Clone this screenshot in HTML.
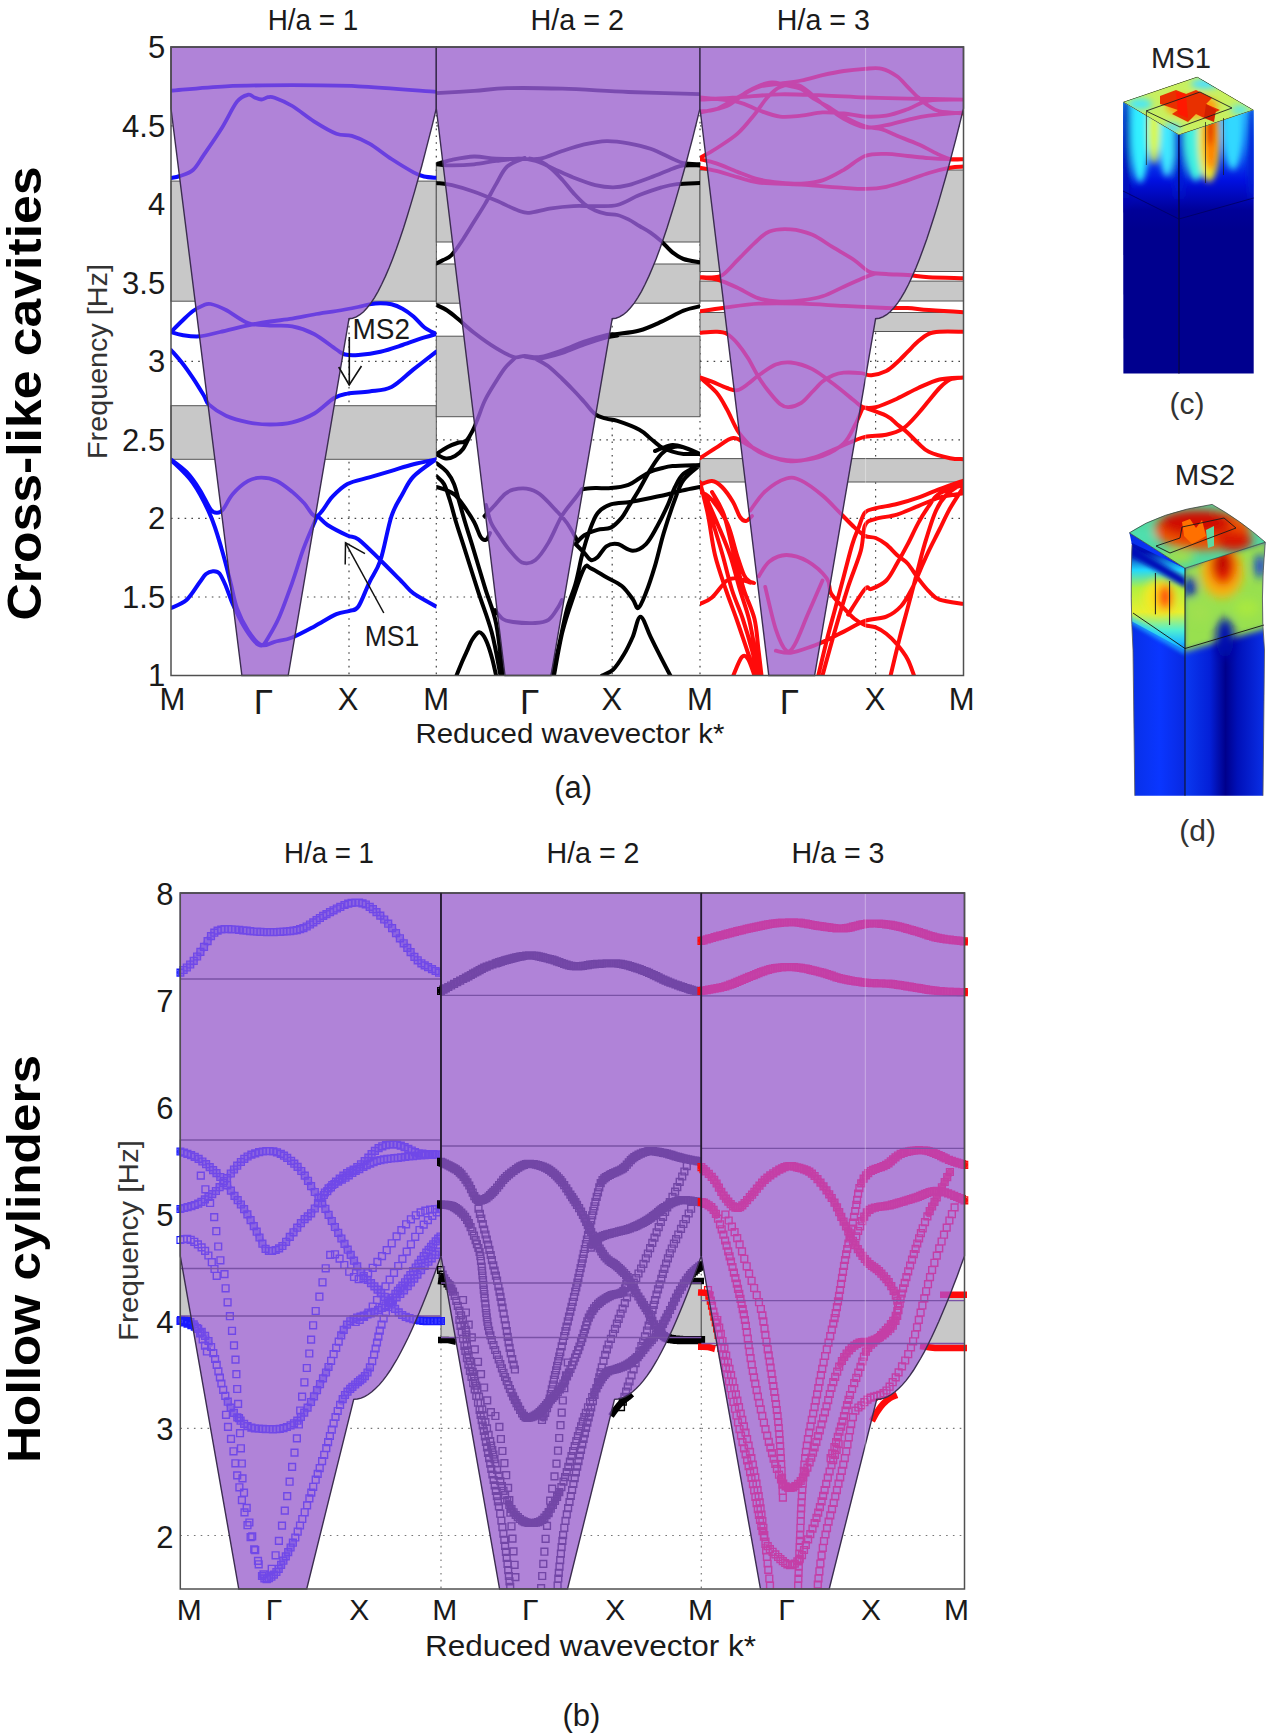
<!DOCTYPE html>
<html><head><meta charset='utf-8'><title>Band structures</title>
<style>html,body{margin:0;padding:0;background:#fff;}svg{display:block;}</style>
</head><body>
<svg width='1270' height='1735' viewBox='0 0 1270 1735' font-family='Liberation Sans, sans-serif'>
<rect x='0' y='0' width='1270' height='1735' fill='#ffffff'/>
<defs><clipPath id='ra0'><rect x='171' y='47' width='265.3' height='628.5'/></clipPath><clipPath id='ra1'><rect x='436.3' y='47' width='263.7' height='628.5'/></clipPath><clipPath id='ra2'><rect x='700' y='47' width='263.5' height='628.5'/></clipPath><clipPath id='rb0'><rect x='176.3' y='890' width='268.7' height='699'/></clipPath><clipPath id='rb1'><rect x='437' y='890' width='268.3' height='699'/></clipPath><clipPath id='rb2'><rect x='697.3' y='890' width='271.2' height='699'/></clipPath>
<clipPath id='ca0'><path d='M171,47 L436.3,47 L436.3,108.5 L436.3,108.5 L432.7,123.3 L429,137.8 L425.4,151.9 L421.8,165.7 L418.1,179 L414.5,191.9 L410.8,204.4 L407.2,216.3 L403.6,227.8 L399.9,238.7 L396.3,249.1 L392.6,258.9 L389,268 L385.4,276.4 L381.7,284.2 L378.1,291.3 L374.5,297.6 L370.8,303.1 L367.2,307.8 L363.6,311.7 L359.9,314.7 L356.3,316.9 L352.6,318.2 L349,318.7 L288.2,675.5 L241.9,675.5 L171,108.5 Z'/></clipPath>
<clipPath id='ca1'><path d='M436.3,47 L700,47 L700,108.5 L700,108.5 L696.3,123.3 L692.7,137.8 L689,151.9 L685.4,165.7 L681.7,179 L678,191.9 L674.4,204.4 L670.7,216.3 L667.1,227.8 L663.4,238.7 L659.8,249.1 L656.1,258.9 L652.4,268 L648.8,276.4 L645.1,284.2 L641.5,291.3 L637.8,297.6 L634.2,303.1 L630.5,307.8 L626.8,311.7 L623.2,314.7 L619.5,316.9 L615.9,318.2 L612.2,318.7 L551,675.5 L505,675.5 L436.3,108.5 Z'/></clipPath>
<clipPath id='ca2'><path d='M700,47 L963.5,47 L963.5,108.5 L963.5,108.5 L959.8,123.3 L956.2,137.8 L952.5,151.9 L948.9,165.7 L945.2,179 L941.5,191.9 L937.9,204.4 L934.2,216.3 L930.5,227.8 L926.9,238.7 L923.2,249.1 L919.5,258.9 L915.9,268 L912.2,276.4 L908.6,284.2 L904.9,291.3 L901.2,297.6 L897.6,303.1 L893.9,307.8 L890.2,311.7 L886.6,314.7 L882.9,316.9 L879.3,318.2 L875.6,318.7 L814.6,675.5 L768.8,675.5 L700,108.5 Z'/></clipPath>
<clipPath id='cb0'><path d='M180.3,893 L441,893 L441,1256 L441,1256 L437.4,1266.1 L433.7,1275.9 L430.1,1285.6 L426.4,1294.9 L422.8,1304 L419.2,1312.8 L415.5,1321.3 L411.9,1329.5 L408.3,1337.3 L404.6,1344.8 L401,1351.8 L397.4,1358.5 L393.7,1364.7 L390.1,1370.5 L386.4,1375.8 L382.8,1380.6 L379.2,1384.9 L375.5,1388.6 L371.9,1391.8 L368.2,1394.5 L364.6,1396.6 L361,1398.1 L357.3,1399 L353.7,1399.3 L306.7,1589 L238.8,1589 L180.3,1256 Z'/></clipPath>
<clipPath id='cb1'><path d='M441,893 L701.3,893 L701.3,1256 L701.3,1256 L697.7,1266.1 L694.1,1275.9 L690.4,1285.6 L686.8,1294.9 L683.2,1304 L679.6,1312.8 L676,1321.3 L672.4,1329.5 L668.8,1337.3 L665.1,1344.8 L661.5,1351.8 L657.9,1358.5 L654.3,1364.7 L650.7,1370.5 L647,1375.8 L643.4,1380.6 L639.8,1384.9 L636.2,1388.6 L632.6,1391.8 L629,1394.5 L625.4,1396.6 L621.7,1398.1 L618.1,1399 L614.5,1399.3 L567.5,1589 L499.6,1589 L441,1256 Z'/></clipPath>
<clipPath id='cb2'><path d='M701.3,893 L964.5,893 L964.5,1256 L964.5,1256 L960.8,1266.1 L957.2,1275.9 L953.5,1285.6 L949.9,1294.9 L946.2,1304 L942.5,1312.8 L938.9,1321.3 L935.2,1329.5 L931.6,1337.3 L927.9,1344.8 L924.3,1351.8 L920.6,1358.5 L916.9,1364.7 L913.3,1370.5 L909.6,1375.8 L906,1380.6 L902.3,1384.9 L898.7,1388.6 L895,1391.8 L891.3,1394.5 L887.7,1396.6 L884,1398.1 L880.4,1399 L876.7,1399.3 L829.2,1589 L760.5,1589 L701.3,1256 Z'/></clipPath>
</defs>
<line x1='171' y1='597' x2='436.3' y2='597' stroke='#444' stroke-width='1.2' stroke-dasharray='1.6 5.2'/>
<line x1='171' y1='518.4' x2='436.3' y2='518.4' stroke='#444' stroke-width='1.2' stroke-dasharray='1.6 5.2'/>
<line x1='171' y1='439.9' x2='436.3' y2='439.9' stroke='#444' stroke-width='1.2' stroke-dasharray='1.6 5.2'/>
<line x1='171' y1='361.4' x2='436.3' y2='361.4' stroke='#444' stroke-width='1.2' stroke-dasharray='1.6 5.2'/>
<line x1='171' y1='282.9' x2='436.3' y2='282.9' stroke='#444' stroke-width='1.2' stroke-dasharray='1.6 5.2'/>
<line x1='171' y1='204.3' x2='436.3' y2='204.3' stroke='#444' stroke-width='1.2' stroke-dasharray='1.6 5.2'/>
<line x1='171' y1='125.8' x2='436.3' y2='125.8' stroke='#444' stroke-width='1.2' stroke-dasharray='1.6 5.2'/>
<line x1='349' y1='47' x2='349' y2='675.5' stroke='#444' stroke-width='1.2' stroke-dasharray='1.6 5.2'/>
<line x1='436.3' y1='47' x2='436.3' y2='675.5' stroke='#444' stroke-width='1.2' stroke-dasharray='1.6 5.2'/>
<rect x='171' y='181.1' width='265.3' height='120.1' fill='#C8C8C8' stroke='#555' stroke-width='1'/>
<rect x='171' y='405.7' width='265.3' height='53.6' fill='#C8C8C8' stroke='#555' stroke-width='1'/>
<line x1='436.3' y1='597' x2='700' y2='597' stroke='#444' stroke-width='1.2' stroke-dasharray='1.6 5.2'/>
<line x1='436.3' y1='518.4' x2='700' y2='518.4' stroke='#444' stroke-width='1.2' stroke-dasharray='1.6 5.2'/>
<line x1='436.3' y1='439.9' x2='700' y2='439.9' stroke='#444' stroke-width='1.2' stroke-dasharray='1.6 5.2'/>
<line x1='436.3' y1='361.4' x2='700' y2='361.4' stroke='#444' stroke-width='1.2' stroke-dasharray='1.6 5.2'/>
<line x1='436.3' y1='282.9' x2='700' y2='282.9' stroke='#444' stroke-width='1.2' stroke-dasharray='1.6 5.2'/>
<line x1='436.3' y1='204.3' x2='700' y2='204.3' stroke='#444' stroke-width='1.2' stroke-dasharray='1.6 5.2'/>
<line x1='436.3' y1='125.8' x2='700' y2='125.8' stroke='#444' stroke-width='1.2' stroke-dasharray='1.6 5.2'/>
<line x1='612.2' y1='47' x2='612.2' y2='675.5' stroke='#444' stroke-width='1.2' stroke-dasharray='1.6 5.2'/>
<line x1='700' y1='47' x2='700' y2='675.5' stroke='#444' stroke-width='1.2' stroke-dasharray='1.6 5.2'/>
<rect x='436.3' y='164.5' width='263.7' height='77.5' fill='#C8C8C8' stroke='#555' stroke-width='1'/>
<rect x='436.3' y='264' width='263.7' height='39.2' fill='#C8C8C8' stroke='#555' stroke-width='1'/>
<rect x='436.3' y='336.2' width='263.7' height='80.5' fill='#C8C8C8' stroke='#555' stroke-width='1'/>
<line x1='700' y1='597' x2='963.5' y2='597' stroke='#444' stroke-width='1.2' stroke-dasharray='1.6 5.2'/>
<line x1='700' y1='518.4' x2='963.5' y2='518.4' stroke='#444' stroke-width='1.2' stroke-dasharray='1.6 5.2'/>
<line x1='700' y1='439.9' x2='963.5' y2='439.9' stroke='#444' stroke-width='1.2' stroke-dasharray='1.6 5.2'/>
<line x1='700' y1='361.4' x2='963.5' y2='361.4' stroke='#444' stroke-width='1.2' stroke-dasharray='1.6 5.2'/>
<line x1='700' y1='282.9' x2='963.5' y2='282.9' stroke='#444' stroke-width='1.2' stroke-dasharray='1.6 5.2'/>
<line x1='700' y1='204.3' x2='963.5' y2='204.3' stroke='#444' stroke-width='1.2' stroke-dasharray='1.6 5.2'/>
<line x1='700' y1='125.8' x2='963.5' y2='125.8' stroke='#444' stroke-width='1.2' stroke-dasharray='1.6 5.2'/>
<line x1='875.6' y1='47' x2='875.6' y2='675.5' stroke='#444' stroke-width='1.2' stroke-dasharray='1.6 5.2'/>
<rect x='700' y='170' width='263.5' height='101.5' fill='#C8C8C8' stroke='#555' stroke-width='1'/>
<rect x='700' y='281.1' width='263.5' height='19.9' fill='#C8C8C8' stroke='#555' stroke-width='1'/>
<rect x='700' y='312.5' width='263.5' height='19' fill='#C8C8C8' stroke='#555' stroke-width='1'/>
<rect x='700' y='458.6' width='263.5' height='23.4' fill='#C8C8C8' stroke='#555' stroke-width='1'/>
<g clip-path='url(#ra0)'>
<defs><path id='cv1' d='M171,90.7 C180.2,90 205.8,87.2 226,86.3 C246.2,85.4 270,85.2 292,85.2 C314,85.2 333.9,85.2 358,86.3 C382.1,87.4 423.2,90.9 436.3,91.8 M171,178 C172.5,177.7 176.3,177.3 180,176 C183.7,174.7 189,173.6 193,170 C197,166.4 199.2,161.6 204,154.6 C208.8,147.6 216.2,137 221.7,128.2 C227.2,119.4 232.6,107.3 237,101.7 C241.4,96.1 245.3,95.4 248.2,94.7 C251.1,94 252.3,96.7 254.5,97.5 C256.7,98.3 259.1,99.5 261.4,99.5 C263.6,99.5 265.8,97.5 268,97.2 C270.2,96.9 270.6,96.3 274.6,97.8 C278.7,99.3 285.7,102 292.3,106 C298.9,110 307,117 314.3,121.6 C321.6,126.2 330.1,131.3 336.4,133.7 C342.6,136.1 346.3,134.2 351.8,135.9 C357.3,137.6 362.8,139.8 369.4,143.6 C376,147.4 384.1,154.2 391.5,159 C398.9,163.8 408.1,169.4 413.5,172.3 C418.9,175.2 420.2,175.6 424,176.5 C427.8,177.4 434.2,177.6 436.3,177.8 M171,332 C172.8,330.2 178.3,324.5 182,321 C185.7,317.5 189.5,313.6 193,311 C196.5,308.4 200.1,306.7 203,305.5 C205.9,304.3 206.9,303.2 210.7,304 C214.5,304.8 219.8,306.8 226,310 C232.2,313.2 240.7,320.4 248,323 C255.3,325.6 262.6,324.9 270,325.5 C277.4,326.1 285,325 292.3,326.4 C299.6,327.8 306.6,330.1 314,334 C321.4,337.9 331.2,346.1 336.4,349.5 C341.6,352.9 341.3,353.6 345,354.5 C348.7,355.4 352.5,355.5 358.4,355 C364.3,354.5 373.1,353.4 380.5,351.7 C387.9,350 395.2,347.4 402.5,345 C409.8,342.6 418.9,339.2 424.5,337.4 C430.1,335.6 434.3,334.6 436.3,334 M171,332 C172.8,332.5 177.2,334.3 182,335 C186.8,335.7 193.4,336.8 199.7,336.3 C206,335.8 211.9,333.8 220,332 C228.1,330.2 239.9,327.1 248.2,325.3 C256.5,323.6 262.6,322.6 270,321.5 C277.4,320.4 285,319.9 292.3,318.7 C299.6,317.5 306.6,315.8 314,314.5 C321.4,313.2 329.1,312.2 336.4,311 C343.7,309.8 352.5,308.1 358,307 C363.5,305.9 365.6,304.9 369.4,304.3 C373.1,303.7 376.8,303.2 380.5,303.2 C384.2,303.2 387.8,303.4 391.5,304.3 C395.2,305.2 398.8,306.7 402.5,308.7 C406.2,310.7 409.8,313.4 413.5,316.5 C417.2,319.6 420.7,324.6 424.5,327.5 C428.3,330.4 434.3,332.9 436.3,334 M171,350 C172.8,352.1 178.3,358.1 182,362.8 C185.7,367.5 189.3,372.7 193,378.2 C196.7,383.7 201.3,391.4 204,395.8 C206.7,400.2 205.3,401.3 209,404.6 C212.7,407.9 219.5,412.8 226,415.7 C232.5,418.6 240.8,420.8 248.2,422.3 C255.6,423.8 262.8,424.5 270.2,424.5 C277.6,424.5 284.9,424.1 292.3,422.3 C299.7,420.5 307.3,417.6 314.3,413.5 C321.3,409.4 328.7,401.3 334.2,398 C339.7,394.7 341.5,394.7 347.4,393.6 C353.3,392.5 362,392.5 369.4,391.4 C376.8,390.3 384.1,390.7 391.5,387 C398.9,383.3 406,375.3 413.5,369.4 C421,363.5 432.5,354.6 436.3,351.7 M171,459.5 C173.6,461.6 181.7,467 186.5,472 C191.3,477 195.7,483.4 199.7,489.7 C203.7,495.9 207.8,505.6 210.7,509.5 C213.6,513.4 215.2,512.8 217.3,512.8 C219.4,512.8 220.4,512.6 223,509.5 C225.6,506.4 228.6,498.8 232.8,494 C237,489.2 243.4,483.6 248.2,480.9 C253,478.2 256.6,477.6 261.4,477.6 C266.2,477.6 271.6,478.5 276.8,480.9 C282,483.3 287.8,488.2 292.3,491.9 C296.8,495.6 300,499 304,503 C308,507 311.8,517.1 316.5,516.1 C321.2,515.1 326.9,502.6 332,497.2 C337.1,491.8 341.2,487.3 347.4,484 C353.6,480.7 362,479.6 369.4,477.4 C376.8,475.2 384.1,473 391.5,470.8 C398.9,468.6 406,466.1 413.5,464.2 C421,462.3 432.5,460.3 436.3,459.5 M171,460 C174.7,463.8 186.4,473.6 193,483 C199.6,492.4 205.9,505.1 210.7,516.1 C215.5,527.1 218.4,538.2 221.7,549.2 C225,560.2 227.9,572.4 230.5,582.3 C233.1,592.2 234.2,600.6 237.2,608.7 C240.1,616.8 244.2,624.7 248.2,630.8 C252.2,636.9 257,643.3 261.4,645.1 C265.8,646.9 269.5,643.1 274.6,641.8 C279.8,640.5 285.7,640 292.3,637.4 C298.9,634.8 307,630.3 314.3,626.4 C321.6,622.5 330.5,616.8 336.4,614.2 C342.3,611.6 345.9,612.2 349.6,610.9 C353.3,609.6 355.1,611.3 358.4,606.5 C361.7,601.7 365.7,590 369.4,582.3 C373.1,574.6 376.8,571.2 380.5,560.2 C384.2,549.2 387.8,527.1 391.5,516.1 C395.2,505.1 398.8,500.7 402.5,494.1 C406.2,487.5 407.9,482.4 413.5,476.5 C419.1,470.6 432.5,461.9 436.3,459 M171,608 C173.6,606.7 181.7,604.3 186.5,600 C191.3,595.7 196.4,586.6 199.7,582.3 C202.9,578 203.8,575.8 206,574 C208.2,572.2 210.7,571.4 212.9,571.3 C215.2,571.2 217.3,570.9 219.5,573.5 C221.7,576.1 223.9,581.6 226.1,586.7 C228.3,591.8 229.9,597.7 232.8,604.3 C235.8,610.9 240.1,620.1 243.8,626.4 C247.5,632.6 251.8,638.6 254.8,641.8 C257.8,645 259.8,646.1 262,645.5 C264.2,644.9 265.2,642.7 268,638 C270.8,633.3 274.9,626.8 279,617.5 C283.1,608.2 288.2,593.7 292.3,582.3 C296.4,570.9 299.6,559.1 303.3,549.2 C307,539.3 311.9,528.2 314.3,522.8 C316.8,517.4 315.8,516.6 318,517 C320.2,517.4 322.6,521.9 327.5,525 C332.4,528.1 342.2,533.1 347.4,535.5 C352.5,537.9 352.9,535.2 358.4,539.3 C363.9,543.4 373.1,553 380.5,560.2 C387.9,567.4 397,576.8 402.5,582.3 C408,587.8 407.9,589.3 413.5,593.3 C419.1,597.3 432.5,604.3 436.3,606.5'/></defs>
<use href='#cv1' fill='none' stroke-linecap='round' stroke-linejoin='round' stroke='#0a0aff' stroke-width='4.0'/>
<g clip-path='url(#ca0)'>
<rect x='0' y='0' width='1270' height='1735' fill='#B083D8'/>
<use href='#cv1' fill='none' stroke-linecap='round' stroke-linejoin='round' stroke='#6a3fe0' stroke-width='3.8'/>
</g>
</g>
<path d='M171,47 L436.3,47 L436.3,108.5 L436.3,108.5 L432.7,123.3 L429,137.8 L425.4,151.9 L421.8,165.7 L418.1,179 L414.5,191.9 L410.8,204.4 L407.2,216.3 L403.6,227.8 L399.9,238.7 L396.3,249.1 L392.6,258.9 L389,268 L385.4,276.4 L381.7,284.2 L378.1,291.3 L374.5,297.6 L370.8,303.1 L367.2,307.8 L363.6,311.7 L359.9,314.7 L356.3,316.9 L352.6,318.2 L349,318.7 L288.2,675.5 L241.9,675.5 L171,108.5 Z' fill='none' stroke='#3b2d4f' stroke-width='1.4'/>
<g clip-path='url(#ra1)'>
<defs><path id='cv2' d='M436.3,93.1 C442.6,92.7 462.3,91.7 474.1,90.9 C485.9,90.1 492.5,88.6 507.2,88.2 C521.9,87.8 542.1,88.1 562.3,88.7 C582.5,89.3 605.4,91.1 628.4,92 C651.4,92.9 688.1,93.8 700,94.2 M436.3,164.3 C438.9,163.6 445.7,161.1 452,159.8 C458.3,158.5 466.8,156.7 474.1,156.5 C481.5,156.3 488,158.3 496.1,158.7 C504.2,159.1 515.2,158.7 522.6,158.7 C530,158.7 533.6,160 540.2,158.7 C546.8,157.4 554.9,153.4 562.3,151 C569.6,148.6 576.9,146.1 584.3,144.4 C591.6,142.8 599,141.3 606.4,141.1 C613.8,140.9 621,142 628.4,143.3 C635.8,144.6 643.1,146.2 650.5,148.8 C657.9,151.4 667,156.3 672.5,158.7 C678,161.1 678.9,162.2 683.5,163.1 C688.1,164 697.2,164.1 700,164.3 M436.3,164.3 C438.9,164.5 445.7,165.4 452,165.4 C458.3,165.4 466.8,165.1 474.1,164.3 C481.5,163.6 488.8,161.8 496.1,160.9 C503.5,160 511.6,158.7 518.2,158.7 C524.8,158.7 529.9,159.2 535.8,160.9 C541.7,162.6 547.2,165.9 553.5,168.7 C559.8,171.5 566.3,174.8 573.3,177.5 C580.3,180.2 588.7,183.5 595.3,185.2 C601.9,186.8 607.5,187.4 613,187.4 C618.5,187.4 622.1,186.8 628.4,185.2 C634.6,183.5 643.1,180.2 650.5,177.5 C657.9,174.8 667,170.7 672.5,168.7 C678,166.7 678.9,165.9 683.5,165.4 C688.1,164.9 697.2,165.4 700,165.4 M524.8,158 C521.9,159.4 512,162.2 507.2,166.5 C502.4,170.8 499.8,177.9 496.1,184.1 C492.4,190.3 488.8,197.7 485.1,203.9 C481.4,210.2 477.8,215.7 474.1,221.6 C470.4,227.5 466.8,233.7 463.1,239.2 C459.4,244.7 455.3,251.1 452,254.6 C448.7,258.1 445.8,258.6 443.2,260.1 C440.6,261.6 437.4,262.9 436.3,263.5 M530,158.5 C531.7,158.9 536.5,159.3 540,161 C543.5,162.7 547.6,165.6 551.3,168.7 C555,171.8 558.6,175.7 562.3,179.7 C566,183.7 569.6,188.9 573.3,192.9 C577,196.9 580.6,201 584.3,203.9 C588,206.8 591.6,208.8 595.3,210.5 C599,212.2 602.7,213.2 606.4,213.9 C610.1,214.7 613.7,214.1 617.4,215 C621.1,215.9 624.7,217.6 628.4,219.4 C632.1,221.2 635.7,223.8 639.4,226 C643.1,228.2 646.8,230 650.5,232.6 C654.2,235.2 657.8,238.1 661.5,241.4 C665.2,244.7 668.8,249.5 672.5,252.4 C676.2,255.3 678.9,257.3 683.5,259 C688.1,260.7 697.2,261.8 700,262.4 M436.3,183 C438.9,183.4 445.7,183.7 452,185.2 C458.3,186.7 466.8,189.2 474.1,191.8 C481.5,194.4 488.8,197.5 496.1,200.6 C503.5,203.7 512.7,208.5 518.2,210.5 C523.7,212.5 523.7,213.2 529.2,212.8 C534.7,212.4 543.9,209.4 551.3,208.3 C558.6,207.2 566,206.5 573.3,206.1 C580.6,205.7 587.9,206.3 595.3,206.1 C602.6,205.9 610,206.8 617.4,205 C624.8,203.2 632,198 639.4,195.1 C646.8,192.2 655.2,189.2 661.5,187.4 C667.8,185.6 670.5,184.8 676.9,184.1 C683.3,183.4 696.1,183.2 700,183 M436.3,305 C438.2,305.9 443.9,308.3 447.6,310.7 C451.3,313.1 454.3,315.8 458.7,319.5 C463.1,323.2 467.9,328 474.1,332.8 C480.3,337.6 489.5,344.2 496.1,348.2 C502.7,352.2 509,355.7 513.8,357 C518.6,358.3 520.4,355.9 524.8,355.9 C529.2,355.9 534,357.9 540.2,357 C546.5,356.1 554.9,353 562.3,350.4 C569.6,347.8 576.9,344.2 584.3,341.6 C591.6,339 600.9,336.3 606.4,335 C611.9,333.7 611.9,334.6 617.4,333.9 C622.9,333.1 632,332.5 639.4,330.5 C646.8,328.5 654.1,325 661.5,321.7 C668.9,318.4 677.1,313.3 683.5,310.7 C689.9,308.1 697.2,307 700,306.3 M524.8,356.5 C527.4,356.8 534,359.1 540.2,358.5 C546.5,357.9 554.9,355.3 562.3,353 C569.6,350.7 576.9,347.1 584.3,344.5 C591.6,341.9 600.9,339 606.4,337.5 C611.9,336 615.6,335.8 617.4,335.5 M515,358 C513.3,359.7 508.1,364.1 505,368 C501.9,371.9 499.4,376 496.1,381.3 C492.8,386.6 488.1,393.9 485.1,400 C482.1,406.1 480,413 478,418 C476,423 475,426.2 473,430 C471,433.8 468.4,438.9 466,441 C463.6,443.1 461.8,441.5 458.7,442.5 C455.6,443.5 451.3,445.1 447.6,447 C443.9,448.9 438.2,452.8 436.3,454 M436.3,454 C437.9,454.8 442.9,458.2 446,458.5 C449.1,458.8 452.2,457.6 455,456 C457.8,454.4 460.6,452.3 463,449 C465.4,445.7 468.6,438.2 469.7,436 M535,358.5 C537.2,359.8 543.5,362.6 548,366 C552.5,369.4 558.1,375 562.3,379 C566.5,383 569.6,386.2 573.3,390 C577,393.8 580.6,397.9 584.3,402 C588,406.1 591.6,411.5 595.3,414.3 C599,417.1 602.7,417.6 606.4,418.7 C610.1,419.8 611.9,419.1 617.4,420.9 C622.9,422.7 633.9,426.8 639.4,429.7 C644.9,432.6 646.8,435.6 650.5,438.5 C654.2,441.4 657.8,445.1 661.5,447.3 C665.2,449.5 668.8,450.6 672.5,451.7 C676.2,452.8 678.9,453.5 683.5,453.9 C688.1,454.3 697.2,453.9 700,453.9 M655,451 C656.1,450.6 658.6,449.4 661.5,448.4 C664.4,447.4 668.8,445.3 672.5,445.1 C676.2,444.9 678.9,445.8 683.5,447.3 C688.1,448.8 697.2,452.8 700,453.9 M436.3,476 C437.6,477.3 441.8,480 444,484 C446.2,488 447.8,493.7 449.8,500 C451.8,506.3 453.8,514.6 456,522 C458.2,529.4 459.4,532.3 463.1,544.1 C466.9,555.9 473.7,577.9 478.5,592.6 C483.3,607.3 488,618.5 491.7,632.3 C495.4,646.1 499,668.3 500.5,675.5 M436.3,463 C438.1,464.5 444.1,468.5 447,472 C449.9,475.5 452.1,479.3 454,484 C455.9,488.7 456.9,493.7 458.7,500 C460.5,506.3 462.8,514.6 465,522 C467.2,529.4 468.5,533.1 471.9,544.1 C475.2,555.1 481.1,575 485.1,588.2 C489.1,601.4 493.2,609 496.1,623.5 C499.1,638 501.7,666.8 502.8,675.5 M436.3,487 C437.9,487.5 442.9,488.7 446,490 C449.1,491.3 452.1,492.5 455,495 C457.9,497.5 459.9,500.5 463.1,505 C466.3,509.5 471.2,516.7 474.1,522 C477,527.3 478.7,534 480.7,537 C482.7,540 484.6,540.4 486.2,539.7 C487.8,539 489.4,534.1 490,533 M484.5,516 C486.2,514.2 491.6,508.7 495,505 C498.4,501.3 502,496.6 505,494 C508,491.4 509.6,490.6 513.2,489.7 C516.8,488.8 522,487.9 526.4,488.6 C530.8,489.3 534.5,490.2 539.6,494.1 C544.8,498 552.7,506.9 557.3,511.7 C561.9,516.5 563.7,518.3 567,523 C570.3,527.7 575.3,537.2 577,540 M486,505 C486.9,508 488.8,517.5 491.1,522.8 C493.4,528.1 497.1,532.6 500,537 C502.9,541.4 505.1,545 508.8,549.2 C512.5,553.4 517.6,560.6 522,562.4 C526.4,564.2 530.8,563.5 535.2,560.2 C539.6,556.9 544.1,550 548.5,542.6 C552.9,535.2 557.3,523.5 561.7,516.1 C566.1,508.8 571.6,503 575,498.5 C578.4,494 580.8,490.6 582,489 M495,610 C496.3,611.5 499.8,617 502.8,619 C505.8,621 507.8,621.3 513.2,622 C518.6,622.7 529.3,623.4 535.2,623 C541.1,622.6 544.8,622.2 548.5,619.8 C552.2,617.4 555,612 557.3,608.7 C559.5,605.4 561.2,601.5 562,600 M456.5,675.5 C457.4,673.2 460.2,666.3 462,662 C463.8,657.7 465.8,653.6 467.5,649.9 C469.2,646.2 470.2,642.9 472,640 C473.8,637.1 476.7,633.1 478.5,632.3 C480.3,631.5 481.5,633.2 483,635 C484.5,636.8 485.8,639.5 487.3,643.3 C488.8,647.1 490.5,652.6 492,658 C493.5,663.4 495.4,672.6 496.1,675.5 M552,675.5 C553,671.2 555.5,660.9 558,650 C560.5,639.1 563.8,621.2 566.7,610.2 C569.6,599.2 572.9,593 575.5,583.8 C578.1,574.6 579.9,563.5 582.1,555.1 C584.3,546.7 586.1,540.1 588.7,533.1 C591.3,526.1 593.8,518 597.5,513.2 C601.2,508.4 605.6,506.2 610.8,504.4 C615.9,502.6 623.6,502.9 628.4,502.2 C633.2,501.5 633.9,501.3 639.4,500.2 C644.9,499.1 654.1,497.4 661.5,495.8 C668.9,494.2 677.1,491.8 683.5,490.3 C689.9,488.8 697.2,487.6 700,487 M554,675.5 C555.4,668.3 559.1,645.4 562.3,632.3 C565.5,619.2 569.6,607.7 573.3,597 C577,586.3 581.4,572.8 584.3,568 C587.2,563.2 587.2,566.8 590.9,568.3 C594.6,569.8 601.2,574.2 606.4,577.2 C611.5,580.2 617.4,582.3 621.8,586 C626.2,589.7 630,595.5 632.8,599.2 C635.5,602.9 636.1,609.1 638.3,608 C640.5,606.9 643.2,599.6 646,592.6 C648.8,585.6 651.9,576 654.9,566.1 C657.9,556.2 660.4,544.1 663.7,533.1 C667,522.1 671.4,508.9 674.7,500 C678,491.1 679.3,485.8 683.5,480 C687.7,474.2 697.2,467.5 700,465 M575.5,544.1 C577,542.6 580.6,537.7 584.3,535.3 C588,532.9 593.1,531.1 597.5,529.8 C601.9,528.5 606.8,529.6 610.8,527.6 C614.8,525.6 618.9,521 621.8,517.6 C624.7,514.2 625.5,511.7 628.4,507 C631.3,502.3 635.7,495.5 639.4,489.2 C643.1,482.9 646.8,475.3 650.5,469.4 C654.2,463.5 657.8,457.6 661.5,453.9 C665.2,450.2 668.8,448.4 672.5,447.3 C676.2,446.2 678.9,446.2 683.5,447.3 C688.1,448.4 697.2,452.8 700,453.9 M575.5,544 C577,545.5 581.7,550.2 584.3,552.9 C586.9,555.6 588.7,559.3 590.9,560 C593.1,560.7 594.9,559.6 597.5,557.3 C600.1,555 603.1,548.5 606.4,546.3 C609.7,544.1 613,543.4 617.4,544.1 C621.8,544.8 628,550.7 632.8,550.7 C637.6,550.7 642,548.1 646,544.1 C650,540.1 653.4,533.1 657.1,526.5 C660.8,519.9 665.1,511 668.1,504.4 C671.1,497.8 672.4,492.1 675,487 C677.6,481.9 679.3,477.5 683.5,473.8 C687.7,470.1 697.2,466.5 700,465 M582.1,489.2 C584.3,489 590.5,488.3 595.3,488.1 C600.1,487.9 605.3,488.7 610.8,488.1 C616.3,487.6 623.6,486.5 628.4,484.8 C633.2,483.1 635.7,480.4 639.4,478.2 C643.1,476 646.8,473.2 650.5,471.6 C654.2,470 657.8,469.2 661.5,468.3 C665.2,467.4 666.1,466.7 672.5,466.1 C678.9,465.6 695.4,465.2 700,465 M602,675.5 C603.8,674.5 609.3,673.3 613,669.8 C616.7,666.3 620.7,659.8 624,654.3 C627.3,648.8 630,643 632.8,636.7 C635.5,630.5 637.5,616.8 640.5,616.8 C643.5,616.8 647,629.7 650.5,636.7 C654,643.7 658.2,652.2 661.5,658.7 C664.8,665.2 668.8,672.7 670.3,675.5'/></defs>
<use href='#cv2' fill='none' stroke-linecap='round' stroke-linejoin='round' stroke='#000000' stroke-width='4.0'/>
<g clip-path='url(#ca1)'>
<rect x='0' y='0' width='1270' height='1735' fill='#B083D8'/>
<use href='#cv2' fill='none' stroke-linecap='round' stroke-linejoin='round' stroke='#7a4bb0' stroke-width='3.8'/>
</g>
</g>
<path d='M436.3,47 L700,47 L700,108.5 L700,108.5 L696.3,123.3 L692.7,137.8 L689,151.9 L685.4,165.7 L681.7,179 L678,191.9 L674.4,204.4 L670.7,216.3 L667.1,227.8 L663.4,238.7 L659.8,249.1 L656.1,258.9 L652.4,268 L648.8,276.4 L645.1,284.2 L641.5,291.3 L637.8,297.6 L634.2,303.1 L630.5,307.8 L626.8,311.7 L623.2,314.7 L619.5,316.9 L615.9,318.2 L612.2,318.7 L551,675.5 L505,675.5 L436.3,108.5 Z' fill='none' stroke='#3b2d4f' stroke-width='1.4'/>
<g clip-path='url(#ra2)'>
<defs><path id='cv3' d='M700,99.6 C706.2,99.2 724.2,98.4 737.5,97.5 C750.8,96.6 765.8,94.6 780,94.3 C794.2,94 808.3,94.9 822.5,95.4 C836.7,95.9 850.8,97 865,97.5 C879.2,98 891.2,98.2 907.6,98.6 C924,98.9 954.2,99.4 963.5,99.6 M700,97.5 C706.2,98.2 727.7,99.7 737.5,101.8 C747.3,103.9 751.7,107.8 758.8,110.3 C765.9,112.8 772.9,115.7 780,116.6 C787.1,117.5 794.2,116.3 801.3,115.6 C808.4,114.9 815.4,112.8 822.5,112.4 C829.6,112.1 836.7,112.8 843.8,113.5 C850.9,114.2 857.9,116.2 865,116.6 C872.1,116.9 879.2,116.8 886.3,115.6 C893.4,114.4 900.5,111.7 907.6,109.2 C914.7,106.7 919.5,102.3 928.8,100.7 C938.1,99.1 957.7,99.8 963.5,99.6 M700,111.3 C702.7,111 710,111.5 716.3,109.2 C722.5,106.9 730.4,101.2 737.5,97.5 C744.6,93.8 751.7,89.2 758.8,86.9 C765.9,84.6 772.9,84.8 780,83.7 C787.1,82.6 794.2,81.9 801.3,80.5 C808.4,79.1 815.4,76.8 822.5,75.2 C829.6,73.6 836.7,72.1 843.8,71 C850.9,69.9 858.6,69.2 865,68.8 C871.4,68.4 876.8,67.5 882.1,68.8 C887.4,70 892.8,73.3 897,76.3 C901.2,79.3 904.1,83.4 907.6,86.9 C911.1,90.4 914.7,94.3 918.2,97.5 C921.7,100.7 925.2,103.7 928.8,106 C932.3,108.3 933.7,110 939.5,111.3 C945.3,112.5 959.5,113.1 963.5,113.5 M700,112.4 C704.5,111.3 718.9,109.5 726.9,106 C734.9,102.5 741,95 748.1,91.1 C755.2,87.2 763.4,83.6 769.4,82.6 C775.4,81.5 779,83.7 784.3,84.8 C789.6,85.9 796.7,86.9 801.3,89 C805.9,91.1 807.6,94.7 811.9,97.5 C816.1,100.3 821.5,102.8 826.8,106 C832.1,109.2 837.4,113.2 843.8,116.6 C850.2,120 858.6,124.1 865,126.2 C871.4,128.3 876.8,127.8 882.1,129.4 C887.4,131 891,133.3 897,135.8 C903,138.3 911.1,141.1 918.2,144.3 C925.3,147.5 934.2,152.4 939.5,154.9 C944.8,157.4 946.1,158.5 950.1,159.2 C954.1,159.9 961.3,159.2 963.5,159.2 M700,158 C702.7,156.4 710,152.6 716.3,148.5 C722.5,144.4 731.1,139.4 737.5,133.7 C743.9,128 749.5,120.5 754.5,114.5 C759.5,108.5 763,102.1 767.3,97.5 C771.5,92.9 775,89 780,86.9 C785,84.8 792.4,84.1 797,84.8 C801.6,85.5 803.5,87.9 807.7,91.1 C812,94.3 816.5,99.3 822.5,103.9 C828.5,108.5 836.7,114.9 843.8,118.8 C850.9,122.7 857.9,126.2 865,127.3 C872.1,128.4 879.2,126.5 886.3,125.2 C893.4,124 900.5,121.4 907.6,119.8 C914.7,118.2 919.5,116.8 928.8,115.6 C938.1,114.4 957.7,112.9 963.5,112.4 M700,159.2 C702.7,159.9 710,161.3 716.3,163.4 C722.5,165.5 730.4,169.2 737.5,171.9 C744.6,174.6 751.7,177.6 758.8,179.4 C765.9,181.2 772.9,181.9 780,182.6 C787.1,183.3 794.2,184 801.3,183.6 C808.4,183.2 815.4,182.7 822.5,180.4 C829.6,178.1 836.7,173.9 843.8,169.8 C850.9,165.7 857.9,158.7 865,156 C872.1,153.3 879.2,153.9 886.3,153.9 C893.4,153.9 900.5,155.3 907.6,156 C914.7,156.7 921.7,157.6 928.8,158.1 C935.9,158.6 944.3,159 950.1,159.2 C955.9,159.4 961.3,159.2 963.5,159.2 M700,167.7 C702.7,168.2 710,169.3 716.3,170.9 C722.5,172.5 730.4,175.2 737.5,177.2 C744.6,179.1 748.2,181.3 758.8,182.6 C769.4,183.8 787.1,183.8 801.3,184.7 C815.5,185.6 833.2,187.2 843.8,187.9 C854.4,188.6 857.9,189.1 865,188.9 C872.1,188.7 879.2,188.2 886.3,186.8 C893.4,185.4 900.5,182.7 907.6,180.4 C914.7,178.1 921.7,175.1 928.8,173 C935.9,170.9 944.3,168.8 950.1,167.7 C955.9,166.6 961.3,166.8 963.5,166.6 M700,277.2 C702,277.2 708.2,277.9 712,277.5 C715.8,277.1 718.4,277.9 722.6,275 C726.9,272.1 732.2,265.5 737.5,260.2 C742.8,254.9 749.2,247.9 754.5,243.1 C759.8,238.3 763.4,233.8 769.4,231.5 C775.4,229.2 783.6,228.8 790.7,229.3 C797.8,229.8 804.8,231.6 811.9,234.6 C819,237.6 826.1,243.1 833.2,247.4 C840.3,251.7 848.4,256.1 854.4,260.2 C860.4,264.3 864,269.5 869.3,271.8 C874.6,274.1 879.9,273.5 886.3,274 C892.7,274.5 900.5,274.5 907.6,275 C914.7,275.5 919.5,276.7 928.8,277.2 C938.1,277.7 957.7,278 963.5,278.2 M700,277.5 C702,277.7 708.2,277.9 712,278.5 C715.8,279.1 718.4,279.8 722.6,281.4 C726.9,282.9 731.5,285 737.5,287.8 C743.5,290.6 751.7,296.1 758.8,298.4 C765.9,300.7 772.9,301.2 780,301.6 C787.1,302 794.2,301.4 801.3,300.5 C808.4,299.6 815.4,298.6 822.5,296.3 C829.6,294 836.7,289.9 843.8,286.7 C850.9,283.5 859.7,279.4 865,277.2 C870.3,275 873.9,274.1 875.7,273.5 M700,311.2 C703.8,310.7 712.8,309.2 722.6,308 C732.4,306.8 745.7,304.4 758.8,303.7 C771.9,303 787.1,303.3 801.3,303.7 C815.5,304.1 829.6,305.2 843.8,305.9 C858,306.6 875.7,307.6 886.3,308 C896.9,308.4 900.5,307.6 907.6,308 C914.7,308.4 919.5,309.4 928.8,310.1 C938.1,310.8 957.7,311.9 963.5,312.2 M700,332.8 C702.7,332.6 711.8,331.5 716.3,331.7 C720.8,331.9 723.4,331.9 726.9,333.8 C730.4,335.8 734,339.3 737.5,343.4 C741,347.5 744.6,352.6 748.1,358.3 C751.6,364 755.2,371.7 758.8,377.4 C762.3,383.1 765.9,387.9 769.4,392.3 C772.9,396.7 776.8,401.5 780,404 C783.2,406.5 785,407.4 788.5,407.2 C792,407 797.4,405.4 801.3,402.9 C805.2,400.4 808.4,395.9 811.9,392.3 C815.4,388.8 819,384.4 822.5,381.6 C826,378.8 829.7,376.8 833.2,375.3 C836.8,373.8 839.2,373.1 843.8,372.7 C848.4,372.3 856.2,372.7 860.8,373.1 C865.4,373.5 867.1,375.7 871.4,375.3 C875.6,374.9 882,373.1 886.3,371 C890.6,368.9 893.5,365.7 897,362.5 C900.5,359.3 904.1,355.4 907.6,351.9 C911.1,348.4 914.7,344.3 918.2,341.3 C921.7,338.3 925.2,335.4 928.8,333.8 C932.3,332.2 933.7,332.1 939.5,331.7 C945.3,331.3 959.5,331.7 963.5,331.7 M700,377.4 C702,378.1 707.5,379.8 712,381.6 C716.5,383.4 722.6,386.6 726.9,388 C731.1,389.4 734,390.9 737.5,390.2 C741,389.5 744.6,386.3 748.1,383.8 C751.6,381.3 754.2,378.5 758.8,375.3 C763.4,372.1 770.5,366.7 775.8,364.6 C781.1,362.5 784.7,361.8 790.7,362.5 C796.7,363.2 804.8,365.3 811.9,368.9 C819,372.4 826.1,378.5 833.2,383.8 C840.3,389.1 849.5,396.9 854.4,400.8 C859.3,404.7 859.3,406.1 862.9,407.2 C866.5,408.3 870,408.6 875.7,407.2 C881.4,405.8 889.9,401.9 897,398.7 C904.1,395.5 911.1,391.2 918.2,388 C925.3,384.8 932,381.3 939.5,379.5 C947,377.7 959.5,377.8 963.5,377.4 M700,377.4 C702.7,379.9 711.8,387 716.3,392.3 C720.8,397.6 723.4,402.9 726.9,409.3 C730.4,415.7 734,424.8 737.5,430.5 C741,436.2 744.6,439.8 748.1,443.3 C751.6,446.9 753.5,449.2 758.8,451.8 C764.1,454.4 772.9,457.8 780,459.2 C787.1,460.6 794.2,460.8 801.3,460.3 C808.4,459.8 815.4,458.8 822.5,456 C829.6,453.2 838.4,448.5 843.8,443.3 C849.2,438.1 851.8,431 855,425 C858.2,419 861.6,410.2 862.9,407.2 M700,458.2 C702.7,456.4 710.8,451 716.3,447.6 C721.8,444.2 728,438.4 733.3,438 C738.6,437.6 742,442 748,445 C754,448 762.3,453.3 769.4,456 C776.5,458.7 783.6,461 790.7,461.4 C797.8,461.8 804.8,460.1 811.9,458.2 C819,456.2 827.2,452.2 833.2,449.7 C839.2,447.2 842.8,445.4 848.1,443.3 C853.4,441.2 858.6,438.3 865,436.9 C871.4,435.5 879.9,436.2 886.3,434.8 C892.7,433.4 898,431.9 903.3,428.4 C908.6,424.8 914,418.1 918.2,413.5 C922.5,408.9 925.2,405.1 928.8,400.8 C932.3,396.6 936,391.6 939.5,388 C943,384.4 946.1,381.3 950.1,379.5 C954.1,377.7 961.3,377.8 963.5,377.4 M862.9,407.2 C866.8,408.6 880.6,412.9 886.3,415.7 C892,418.5 893.5,421.4 897,424.2 C900.5,427 904.1,429.5 907.6,432.7 C911.1,435.9 914.7,440.1 918.2,443.3 C921.7,446.5 923.5,449.3 928.8,451.8 C934.1,454.3 944.3,457 950.1,458.2 C955.9,459.4 961.3,459 963.5,459.2 M700,482 C701.3,487.5 705.5,502.8 708,515 C710.5,527.2 712,542.5 715,555 C718,567.5 722.4,579.3 726,590 C729.6,600.7 733,609 736.5,619 C740,629 743.8,640.6 747,650 C750.2,659.4 754.5,671.2 756,675.5 M702,490 C703.7,495 708.6,509.2 712,520 C715.4,530.8 719.3,543.3 722.6,555 C725.9,566.7 728.6,579.3 732,590 C735.4,600.7 739.5,609 742.8,619 C746.1,629 749.5,640.6 752,650 C754.5,659.4 757,671.2 758,675.5 M705,495 C707.2,500 713.8,515 718,525 C722.2,535 726.3,544.2 730,555 C733.7,565.8 736.8,579.3 740,590 C743.2,600.7 746.5,609 749,619 C751.5,629 753.2,640.6 755,650 C756.8,659.4 759.2,671.2 760,675.5 M712,492 C714,495.8 720.3,504.5 724,515 C727.7,525.5 730.7,542.5 734,555 C737.3,567.5 740.6,579.3 744,590 C747.4,600.7 752.1,609 754.5,619 C756.9,629 757.3,640.6 758.5,650 C759.7,659.4 761,671.2 761.5,675.5 M700,485 C702,484.3 708.3,480.7 712,481 C715.7,481.3 718.5,483.5 722,487 C725.5,490.5 730,497 733,502 C736,507 737.8,513.8 740,517 C742.2,520.2 744,521.2 746,521 C748,520.8 751,516.8 752,516 M700,492 C701.3,492.7 705.3,493.8 708,496 C710.7,498.2 712.7,500.2 716,505 C719.3,509.8 724.5,516.7 728,525 C731.5,533.3 734.3,546.7 737,555 C739.7,563.3 742,570.7 744,575 C746,579.3 747.3,579.7 749,581 C750.7,582.3 753.2,582.7 754,583 M700,603.9 C702,602.8 707.5,601.4 712,597.5 C716.5,593.6 722.6,583.7 726.9,580.5 C731.1,577.3 733.6,578 737.5,578.4 C741.4,578.8 748.2,582 750.3,582.7 M733.3,675.5 C734.7,672.4 739.3,659.8 741.8,657.1 C744.3,654.4 746,656.1 748.1,659.2 C750.2,662.3 753.4,672.8 754.5,675.5 M750.3,510.4 C752.8,507.2 759.2,496.6 765.2,491.3 C771.2,486 780.4,480.3 786.4,478.5 C792.4,476.7 795.3,477.8 801.3,480.6 C807.3,483.4 816.1,490.2 822.5,495.5 C828.9,500.8 834.3,507.2 839.6,512.5 C844.9,517.8 850.2,523.5 854.4,527.4 C858.6,531.3 861.5,534.1 865,535.9 C868.5,537.7 872.2,536.6 875.7,538 C879.2,539.4 882.8,541.6 886.3,544.4 C889.8,547.2 893.5,551.8 897,555 C900.5,558.2 904.1,559.6 907.6,563.5 C911.1,567.4 914.7,573.8 918.2,578.4 C921.7,583 925.2,587.7 928.8,591.2 C932.3,594.8 933.7,597.6 939.5,599.7 C945.3,601.8 959.5,603.2 963.5,603.9 M758.8,576.3 C760.6,573.8 764.8,564.9 769.4,561.4 C774,557.9 780,555 786.4,555 C792.8,555 801,557.5 807.7,561.4 C814.4,565.3 822.9,573.1 826.8,578.4 C830.7,583.7 828.2,588.3 831,593.3 C833.8,598.3 839.9,604 843.8,608.2 C847.7,612.5 850.9,616 854.4,618.8 C857.9,621.6 861.5,623.8 865,625.2 C868.5,626.6 872.2,625.9 875.7,627.3 C879.2,628.7 882.8,630.9 886.3,633.7 C889.8,636.5 893.5,640 897,644.3 C900.5,648.5 904.8,654 907.6,659.2 C910.4,664.4 912.9,672.8 914,675.5 M765.2,586.9 C767,594 772.3,618.8 775.8,629.4 C779.3,640 783.2,648.2 786.4,650.7 C789.6,653.2 791.3,650.3 794.9,644.3 C798.5,638.3 803.1,625.2 807.7,614.6 C812.3,604 820,586.2 822.5,580.5 M775.8,650.7 C778.3,651.1 784.7,653.5 790.7,652.8 C796.7,652.1 805.9,648.5 811.9,646.4 C817.9,644.3 821.5,642.6 826.8,640.1 C832.1,637.6 837.4,634.8 843.8,631.6 C850.2,628.4 857.9,623.4 865,620.9 C872.1,618.4 880.3,619.2 886.3,616.7 C892.3,614.2 897,610.6 901.2,606 C905.5,601.4 908.6,595 911.8,589 C915,583 917.5,576.3 920.3,569.9 C923.1,563.5 925.6,557.5 928.8,550.8 C932,544.1 936,536.6 939.5,529.5 C943,522.4 946.1,515.4 950.1,508.3 C954.1,501.2 961.3,490.6 963.5,487 M818.3,675.5 C819.7,669.6 824,651.3 826.8,640.1 C829.6,628.9 832.5,618.8 835.3,608.2 C838.1,597.6 841,586.9 843.8,576.3 C846.6,565.7 849.8,552.5 852.3,544.4 C854.8,536.2 856.6,532.7 858.7,527.4 C860.8,522.1 862.2,515.7 865,512.5 C867.8,509.3 870.4,509.7 875.7,508.3 C881,506.9 889.9,505.8 897,504 C904.1,502.2 911.1,500.1 918.2,497.6 C925.3,495.1 932,491.9 939.5,489.1 C947,486.3 959.5,482 963.5,480.6 M822.5,675.5 C824.6,667.8 831,644.2 835.3,629.4 C839.6,614.6 843.9,600 848.1,586.9 C852.4,573.8 858,561.1 860.8,550.8 C863.6,540.5 862.5,530.6 865,525.3 C867.5,520 870.4,520.7 875.7,518.9 C881,517.1 889.9,516.7 897,514.6 C904.1,512.5 911.1,508.9 918.2,506.1 C925.3,503.3 932,499.7 939.5,497.6 C947,495.5 959.5,494.1 963.5,493.4 M890.6,675.5 C892,669.6 896.3,651.3 899.1,640.1 C901.9,628.9 904.8,618.8 907.6,608.2 C910.4,597.6 913.3,586.9 916.1,576.3 C918.9,565.7 921.4,555 924.6,544.4 C927.8,533.8 931.7,520.6 935.2,512.5 C938.7,504.4 941.1,500.4 945.8,495.5 C950.5,490.6 960.5,484.9 963.5,482.8 M848.1,614.6 C850.9,610.3 861.1,593.3 865,589 C868.9,584.7 867.9,590.4 871.4,589 C874.9,587.6 882,584.8 886.3,580.5 C890.6,576.2 893.5,569.5 897,563.5 C900.5,557.5 904.1,551.1 907.6,544.4 C911.1,537.7 914.7,529.5 918.2,523.1 C921.7,516.7 925.2,511.1 928.8,506.1 C932.3,501.2 933.7,496.9 939.5,493.4 C945.3,489.9 959.5,486.3 963.5,484.9'/></defs>
<use href='#cv3' fill='none' stroke-linecap='round' stroke-linejoin='round' stroke='#ff0a0a' stroke-width='4.0'/>
<g clip-path='url(#ca2)'>
<rect x='0' y='0' width='1270' height='1735' fill='#B083D8'/>
<use href='#cv3' fill='none' stroke-linecap='round' stroke-linejoin='round' stroke='#c447ac' stroke-width='3.8'/>
</g>
</g>
<path d='M700,47 L963.5,47 L963.5,108.5 L963.5,108.5 L959.8,123.3 L956.2,137.8 L952.5,151.9 L948.9,165.7 L945.2,179 L941.5,191.9 L937.9,204.4 L934.2,216.3 L930.5,227.8 L926.9,238.7 L923.2,249.1 L919.5,258.9 L915.9,268 L912.2,276.4 L908.6,284.2 L904.9,291.3 L901.2,297.6 L897.6,303.1 L893.9,307.8 L890.2,311.7 L886.6,314.7 L882.9,316.9 L879.3,318.2 L875.6,318.7 L814.6,675.5 L768.8,675.5 L700,108.5 Z' fill='none' stroke='#3b2d4f' stroke-width='1.4'/>
<line x1='865.6' y1='48' x2='865.6' y2='675' stroke='#ffffff' stroke-opacity='0.35' stroke-width='1'/>
<rect x='171' y='47' width='792.5' height='628.5' fill='none' stroke='#505050' stroke-width='1.5'/>
<line x1='180.3' y1='1535.5' x2='441' y2='1535.5' stroke='#777' stroke-width='1.2' stroke-dasharray='1.6 5.2'/>
<line x1='180.3' y1='1428.4' x2='441' y2='1428.4' stroke='#777' stroke-width='1.2' stroke-dasharray='1.6 5.2'/>
<line x1='180.3' y1='1321.3' x2='441' y2='1321.3' stroke='#777' stroke-width='1.2' stroke-dasharray='1.6 5.2'/>
<line x1='180.3' y1='1214.2' x2='441' y2='1214.2' stroke='#777' stroke-width='1.2' stroke-dasharray='1.6 5.2'/>
<line x1='180.3' y1='1107.1' x2='441' y2='1107.1' stroke='#777' stroke-width='1.2' stroke-dasharray='1.6 5.2'/>
<line x1='180.3' y1='1000.1' x2='441' y2='1000.1' stroke='#777' stroke-width='1.2' stroke-dasharray='1.6 5.2'/>
<line x1='441' y1='893' x2='441' y2='1589' stroke='#777' stroke-width='1.2' stroke-dasharray='1.6 5.2'/>
<rect x='180.3' y='1140' width='260.7' height='177' fill='#C8C8C8' stroke='#555' stroke-width='1'/>
<line x1='441' y1='1535.5' x2='701.3' y2='1535.5' stroke='#777' stroke-width='1.2' stroke-dasharray='1.6 5.2'/>
<line x1='441' y1='1428.4' x2='701.3' y2='1428.4' stroke='#777' stroke-width='1.2' stroke-dasharray='1.6 5.2'/>
<line x1='441' y1='1321.3' x2='701.3' y2='1321.3' stroke='#777' stroke-width='1.2' stroke-dasharray='1.6 5.2'/>
<line x1='441' y1='1214.2' x2='701.3' y2='1214.2' stroke='#777' stroke-width='1.2' stroke-dasharray='1.6 5.2'/>
<line x1='441' y1='1107.1' x2='701.3' y2='1107.1' stroke='#777' stroke-width='1.2' stroke-dasharray='1.6 5.2'/>
<line x1='441' y1='1000.1' x2='701.3' y2='1000.1' stroke='#777' stroke-width='1.2' stroke-dasharray='1.6 5.2'/>
<line x1='701.3' y1='893' x2='701.3' y2='1589' stroke='#777' stroke-width='1.2' stroke-dasharray='1.6 5.2'/>
<rect x='441' y='1282' width='260.3' height='57.5' fill='#C8C8C8' stroke='#555' stroke-width='1'/>
<line x1='701.3' y1='1535.5' x2='964.5' y2='1535.5' stroke='#777' stroke-width='1.2' stroke-dasharray='1.6 5.2'/>
<line x1='701.3' y1='1428.4' x2='964.5' y2='1428.4' stroke='#777' stroke-width='1.2' stroke-dasharray='1.6 5.2'/>
<line x1='701.3' y1='1321.3' x2='964.5' y2='1321.3' stroke='#777' stroke-width='1.2' stroke-dasharray='1.6 5.2'/>
<line x1='701.3' y1='1214.2' x2='964.5' y2='1214.2' stroke='#777' stroke-width='1.2' stroke-dasharray='1.6 5.2'/>
<line x1='701.3' y1='1107.1' x2='964.5' y2='1107.1' stroke='#777' stroke-width='1.2' stroke-dasharray='1.6 5.2'/>
<line x1='701.3' y1='1000.1' x2='964.5' y2='1000.1' stroke='#777' stroke-width='1.2' stroke-dasharray='1.6 5.2'/>
<rect x='701.3' y='1294' width='263.2' height='51.5' fill='#C8C8C8' stroke='#555' stroke-width='1'/>
<g clip-path='url(#rb0)'>
<defs><path id='mk5' d='M176.9,969.2h6.8v6.8h-6.8zM180.2,966.6h6.8v6.8h-6.8zM183.4,964.1h6.8v6.8h-6.8zM186.8,961.1h6.8v6.8h-6.8zM190.3,957.4h6.8v6.8h-6.8zM193.7,953.1h6.8v6.8h-6.8zM197,948.5h6.8v6.8h-6.8zM200.6,943.5h6.8v6.8h-6.8zM204.2,937.7h6.8v6.8h-6.8zM207.6,932.7h6.8v6.8h-6.8zM210.9,929.3h6.8v6.8h-6.8zM214.2,927.2h6.8v6.8h-6.8zM217.9,926.1h6.8v6.8h-6.8zM221.2,925.7h6.8v6.8h-6.8zM224.9,925.7h6.8v6.8h-6.8zM228.2,925.9h6.8v6.8h-6.8zM231.8,926.1h6.8v6.8h-6.8zM235.7,926.4h6.8v6.8h-6.8zM239.9,926.9h6.8v6.8h-6.8zM243.3,927.3h6.8v6.8h-6.8zM246.8,927.7h6.8v6.8h-6.8zM250.3,928.1h6.8v6.8h-6.8zM253.7,928.3h6.8v6.8h-6.8zM257,928.5h6.8v6.8h-6.8zM260.3,928.6h6.8v6.8h-6.8zM263.6,928.7h6.8v6.8h-6.8zM266.9,928.7h6.8v6.8h-6.8zM270.2,928.7h6.8v6.8h-6.8zM273.5,928.6h6.8v6.8h-6.8zM276.8,928.4h6.8v6.8h-6.8zM280.1,928.2h6.8v6.8h-6.8zM283.4,928h6.8v6.8h-6.8zM286.7,927.7h6.8v6.8h-6.8zM290.1,927.3h6.8v6.8h-6.8zM293.4,926.7h6.8v6.8h-6.8zM296.7,925.8h6.8v6.8h-6.8zM300,924.7h6.8v6.8h-6.8zM303.3,923.1h6.8v6.8h-6.8zM306.6,921.1h6.8v6.8h-6.8zM309.9,919h6.8v6.8h-6.8zM313.2,916.8h6.8v6.8h-6.8zM316.5,914.6h6.8v6.8h-6.8zM319.8,912.5h6.8v6.8h-6.8zM323.1,910.7h6.8v6.8h-6.8zM326.6,908.8h6.8v6.8h-6.8zM330.1,906.9h6.8v6.8h-6.8zM333.5,905.1h6.8v6.8h-6.8zM336.9,903.4h6.8v6.8h-6.8zM341.1,901.6h6.8v6.8h-6.8zM344.8,900.3h6.8v6.8h-6.8zM348.2,899.5h6.8v6.8h-6.8zM352,899.1h6.8v6.8h-6.8zM355.6,899.2h6.8v6.8h-6.8zM359.1,899.9h6.8v6.8h-6.8zM362.4,901.1h6.8v6.8h-6.8zM366.3,903.4h6.8v6.8h-6.8zM369.5,905.8h6.8v6.8h-6.8zM373.1,908.7h6.8v6.8h-6.8zM376.9,912.2h6.8v6.8h-6.8zM380.8,916.1h6.8v6.8h-6.8zM384.8,920.3h6.8v6.8h-6.8zM388.7,924.7h6.8v6.8h-6.8zM392.6,929.7h6.8v6.8h-6.8zM396.5,934.9h6.8v6.8h-6.8zM400.3,939.9h6.8v6.8h-6.8zM403.9,944.5h6.8v6.8h-6.8zM407.2,948.7h6.8v6.8h-6.8zM411,953.4h6.8v6.8h-6.8zM414.3,956.9h6.8v6.8h-6.8zM418,959.9h6.8v6.8h-6.8zM421.3,962h6.8v6.8h-6.8zM424.7,963.8h6.8v6.8h-6.8zM428.6,965.7h6.8v6.8h-6.8zM432.2,967.6h6.8v6.8h-6.8zM435.7,969.3h6.8v6.8h-6.8zM176.9,1148.1h6.8v6.8h-6.8zM180.6,1149.3h6.8v6.8h-6.8zM184,1150.5h6.8v6.8h-6.8zM187.7,1151.8h6.8v6.8h-6.8zM191.3,1153.4h6.8v6.8h-6.8zM195.2,1155.5h6.8v6.8h-6.8zM199,1158.1h6.8v6.8h-6.8zM202.7,1160.8h6.8v6.8h-6.8zM206.3,1163.7h6.8v6.8h-6.8zM209.7,1166.7h6.8v6.8h-6.8zM213.1,1169.7h6.8v6.8h-6.8zM216.9,1173.6h6.8v6.8h-6.8zM220.5,1177.6h6.8v6.8h-6.8zM223.8,1181.9h6.8v6.8h-6.8zM227.5,1187.2h6.8v6.8h-6.8zM231.1,1192.5h6.8v6.8h-6.8zM234.3,1196.8h6.8v6.8h-6.8zM237.5,1201.1h6.8v6.8h-6.8zM240.7,1205.7h6.8v6.8h-6.8zM244,1211h6.8v6.8h-6.8zM247.2,1216.8h6.8v6.8h-6.8zM250.4,1222.7h6.8v6.8h-6.8zM253.3,1228.3h6.8v6.8h-6.8zM256.1,1234.1h6.8v6.8h-6.8zM259,1240.3h6.8v6.8h-6.8zM262.2,1245.4h6.8v6.8h-6.8zM265.5,1247.5h6.8v6.8h-6.8zM268.7,1247.5h6.8v6.8h-6.8zM272.3,1246.6h6.8v6.8h-6.8zM275.7,1245h6.8v6.8h-6.8zM279,1242.6h6.8v6.8h-6.8zM282.7,1238.4h6.8v6.8h-6.8zM286.4,1233.5h6.8v6.8h-6.8zM290.1,1228.9h6.8v6.8h-6.8zM293.8,1224.3h6.8v6.8h-6.8zM297.5,1219.8h6.8v6.8h-6.8zM301.2,1215.8h6.8v6.8h-6.8zM304.4,1213h6.8v6.8h-6.8zM307.7,1209.9h6.8v6.8h-6.8zM311.4,1205.1h6.8v6.8h-6.8zM314.6,1199.8h6.8v6.8h-6.8zM317.8,1194.4h6.8v6.8h-6.8zM321.5,1189.1h6.8v6.8h-6.8zM325.2,1185h6.8v6.8h-6.8zM328.9,1181.6h6.8v6.8h-6.8zM332.6,1178.3h6.8v6.8h-6.8zM336.3,1175.2h6.8v6.8h-6.8zM340,1172.3h6.8v6.8h-6.8zM343.7,1169.8h6.8v6.8h-6.8zM346.9,1168h6.8v6.8h-6.8zM350.2,1166.3h6.8v6.8h-6.8zM353.9,1163.8h6.8v6.8h-6.8zM357.6,1160.9h6.8v6.8h-6.8zM361.3,1157.8h6.8v6.8h-6.8zM365,1154.3h6.8v6.8h-6.8zM368.2,1150.8h6.8v6.8h-6.8zM371.5,1147.5h6.8v6.8h-6.8zM375.2,1144.7h6.8v6.8h-6.8zM378.9,1142.9h6.8v6.8h-6.8zM382.6,1141.8h6.8v6.8h-6.8zM386.3,1141.2h6.8v6.8h-6.8zM390,1141h6.8v6.8h-6.8zM393.7,1141.3h6.8v6.8h-6.8zM397.4,1142.3h6.8v6.8h-6.8zM401.2,1143.8h6.8v6.8h-6.8zM404.9,1145.5h6.8v6.8h-6.8zM408.3,1147.1h6.8v6.8h-6.8zM411.6,1148.7h6.8v6.8h-6.8zM415.3,1149.9h6.8v6.8h-6.8zM418.9,1150.3h6.8v6.8h-6.8zM422.4,1150.6h6.8v6.8h-6.8zM426.2,1150.7h6.8v6.8h-6.8zM430,1150.8h6.8v6.8h-6.8zM433.5,1150.9h6.8v6.8h-6.8zM437,1151h6.8v6.8h-6.8zM176.9,1205.6h6.8v6.8h-6.8zM180.7,1204.6h6.8v6.8h-6.8zM184.2,1203.7h6.8v6.8h-6.8zM188,1202.7h6.8v6.8h-6.8zM191.4,1201.6h6.8v6.8h-6.8zM194.8,1200.2h6.8v6.8h-6.8zM198,1198.4h6.8v6.8h-6.8zM201.5,1196h6.8v6.8h-6.8zM205.1,1193.5h6.8v6.8h-6.8zM208.8,1190.7h6.8v6.8h-6.8zM212.5,1187.6h6.8v6.8h-6.8zM216.2,1183.8h6.8v6.8h-6.8zM219.9,1179.4h6.8v6.8h-6.8zM223.6,1174.7h6.8v6.8h-6.8zM227.4,1170.1h6.8v6.8h-6.8zM230.6,1166.1h6.8v6.8h-6.8zM233.8,1162.3h6.8v6.8h-6.8zM237.5,1158.6h6.8v6.8h-6.8zM240.9,1155.4h6.8v6.8h-6.8zM244.2,1153.1h6.8v6.8h-6.8zM248,1151.2h6.8v6.8h-6.8zM251.8,1149.9h6.8v6.8h-6.8zM255.7,1148.8h6.8v6.8h-6.8zM259.5,1148.1h6.8v6.8h-6.8zM262.9,1147.7h6.8v6.8h-6.8zM266.1,1147.6h6.8v6.8h-6.8zM269.9,1148h6.8v6.8h-6.8zM273.6,1148.9h6.8v6.8h-6.8zM277.4,1150.5h6.8v6.8h-6.8zM280.6,1152.3h6.8v6.8h-6.8zM283.8,1154.5h6.8v6.8h-6.8zM287.7,1157.4h6.8v6.8h-6.8zM290.9,1160.3h6.8v6.8h-6.8zM294.2,1163.5h6.8v6.8h-6.8zM297.9,1167.6h6.8v6.8h-6.8zM301.4,1172.2h6.8v6.8h-6.8zM304.6,1177.4h6.8v6.8h-6.8zM307.7,1182.7h6.8v6.8h-6.8zM311.4,1188.6h6.8v6.8h-6.8zM315.1,1194.2h6.8v6.8h-6.8zM318.8,1199.9h6.8v6.8h-6.8zM322,1205.4h6.8v6.8h-6.8zM325.2,1211.4h6.8v6.8h-6.8zM328.4,1217.6h6.8v6.8h-6.8zM331.5,1223.6h6.8v6.8h-6.8zM334.8,1229.4h6.8v6.8h-6.8zM338,1235.1h6.8v6.8h-6.8zM341.1,1240.5h6.8v6.8h-6.8zM344.3,1246.3h6.8v6.8h-6.8zM347.3,1251.5h6.8v6.8h-6.8zM350.6,1257.3h6.8v6.8h-6.8zM353.8,1263h6.8v6.8h-6.8zM357.2,1268.6h6.8v6.8h-6.8zM360.4,1272.6h6.8v6.8h-6.8zM364.2,1276.5h6.8v6.8h-6.8zM367.6,1279.7h6.8v6.8h-6.8zM371,1283h6.8v6.8h-6.8zM374.2,1286.2h6.8v6.8h-6.8zM377.4,1289.5h6.8v6.8h-6.8zM381.2,1293.4h6.8v6.8h-6.8zM384.8,1297.2h6.8v6.8h-6.8zM388.1,1301.1h6.8v6.8h-6.8zM391.7,1305.5h6.8v6.8h-6.8zM395.3,1309h6.8v6.8h-6.8zM398.8,1311.6h6.8v6.8h-6.8zM402.4,1313.5h6.8v6.8h-6.8zM406.1,1314.8h6.8v6.8h-6.8zM409.9,1315.8h6.8v6.8h-6.8zM413.2,1316.5h6.8v6.8h-6.8zM416.6,1317h6.8v6.8h-6.8zM420,1317.4h6.8v6.8h-6.8zM423.3,1317.7h6.8v6.8h-6.8zM426.9,1317.8h6.8v6.8h-6.8zM430.6,1317.8h6.8v6.8h-6.8zM434,1317.7h6.8v6.8h-6.8zM437.6,1317.6h6.8v6.8h-6.8zM320.4,1191.6h6.8v6.8h-6.8zM323.9,1187.8h6.8v6.8h-6.8zM327.5,1183.9h6.8v6.8h-6.8zM331,1180.6h6.8v6.8h-6.8zM334.7,1178.2h6.8v6.8h-6.8zM338.4,1176.3h6.8v6.8h-6.8zM342.1,1174.3h6.8v6.8h-6.8zM345.4,1172h6.8v6.8h-6.8zM348.9,1169.6h6.8v6.8h-6.8zM352.3,1167.6h6.8v6.8h-6.8zM355.9,1165.7h6.8v6.8h-6.8zM360,1163.5h6.8v6.8h-6.8zM363.3,1161.8h6.8v6.8h-6.8zM366.8,1160.2h6.8v6.8h-6.8zM370.2,1158.8h6.8v6.8h-6.8zM373.6,1157.6h6.8v6.8h-6.8zM377,1156.7h6.8v6.8h-6.8zM380.5,1156h6.8v6.8h-6.8zM384,1155.5h6.8v6.8h-6.8zM387.5,1155.1h6.8v6.8h-6.8zM391,1154.7h6.8v6.8h-6.8zM394.4,1154.4h6.8v6.8h-6.8zM397.7,1154h6.8v6.8h-6.8zM401.8,1153.5h6.8v6.8h-6.8zM405.7,1153h6.8v6.8h-6.8zM409.6,1152.7h6.8v6.8h-6.8zM413.6,1152.3h6.8v6.8h-6.8zM417.7,1152h6.8v6.8h-6.8zM421.1,1151.8h6.8v6.8h-6.8zM424.7,1151.6h6.8v6.8h-6.8zM428.4,1151.4h6.8v6.8h-6.8zM431.8,1151.3h6.8v6.8h-6.8zM435.6,1151.1h6.8v6.8h-6.8zM263.6,1575.6h6.8v6.8h-6.8zM268.3,1565.4h6.8v6.8h-6.8zM272.2,1551.9h6.8v6.8h-6.8zM275.5,1537.5h6.8v6.8h-6.8zM278.6,1522.2h6.8v6.8h-6.8zM281.4,1507.2h6.8v6.8h-6.8zM283.8,1492.7h6.8v6.8h-6.8zM286.2,1478.3h6.8v6.8h-6.8zM288.7,1463.5h6.8v6.8h-6.8zM291.1,1449.2h6.8v6.8h-6.8zM293.5,1435h6.8v6.8h-6.8zM295.5,1421.1h6.8v6.8h-6.8zM296.8,1407.1h6.8v6.8h-6.8zM298.7,1393.2h6.8v6.8h-6.8zM301,1378.9h6.8v6.8h-6.8zM303.4,1364.6h6.8v6.8h-6.8zM305.9,1350.1h6.8v6.8h-6.8zM307.7,1336.2h6.8v6.8h-6.8zM309.7,1321.9h6.8v6.8h-6.8zM312.3,1307.6h6.8v6.8h-6.8zM316,1293.3h6.8v6.8h-6.8zM319.1,1278.9h6.8v6.8h-6.8zM322.3,1264.9h6.8v6.8h-6.8zM326.8,1251.5h6.8v6.8h-6.8zM331.6,1250.9h6.8v6.8h-6.8zM336.2,1255.2h6.8v6.8h-6.8zM340.9,1261.6h6.8v6.8h-6.8zM345.8,1268.3h6.8v6.8h-6.8zM350.6,1273.6h6.8v6.8h-6.8zM355.3,1275.7h6.8v6.8h-6.8zM360,1274.7h6.8v6.8h-6.8zM364.7,1269.9h6.8v6.8h-6.8zM369.3,1264.4h6.8v6.8h-6.8zM374,1258.5h6.8v6.8h-6.8zM378.6,1252.7h6.8v6.8h-6.8zM383.3,1246.8h6.8v6.8h-6.8zM388.3,1239.9h6.8v6.8h-6.8zM393.2,1233h6.8v6.8h-6.8zM398,1226.7h6.8v6.8h-6.8zM402.7,1220.9h6.8v6.8h-6.8zM407.5,1215.9h6.8v6.8h-6.8zM412.4,1211.9h6.8v6.8h-6.8zM417.2,1209h6.8v6.8h-6.8zM421.9,1207.3h6.8v6.8h-6.8zM426.7,1206.3h6.8v6.8h-6.8zM431.6,1205.7h6.8v6.8h-6.8zM436.1,1205.4h6.8v6.8h-6.8zM258.6,1572.6h6.8v6.8h-6.8zM261,1575h6.8v6.8h-6.8zM263.2,1575.7h6.8v6.8h-6.8zM265.6,1574.8h6.8v6.8h-6.8zM268,1573.3h6.8v6.8h-6.8zM270.5,1571.2h6.8v6.8h-6.8zM273,1568.6h6.8v6.8h-6.8zM275.3,1565.4h6.8v6.8h-6.8zM277.7,1561.5h6.8v6.8h-6.8zM280,1557.3h6.8v6.8h-6.8zM282.4,1553h6.8v6.8h-6.8zM284.8,1548.7h6.8v6.8h-6.8zM287.2,1544.1h6.8v6.8h-6.8zM289.5,1539.3h6.8v6.8h-6.8zM291.9,1534.1h6.8v6.8h-6.8zM294.3,1528.3h6.8v6.8h-6.8zM296.6,1522.1h6.8v6.8h-6.8zM298.9,1515.6h6.8v6.8h-6.8zM301.3,1508.9h6.8v6.8h-6.8zM303.7,1502h6.8v6.8h-6.8zM306,1494.9h6.8v6.8h-6.8zM307.9,1489.2h6.8v6.8h-6.8zM309.8,1483.4h6.8v6.8h-6.8zM312.3,1476.3h6.8v6.8h-6.8zM314.3,1470.5h6.8v6.8h-6.8zM316.3,1464.7h6.8v6.8h-6.8zM318.7,1457.7h6.8v6.8h-6.8zM320.8,1451.4h6.8v6.8h-6.8zM322.9,1444.7h6.8v6.8h-6.8zM324.7,1438.7h6.8v6.8h-6.8zM326.5,1432.6h6.8v6.8h-6.8zM328.4,1426.3h6.8v6.8h-6.8zM330.2,1419.9h6.8v6.8h-6.8zM332.1,1413.6h6.8v6.8h-6.8zM334.3,1407.6h6.8v6.8h-6.8zM336.7,1401.5h6.8v6.8h-6.8zM339.3,1395.7h6.8v6.8h-6.8zM341.6,1391.6h6.8v6.8h-6.8zM344.1,1388.3h6.8v6.8h-6.8zM346.8,1385.5h6.8v6.8h-6.8zM349,1383.5h6.8v6.8h-6.8zM351.8,1381.1h6.8v6.8h-6.8zM354.5,1378.7h6.8v6.8h-6.8zM356.7,1376.9h6.8v6.8h-6.8zM359,1375.2h6.8v6.8h-6.8zM361.5,1372.7h6.8v6.8h-6.8zM364.1,1369.1h6.8v6.8h-6.8zM366.5,1364h6.8v6.8h-6.8zM368.8,1357.7h6.8v6.8h-6.8zM370.7,1351.2h6.8v6.8h-6.8zM372.2,1345.1h6.8v6.8h-6.8zM373.6,1339.1h6.8v6.8h-6.8zM375,1333.2h6.8v6.8h-6.8zM376.4,1327.2h6.8v6.8h-6.8zM378.1,1321.2h6.8v6.8h-6.8zM380.2,1315.1h6.8v6.8h-6.8zM382.5,1309h6.8v6.8h-6.8zM384.8,1303.7h6.8v6.8h-6.8zM387.1,1298.5h6.8v6.8h-6.8zM389.4,1294.3h6.8v6.8h-6.8zM392,1290.5h6.8v6.8h-6.8zM394.5,1287.4h6.8v6.8h-6.8zM396.8,1284.9h6.8v6.8h-6.8zM399,1282.3h6.8v6.8h-6.8zM401.7,1278.9h6.8v6.8h-6.8zM404.4,1275.3h6.8v6.8h-6.8zM407,1271.6h6.8v6.8h-6.8zM409.7,1267.8h6.8v6.8h-6.8zM412.3,1264.1h6.8v6.8h-6.8zM415,1260.3h6.8v6.8h-6.8zM417.6,1256.5h6.8v6.8h-6.8zM420.3,1252.7h6.8v6.8h-6.8zM422.9,1249.2h6.8v6.8h-6.8zM425.2,1246.4h6.8v6.8h-6.8zM427.6,1243.5h6.8v6.8h-6.8zM429.8,1240.9h6.8v6.8h-6.8zM432.3,1238h6.8v6.8h-6.8zM434.8,1235.3h6.8v6.8h-6.8zM437.1,1233.1h6.8v6.8h-6.8zM176.9,1317.6h6.8v6.8h-6.8zM180.7,1319h6.8v6.8h-6.8zM184.2,1320.2h6.8v6.8h-6.8zM188,1321.7h6.8v6.8h-6.8zM191.4,1323.3h6.8v6.8h-6.8zM194.8,1325.5h6.8v6.8h-6.8zM198.3,1328.5h6.8v6.8h-6.8zM201.7,1332.4h6.8v6.8h-6.8zM205.1,1337.6h6.8v6.8h-6.8zM207.7,1343.6h6.8v6.8h-6.8zM209.9,1349.7h6.8v6.8h-6.8zM211.7,1355.6h6.8v6.8h-6.8zM213.3,1361.5h6.8v6.8h-6.8zM215,1367.9h6.8v6.8h-6.8zM216.5,1374.1h6.8v6.8h-6.8zM218,1380.1h6.8v6.8h-6.8zM219.8,1386.4h6.8v6.8h-6.8zM221.9,1392.5h6.8v6.8h-6.8zM224.4,1398.3h6.8v6.8h-6.8zM227.3,1404.2h6.8v6.8h-6.8zM230.5,1409.5h6.8v6.8h-6.8zM233.9,1414h6.8v6.8h-6.8zM237.2,1417.3h6.8v6.8h-6.8zM240.7,1420.4h6.8v6.8h-6.8zM244.1,1422.7h6.8v6.8h-6.8zM248,1424.2h6.8v6.8h-6.8zM251.5,1424.9h6.8v6.8h-6.8zM255.4,1425.3h6.8v6.8h-6.8zM259.3,1425.5h6.8v6.8h-6.8zM262.5,1425.7h6.8v6.8h-6.8zM266,1425.8h6.8v6.8h-6.8zM269.5,1425.9h6.8v6.8h-6.8zM273,1425.8h6.8v6.8h-6.8zM276.4,1425.4h6.8v6.8h-6.8zM280.1,1424.7h6.8v6.8h-6.8zM283.5,1423.6h6.8v6.8h-6.8zM287.2,1421.9h6.8v6.8h-6.8zM290.6,1419.9h6.8v6.8h-6.8zM293.9,1417.3h6.8v6.8h-6.8zM297.5,1413.4h6.8v6.8h-6.8zM300.8,1409.2h6.8v6.8h-6.8zM304.2,1404.2h6.8v6.8h-6.8zM307.6,1398.6h6.8v6.8h-6.8zM310.6,1393h6.8v6.8h-6.8zM313.6,1386.8h6.8v6.8h-6.8zM316.6,1380.8h6.8v6.8h-6.8zM319.6,1375h6.8v6.8h-6.8zM322.6,1369.1h6.8v6.8h-6.8zM325.1,1363.6h6.8v6.8h-6.8zM327.7,1357.4h6.8v6.8h-6.8zM330.2,1350.8h6.8v6.8h-6.8zM332.8,1344.4h6.8v6.8h-6.8zM335.3,1338.2h6.8v6.8h-6.8zM337.8,1332h6.8v6.8h-6.8zM340.3,1326.5h6.8v6.8h-6.8zM343.6,1321.2h6.8v6.8h-6.8zM346.9,1317.9h6.8v6.8h-6.8zM350.2,1315.7h6.8v6.8h-6.8zM353.8,1314.1h6.8v6.8h-6.8zM357.1,1313.2h6.8v6.8h-6.8zM360.4,1312.3h6.8v6.8h-6.8zM364.1,1311.1h6.8v6.8h-6.8zM367.3,1309.9h6.8v6.8h-6.8zM371,1308.4h6.8v6.8h-6.8zM374.7,1306.6h6.8v6.8h-6.8zM378.4,1304.5h6.8v6.8h-6.8zM382.1,1302h6.8v6.8h-6.8zM385.8,1299.5h6.8v6.8h-6.8zM389.5,1296.9h6.8v6.8h-6.8zM393.2,1294h6.8v6.8h-6.8zM396.9,1290.6h6.8v6.8h-6.8zM400.6,1286.9h6.8v6.8h-6.8zM404.3,1282.8h6.8v6.8h-6.8zM407.5,1279.1h6.8v6.8h-6.8zM410.8,1275.2h6.8v6.8h-6.8zM414,1271.2h6.8v6.8h-6.8zM417.7,1266.7h6.8v6.8h-6.8zM421.3,1262.4h6.8v6.8h-6.8zM425,1258.3h6.8v6.8h-6.8zM428.3,1254.9h6.8v6.8h-6.8zM432.1,1251.4h6.8v6.8h-6.8zM435.6,1248.3h6.8v6.8h-6.8zM437.6,1205.6h6.8v6.8h-6.8zM433.4,1208.9h6.8v6.8h-6.8zM428.9,1212.5h6.8v6.8h-6.8zM424.5,1216.7h6.8v6.8h-6.8zM420.3,1221.2h6.8v6.8h-6.8zM416.1,1226.6h6.8v6.8h-6.8zM411.8,1233.4h6.8v6.8h-6.8zM407.5,1240.9h6.8v6.8h-6.8zM403.3,1248.2h6.8v6.8h-6.8zM399,1255.5h6.8v6.8h-6.8zM394.8,1262.6h6.8v6.8h-6.8zM390.6,1269.5h6.8v6.8h-6.8zM386.3,1276.2h6.8v6.8h-6.8zM382.1,1283h6.8v6.8h-6.8zM377.8,1289.9h6.8v6.8h-6.8zM373.6,1296.6h6.8v6.8h-6.8zM369.3,1303.1h6.8v6.8h-6.8zM365,1309.1h6.8v6.8h-6.8zM360.6,1313.6h6.8v6.8h-6.8zM356.3,1316.4h6.8v6.8h-6.8zM352.3,1318.6h6.8v6.8h-6.8zM197.4,1172.2h6.8v6.8h-6.8zM202,1185.9h6.8v6.8h-6.8zM206.7,1199.6h6.8v6.8h-6.8zM210.8,1213.7h6.8v6.8h-6.8zM212.9,1227.8h6.8v6.8h-6.8zM214.8,1243.1h6.8v6.8h-6.8zM217,1256.9h6.8v6.8h-6.8zM221.1,1270.7h6.8v6.8h-6.8zM222.2,1284.9h6.8v6.8h-6.8zM224.2,1298.9h6.8v6.8h-6.8zM226.5,1312.8h6.8v6.8h-6.8zM228.6,1327.4h6.8v6.8h-6.8zM230.6,1342h6.8v6.8h-6.8zM232.1,1356.2h6.8v6.8h-6.8zM233,1370.8h6.8v6.8h-6.8zM233.8,1385.6h6.8v6.8h-6.8zM234.7,1400.5h6.8v6.8h-6.8zM235.6,1414.8h6.8v6.8h-6.8zM236.6,1429.8h6.8v6.8h-6.8zM237.5,1444.9h6.8v6.8h-6.8zM238.4,1460.1h6.8v6.8h-6.8zM239.1,1475h6.8v6.8h-6.8zM240.6,1489.3h6.8v6.8h-6.8zM243.3,1504.5h6.8v6.8h-6.8zM246,1519.1h6.8v6.8h-6.8zM248.8,1533h6.8v6.8h-6.8zM251.8,1546.8h6.8v6.8h-6.8zM255.3,1560.9h6.8v6.8h-6.8zM260.1,1571h6.8v6.8h-6.8zM222.6,1411.4h6.8v6.8h-6.8zM224.6,1423.5h6.8v6.8h-6.8zM227.6,1435.5h6.8v6.8h-6.8zM230.1,1447.9h6.8v6.8h-6.8zM232,1459.9h6.8v6.8h-6.8zM233.8,1472h6.8v6.8h-6.8zM236,1483.9h6.8v6.8h-6.8zM238.5,1496.7h6.8v6.8h-6.8zM241.1,1509h6.8v6.8h-6.8zM244.1,1521.8h6.8v6.8h-6.8zM247.2,1533.8h6.8v6.8h-6.8zM250.8,1546h6.8v6.8h-6.8zM254.6,1557.5h6.8v6.8h-6.8zM177.6,1316.6h6.8v6.8h-6.8zM180.6,1317.1h6.8v6.8h-6.8zM183.8,1317.6h6.8v6.8h-6.8zM187,1318.8h6.8v6.8h-6.8zM190.3,1321h6.8v6.8h-6.8zM193.6,1324.6h6.8v6.8h-6.8zM196.7,1330h6.8v6.8h-6.8zM199.3,1335.9h6.8v6.8h-6.8zM201.6,1342.2h6.8v6.8h-6.8zM203.5,1348.1h6.8v6.8h-6.8zM176.9,1236.6h6.8v6.8h-6.8zM180.2,1235.8h6.8v6.8h-6.8zM183.8,1235.5h6.8v6.8h-6.8zM187.3,1236.4h6.8v6.8h-6.8zM190.9,1238.4h6.8v6.8h-6.8zM194.5,1241h6.8v6.8h-6.8zM198.2,1244h6.8v6.8h-6.8zM201.7,1247.5h6.8v6.8h-6.8zM205,1252.1h6.8v6.8h-6.8zM208.4,1258.8h6.8v6.8h-6.8zM211.1,1265.6h6.8v6.8h-6.8zM213.3,1272.4h6.8v6.8h-6.8z'/><path id='bd4' d='M180.3,972.6 L181.9,971.3 L184.2,969.6 L186.8,967.5 L189.5,965.1 L192,962.7 L194.3,960.1 L196.6,957.2 L198.8,954.2 L200.9,951.2 L203,948.3 L204.9,945.5 L206.7,942.6 L208.4,939.8 L210.2,937.2 L211.9,935.1 L213.6,933.4 L215.1,932.1 L216.7,931 L218.5,930.2 L220.7,929.6 L223.3,929.2 L226.1,929.1 L229.1,929.2 L232.5,929.4 L236.1,929.6 L240.1,929.9 L244.5,930.4 L249,931 L253.7,931.5 L258.2,931.8 L262.6,932 L267,932.1 L271.4,932.1 L275.8,932 L280.2,931.8 L284.6,931.5 L289,931.2 L293.5,930.7 L297.9,929.8 L302.3,928.5 L306.7,926.5 L311.1,923.8 L315.5,920.9 L319.9,918 L324.3,915.3 L328.8,912.8 L333.5,910.3 L338,907.9 L342.4,905.8 L346.4,904.3 L349.9,903.3 L353.1,902.7 L356.1,902.5 L359,902.6 L361.8,903.1 L364.5,904 L367.1,905.2 L369.7,906.8 L372.2,908.7 L375,910.9 L378,913.4 L381,916.3 L384.2,919.5 L387.4,922.8 L390.5,926.3 L393.6,930 L396.8,934.1 L399.9,938.3 L403,942.3 L405.9,946.1 L408.6,949.6 L411.2,952.9 L413.8,956.1 L416.3,959 L419.1,961.6 L422.2,963.9 L425.6,965.9 L428.9,967.6 L432,969.1 L434.6,970.4 L436.6,971.5 L438.1,972.3 L439.3,972.9 L440.3,973.3 L441,973.7M180.3,1151.5 L182.5,1152.3 L185.6,1153.3 L189.2,1154.5 L192.9,1156 L196.3,1157.6 L199.4,1159.4 L202.4,1161.5 L205.4,1163.7 L208.3,1166 L211.1,1168.3 L213.8,1170.7 L216.5,1173.1 L219,1175.7 L221.5,1178.3 L223.9,1181 L226.2,1183.8 L228.3,1186.8 L230.4,1189.8 L232.4,1192.9 L234.5,1195.9 L236.6,1198.8 L238.8,1201.7 L240.9,1204.5 L243.1,1207.6 L245.2,1210.8 L247.4,1214.4 L249.5,1218.2 L251.7,1222.2 L253.8,1226.1 L255.8,1229.9 L257.7,1233.7 L259.5,1237.5 L261.2,1241.2 L262.8,1244.5 L264.3,1247 L265.6,1248.8 L266.8,1249.9 L267.9,1250.6 L269.2,1250.9 L270.7,1251 L272.6,1250.8 L274.6,1250.4 L276.9,1249.5 L279.1,1248.4 L281.3,1246.9 L283.4,1244.9 L285.5,1242.4 L287.7,1239.7 L289.8,1236.9 L291.9,1234.2 L294,1231.6 L296.1,1229 L298.3,1226.4 L300.4,1223.8 L302.5,1221.4 L304.6,1219.2 L306.8,1217.3 L308.9,1215.4 L311.1,1213.3 L313.2,1210.8 L315.3,1207.7 L317.4,1204.2 L319.6,1200.5 L321.7,1196.9 L323.8,1193.8 L325.9,1191.2 L328,1189 L330.2,1186.9 L332.3,1185 L334.4,1183.1 L336.5,1181.2 L338.6,1179.4 L340.8,1177.7 L342.9,1176.1 L345,1174.6 L347.1,1173.2 L349.3,1172 L351.4,1170.9 L353.6,1169.7 L355.7,1168.3 L357.8,1166.8 L359.9,1165.2 L362.1,1163.5 L364.2,1161.7 L366.3,1159.8 L368.4,1157.7 L370.6,1155.4 L372.7,1153 L374.9,1150.9 L377,1149.1 L379.1,1147.8 L381.2,1146.8 L383.4,1146 L385.5,1145.4 L387.6,1144.9 L389.7,1144.6 L391.8,1144.4 L394,1144.4 L396.1,1144.6 L398.2,1144.9 L400.3,1145.5 L402.4,1146.3 L404.6,1147.2 L406.7,1148.2 L408.8,1149.1 L410.8,1150 L412.6,1151 L414.4,1151.9 L416.7,1152.7 L419.5,1153.4 L423.5,1153.8 L428.4,1154.1 L433.4,1154.2 L437.9,1154.3 L441,1154.4M180.3,1209 L182.6,1208.4 L185.8,1207.6 L189.5,1206.6 L193.2,1205.5 L196.3,1204.4 L198.8,1203.3 L200.9,1202.1 L202.9,1200.8 L204.9,1199.4 L206.9,1198 L209,1196.5 L211.1,1195 L213.3,1193.3 L215.4,1191.5 L217.5,1189.5 L219.6,1187.2 L221.7,1184.7 L223.9,1182.1 L226,1179.4 L228.1,1176.8 L230.2,1174.2 L232.4,1171.5 L234.5,1168.8 L236.7,1166.3 L238.8,1164 L240.9,1162 L242.8,1160.1 L244.9,1158.4 L247,1156.9 L249.4,1155.5 L252.1,1154.3 L255.2,1153.3 L258.3,1152.4 L261.4,1151.7 L264.3,1151.3 L267,1151.1 L269.5,1151 L272,1151.2 L274.5,1151.6 L277,1152.3 L279.6,1153.3 L282.1,1154.6 L284.7,1156.1 L287.2,1157.9 L289.8,1159.8 L292.4,1161.9 L295,1164.3 L297.6,1166.9 L300.1,1169.6 L302.5,1172.5 L304.8,1175.6 L306.9,1179 L309,1182.5 L311.1,1186.1 L313.2,1189.5 L315.3,1192.8 L317.4,1196 L319.6,1199.2 L321.7,1202.5 L323.8,1206 L325.9,1209.8 L328,1213.8 L330.2,1217.9 L332.3,1222 L334.4,1226 L336.6,1229.9 L338.7,1233.8 L340.9,1237.6 L343,1241.3 L345,1244.8 L346.8,1248.1 L348.6,1251.2 L350.3,1254.2 L351.9,1257.1 L353.6,1260 L355.2,1262.9 L356.8,1265.7 L358.4,1268.5 L360.1,1271.3 L362.1,1274 L364.4,1276.7 L367,1279.3 L369.7,1281.8 L372.4,1284.4 L375,1287 L377.6,1289.6 L380.2,1292.2 L382.7,1294.9 L385.2,1297.5 L387.6,1300 L389.8,1302.6 L392,1305.2 L394.1,1307.7 L396.1,1310 L398.2,1312 L400.2,1313.6 L402.2,1315 L404.2,1316.1 L406.3,1317.1 L408.8,1318 L411.7,1318.8 L414.9,1319.6 L418.3,1320.2 L421.7,1320.6 L425,1321 L428.5,1321.2 L432.2,1321.2 L435.8,1321.1 L438.8,1321 L441,1321M323.8,1195 L325.2,1193.4 L327.3,1191.2 L329.7,1188.6 L332.1,1186.1 L334.4,1184 L336.5,1182.5 L338.6,1181.3 L340.8,1180.2 L342.9,1179.2 L345,1178 L347,1176.7 L348.8,1175.4 L350.7,1174.1 L352.9,1172.6 L355.7,1171 L359.3,1169.1 L363.4,1166.9 L367.8,1164.7 L372.5,1162.6 L377,1161 L381.5,1159.9 L386.2,1159.1 L390.9,1158.5 L395.6,1158 L400,1157.5 L404.2,1157 L408.2,1156.5 L412.1,1156.2 L416,1155.8 L420,1155.5 L424.5,1155.2 L429.3,1154.9 L434.1,1154.7 L438.1,1154.5 L441,1154.4M262,1576 L262.6,1576.6 L263.4,1577.5 L264.4,1578.4 L265.6,1579 L267,1579 L268.6,1578.4 L270.4,1577.3 L272.4,1575.9 L274.4,1574.1 L276.4,1572 L278.3,1569.5 L280.2,1566.5 L282,1563.3 L283.9,1559.9 L285.8,1556.4 L287.7,1552.9 L289.6,1549.4 L291.5,1545.7 L293.4,1541.7M341.4,1401.9 L343.1,1398.3 L345,1395 L347,1392.3 L349.1,1390 L351.3,1387.9 L353.5,1386 L355.7,1384 L357.9,1382.1 L360.1,1380.3 L362.4,1378.6 L364.5,1376.6 L366.3,1374.4 L367.9,1371.8 L369.3,1368.9M390,1303.1 L391.1,1300.7 L392.5,1298.3 L394,1295.8 L395.9,1293.3 L397.9,1290.8 L400.2,1288.3 L402.4,1285.7 L404.6,1283 L406.7,1280.2 L408.8,1277.2 L411,1274.2 L413.1,1271.2 L415.2,1268.2 L417.3,1265.2 L419.4,1262.1 L421.6,1259.1 L423.7,1256.1 L425.8,1253.3 L428,1250.5 L430.4,1247.6 L432.7,1244.9 L434.8,1242.5 L436.5,1240.5 L437.9,1239 L439,1237.9 L439.8,1237.1 L440.5,1236.5 L441,1236M180.3,1321 L182.6,1321.8 L185.8,1323 L189.5,1324.3 L193.2,1325.9 L196.3,1327.6 L198.8,1329.4 L201.1,1331.4 L203.2,1333.5 L205.1,1335.8 L206.9,1338.3 L208.5,1341 L209.9,1343.9M227.1,1400.4 L228.4,1403.1 L229.7,1405.7 L231.1,1408.2 L232.4,1410.5 L233.6,1412.5 L234.8,1414.2 L235.9,1415.8 L237.3,1417.4 L238.8,1419 L240.6,1420.7 L242.5,1422.5 L244.6,1424.3 L246.9,1425.8 L249.4,1427 L252.1,1427.8 L254.9,1428.3 L258,1428.7 L261.1,1428.8 L264.3,1429 L267.6,1429.2 L271.2,1429.2 L274.7,1429.2 L278.1,1429 L281.3,1428.6 L284.2,1427.9 L286.9,1427 L289.4,1425.9 L291.8,1424.6 L294,1423.3 L296,1421.9 L297.7,1420.3 L299.3,1418.7 L300.9,1416.8 L302.5,1414.8 L304.2,1412.6 L305.9,1410.2 L307.6,1407.6 L309.3,1404.9 L311,1402 L312.7,1398.9 L314.4,1395.5 L316.2,1392 L317.9,1388.5 L319.6,1385 L321.3,1381.7 L323,1378.4 L324.7,1375.1 L326.4,1371.7 L328.1,1368M341.6,1334.4 L343.3,1330.7 L345,1327.6 L346.6,1325.1 L348.2,1323.2 L349.9,1321.7 L351.6,1320.4 L353.6,1319.1 L355.9,1318 L358.5,1317.1 L361.2,1316.4 L363.8,1315.7 L366.3,1314.9 L368.6,1314.1 L370.7,1313.3 L372.8,1312.5 L374.9,1311.6 L377,1310.6 L379.1,1309.4 L381.2,1308.2 L383.4,1306.9 L385.5,1305.4 L387.6,1304 L389.7,1302.5 L391.8,1301 L394,1299.5 L396.1,1297.8 L398.2,1296 L400.3,1294 L402.4,1291.9 L404.6,1289.7 L406.7,1287.4 L408.8,1285 L410.9,1282.5 L413.1,1279.9 L415.2,1277.2 L417.4,1274.6 L419.5,1272 L421.6,1269.5 L423.7,1267 L425.8,1264.6 L427.9,1262.3 L430,1260 L432.3,1257.7 L434.9,1255.4 L437.4,1253.2 L439.5,1251.3 L441,1250M181,1320 L182.3,1320.2 L184,1320.5 L186.1,1320.8 L188.2,1321.3 L190,1322 L191.5,1322.8 L193,1323.8 L194.4,1325 L195.7,1326.4 L197,1328 L198.3,1330 L199.5,1332.2 L200.7,1334.7'/></defs>
<use href='#bd4' fill='none' stroke-linecap='round' stroke-linejoin='round' stroke='#1a1aff' stroke-width='6.8' stroke-opacity='0.85'/>
<use href='#mk5' fill='none' stroke='#1a1aff' stroke-width='1.4'/>
<g clip-path='url(#cb0)'>
<rect x='0' y='0' width='1270' height='1735' fill='#B083D8'/>
<use href='#bd4' fill='none' stroke-linecap='round' stroke-linejoin='round' stroke='#8862e2' stroke-width='6.8' stroke-opacity='0.85'/>
<use href='#mk5' fill='none' stroke='#7048e8' stroke-width='1.4'/>
</g>
</g>
<line x1='180.3' y1='979' x2='441' y2='979' stroke='#7a52a6' stroke-width='1.3'/>
<line x1='180.3' y1='1140' x2='441' y2='1140' stroke='#7a52a6' stroke-width='1.3'/>
<line x1='180.3' y1='1268.5' x2='441' y2='1268.5' stroke='#7a52a6' stroke-width='1.3'/>
<line x1='180.3' y1='1316' x2='441' y2='1316' stroke='#7a52a6' stroke-width='1.3'/>
<path d='M180.3,893 L441,893 L441,1256 L441,1256 L437.4,1266.1 L433.7,1275.9 L430.1,1285.6 L426.4,1294.9 L422.8,1304 L419.2,1312.8 L415.5,1321.3 L411.9,1329.5 L408.3,1337.3 L404.6,1344.8 L401,1351.8 L397.4,1358.5 L393.7,1364.7 L390.1,1370.5 L386.4,1375.8 L382.8,1380.6 L379.2,1384.9 L375.5,1388.6 L371.9,1391.8 L368.2,1394.5 L364.6,1396.6 L361,1398.1 L357.3,1399 L353.7,1399.3 L306.7,1589 L238.8,1589 L180.3,1256 Z' fill='none' stroke='#3b2d4f' stroke-width='1.4'/>
<g clip-path='url(#rb1)'>
<defs><path id='mk8' d='M437.6,987.6h6.8v6.8h-6.8zM440.1,986.2h6.8v6.8h-6.8zM442.4,985h6.8v6.8h-6.8zM444.9,983.6h6.8v6.8h-6.8zM447.7,982.1h6.8v6.8h-6.8zM450.7,980.5h6.8v6.8h-6.8zM453.8,978.8h6.8v6.8h-6.8zM456.8,977.2h6.8v6.8h-6.8zM459.8,975.6h6.8v6.8h-6.8zM462.5,974.2h6.8v6.8h-6.8zM465,972.9h6.8v6.8h-6.8zM467.4,971.6h6.8v6.8h-6.8zM469.6,970.3h6.8v6.8h-6.8zM471.8,969.1h6.8v6.8h-6.8zM474,967.9h6.8v6.8h-6.8zM476.2,966.7h6.8v6.8h-6.8zM478.4,965.5h6.8v6.8h-6.8zM480.8,964.3h6.8v6.8h-6.8zM483.3,963.2h6.8v6.8h-6.8zM486.1,962.1h6.8v6.8h-6.8zM489,961.1h6.8v6.8h-6.8zM492.3,959.9h6.8v6.8h-6.8zM494,959.4h6.8v6.8h-6.8zM495.8,958.8h6.8v6.8h-6.8zM497.6,958.2h6.8v6.8h-6.8zM499.5,957.6h6.8v6.8h-6.8zM501.4,957h6.8v6.8h-6.8zM503.3,956.5h6.8v6.8h-6.8zM505.2,955.9h6.8v6.8h-6.8zM507.1,955.4h6.8v6.8h-6.8zM509,954.9h6.8v6.8h-6.8zM510.9,954.4h6.8v6.8h-6.8zM512.8,954h6.8v6.8h-6.8zM514.6,953.6h6.8v6.8h-6.8zM516.4,953.2h6.8v6.8h-6.8zM518.1,952.9h6.8v6.8h-6.8zM519.8,952.6h6.8v6.8h-6.8zM522.9,952.2h6.8v6.8h-6.8zM525.7,952h6.8v6.8h-6.8zM528.4,952h6.8v6.8h-6.8zM530.8,952.2h6.8v6.8h-6.8zM533.2,952.5h6.8v6.8h-6.8zM535.4,952.9h6.8v6.8h-6.8zM537.6,953.4h6.8v6.8h-6.8zM539.8,954h6.8v6.8h-6.8zM542,954.6h6.8v6.8h-6.8zM544.2,955.1h6.8v6.8h-6.8zM546.5,955.7h6.8v6.8h-6.8zM548.9,956.3h6.8v6.8h-6.8zM551.2,957h6.8v6.8h-6.8zM553.6,957.9h6.8v6.8h-6.8zM556,958.7h6.8v6.8h-6.8zM558.4,959.6h6.8v6.8h-6.8zM560.7,960.5h6.8v6.8h-6.8zM563.1,961.2h6.8v6.8h-6.8zM565.5,961.9h6.8v6.8h-6.8zM567.8,962.5h6.8v6.8h-6.8zM570.2,962.8h6.8v6.8h-6.8zM572.6,962.9h6.8v6.8h-6.8zM574.9,962.9h6.8v6.8h-6.8zM577.3,962.7h6.8v6.8h-6.8zM579.6,962.4h6.8v6.8h-6.8zM582,962.1h6.8v6.8h-6.8zM584.4,961.7h6.8v6.8h-6.8zM586.7,961.3h6.8v6.8h-6.8zM589.1,961h6.8v6.8h-6.8zM591.4,960.7h6.8v6.8h-6.8zM593.8,960.5h6.8v6.8h-6.8zM596.2,960.4h6.8v6.8h-6.8zM598.5,960.2h6.8v6.8h-6.8zM600.9,960.1h6.8v6.8h-6.8zM603.2,960h6.8v6.8h-6.8zM605.6,959.9h6.8v6.8h-6.8zM608,959.9h6.8v6.8h-6.8zM610.3,959.9h6.8v6.8h-6.8zM612.7,960h6.8v6.8h-6.8zM615,960.2h6.8v6.8h-6.8zM617.4,960.5h6.8v6.8h-6.8zM619.8,960.9h6.8v6.8h-6.8zM622.1,961.4h6.8v6.8h-6.8zM624.5,962h6.8v6.8h-6.8zM626.8,962.7h6.8v6.8h-6.8zM629.2,963.4h6.8v6.8h-6.8zM631.6,964.2h6.8v6.8h-6.8zM633.9,965h6.8v6.8h-6.8zM636.3,965.8h6.8v6.8h-6.8zM638.6,966.7h6.8v6.8h-6.8zM641,967.6h6.8v6.8h-6.8zM643.4,968.5h6.8v6.8h-6.8zM645.7,969.5h6.8v6.8h-6.8zM648.1,970.6h6.8v6.8h-6.8zM650.4,971.7h6.8v6.8h-6.8zM652.8,972.8h6.8v6.8h-6.8zM655.2,974h6.8v6.8h-6.8zM657.5,975.1h6.8v6.8h-6.8zM659.9,976.2h6.8v6.8h-6.8zM662.2,977.2h6.8v6.8h-6.8zM664.6,978.2h6.8v6.8h-6.8zM667,979.2h6.8v6.8h-6.8zM669.6,980.1h6.8v6.8h-6.8zM672.1,981.1h6.8v6.8h-6.8zM674.7,982h6.8v6.8h-6.8zM677.3,982.9h6.8v6.8h-6.8zM679.8,983.8h6.8v6.8h-6.8zM682.2,984.6h6.8v6.8h-6.8zM684.5,985.3h6.8v6.8h-6.8zM686.5,986h6.8v6.8h-6.8zM688.3,986.5h6.8v6.8h-6.8zM690.6,987.1h6.8v6.8h-6.8zM692.5,987.4h6.8v6.8h-6.8zM694.6,987.6h6.8v6.8h-6.8zM696.5,987.6h6.8v6.8h-6.8zM437.6,1158.5h6.8v6.8h-6.8zM439.2,1159.3h6.8v6.8h-6.8zM441.5,1160.3h6.8v6.8h-6.8zM443.2,1161.1h6.8v6.8h-6.8zM445.1,1162h6.8v6.8h-6.8zM447,1162.9h6.8v6.8h-6.8zM448.9,1163.9h6.8v6.8h-6.8zM450.7,1164.9h6.8v6.8h-6.8zM452.4,1165.9h6.8v6.8h-6.8zM454.6,1167.5h6.8v6.8h-6.8zM456.4,1169.2h6.8v6.8h-6.8zM458.1,1171h6.8v6.8h-6.8zM460.2,1173.5h6.8v6.8h-6.8zM462.1,1176.2h6.8v6.8h-6.8zM464,1179h6.8v6.8h-6.8zM465.9,1182.1h6.8v6.8h-6.8zM467.6,1185.7h6.8v6.8h-6.8zM469.3,1189.3h6.8v6.8h-6.8zM470.9,1192.7h6.8v6.8h-6.8zM472.6,1195.2h6.8v6.8h-6.8zM474.3,1196.6h6.8v6.8h-6.8zM475.9,1197.2h6.8v6.8h-6.8zM477.5,1197.1h6.8v6.8h-6.8zM479.2,1196.6h6.8v6.8h-6.8zM481,1195.8h6.8v6.8h-6.8zM483,1194.7h6.8v6.8h-6.8zM485.1,1193.1h6.8v6.8h-6.8zM486.7,1191.6h6.8v6.8h-6.8zM488.3,1190h6.8v6.8h-6.8zM489.9,1188.4h6.8v6.8h-6.8zM491.6,1186.7h6.8v6.8h-6.8zM493.7,1184.3h6.8v6.8h-6.8zM495.7,1181.8h6.8v6.8h-6.8zM497.7,1179.2h6.8v6.8h-6.8zM499.8,1176.5h6.8v6.8h-6.8zM501.6,1174.6h6.8v6.8h-6.8zM503.5,1172.8h6.8v6.8h-6.8zM505.6,1171h6.8v6.8h-6.8zM507.8,1169.2h6.8v6.8h-6.8zM510.2,1167.4h6.8v6.8h-6.8zM512.6,1165.7h6.8v6.8h-6.8zM514.8,1164.3h6.8v6.8h-6.8zM516.9,1163h6.8v6.8h-6.8zM518.8,1162.1h6.8v6.8h-6.8zM520.5,1161.4h6.8v6.8h-6.8zM522.5,1160.8h6.8v6.8h-6.8zM524.4,1160.5h6.8v6.8h-6.8zM526.5,1160.5h6.8v6.8h-6.8zM528.3,1160.6h6.8v6.8h-6.8zM530.3,1160.8h6.8v6.8h-6.8zM532.5,1161.2h6.8v6.8h-6.8zM534.8,1161.7h6.8v6.8h-6.8zM537.1,1162.4h6.8v6.8h-6.8zM539.4,1163.2h6.8v6.8h-6.8zM541.7,1164.2h6.8v6.8h-6.8zM543.8,1165.3h6.8v6.8h-6.8zM545.8,1166.5h6.8v6.8h-6.8zM547.8,1168h6.8v6.8h-6.8zM549.8,1169.5h6.8v6.8h-6.8zM551.7,1171.2h6.8v6.8h-6.8zM553.5,1173h6.8v6.8h-6.8zM555.3,1174.9h6.8v6.8h-6.8zM557,1176.8h6.8v6.8h-6.8zM558.7,1178.9h6.8v6.8h-6.8zM560.8,1181.8h6.8v6.8h-6.8zM562.9,1184.9h6.8v6.8h-6.8zM564.9,1188h6.8v6.8h-6.8zM567,1191.2h6.8v6.8h-6.8zM568.7,1193.7h6.8v6.8h-6.8zM570.3,1196.2h6.8v6.8h-6.8zM572,1198.8h6.8v6.8h-6.8zM573.6,1201.4h6.8v6.8h-6.8zM575.7,1204.8h6.8v6.8h-6.8zM577.7,1208.2h6.8v6.8h-6.8zM579.5,1211.6h6.8v6.8h-6.8zM581.2,1215h6.8v6.8h-6.8zM582.8,1218.4h6.8v6.8h-6.8zM584.4,1221.8h6.8v6.8h-6.8zM586.1,1225.3h6.8v6.8h-6.8zM587.8,1228.7h6.8v6.8h-6.8zM589.5,1232.3h6.8v6.8h-6.8zM591.2,1235.7h6.8v6.8h-6.8zM592.9,1239.1h6.8v6.8h-6.8zM594.6,1242.2h6.8v6.8h-6.8zM596.3,1245.1h6.8v6.8h-6.8zM597.9,1247.9h6.8v6.8h-6.8zM599.6,1250.5h6.8v6.8h-6.8zM601.3,1252.9h6.8v6.8h-6.8zM603.2,1255.1h6.8v6.8h-6.8zM605.2,1256.9h6.8v6.8h-6.8zM607.3,1258.4h6.8v6.8h-6.8zM609,1259.5h6.8v6.8h-6.8zM610.6,1260.5h6.8v6.8h-6.8zM612.2,1261.7h6.8v6.8h-6.8zM613.8,1263.1h6.8v6.8h-6.8zM615.5,1264.6h6.8v6.8h-6.8zM617.3,1266.2h6.8v6.8h-6.8zM619,1267.9h6.8v6.8h-6.8zM620.7,1269.6h6.8v6.8h-6.8zM622.7,1271.8h6.8v6.8h-6.8zM624.3,1273.8h6.8v6.8h-6.8zM626,1276.7h6.8v6.8h-6.8zM627.7,1280.7h6.8v6.8h-6.8zM629.6,1284h6.8v6.8h-6.8zM631.3,1287h6.8v6.8h-6.8zM633,1289.8h6.8v6.8h-6.8zM635,1293.1h6.8v6.8h-6.8zM637.1,1296.3h6.8v6.8h-6.8zM638.7,1299h6.8v6.8h-6.8zM640.5,1301.7h6.8v6.8h-6.8zM642.2,1304.4h6.8v6.8h-6.8zM643.8,1307h6.8v6.8h-6.8zM645.6,1310.1h6.8v6.8h-6.8zM647.3,1313.6h6.8v6.8h-6.8zM649,1317.4h6.8v6.8h-6.8zM650.8,1321h6.8v6.8h-6.8zM652.9,1324.1h6.8v6.8h-6.8zM654.6,1326.6h6.8v6.8h-6.8zM656.6,1329.1h6.8v6.8h-6.8zM658.7,1331.4h6.8v6.8h-6.8zM660.4,1332.8h6.8v6.8h-6.8zM662.2,1333.9h6.8v6.8h-6.8zM664.2,1334.8h6.8v6.8h-6.8zM666.2,1335.4h6.8v6.8h-6.8zM668.4,1335.8h6.8v6.8h-6.8zM670.7,1336.1h6.8v6.8h-6.8zM672.3,1336.3h6.8v6.8h-6.8zM674,1336.4h6.8v6.8h-6.8zM675.7,1336.5h6.8v6.8h-6.8zM677.5,1336.7h6.8v6.8h-6.8zM679.7,1336.8h6.8v6.8h-6.8zM682,1336.8h6.8v6.8h-6.8zM684.4,1336.8h6.8v6.8h-6.8zM686.9,1336.8h6.8v6.8h-6.8zM689.4,1336.8h6.8v6.8h-6.8zM691.8,1336.7h6.8v6.8h-6.8zM693.9,1336.7h6.8v6.8h-6.8zM695.8,1336.6h6.8v6.8h-6.8zM697.9,1336.6h6.8v6.8h-6.8zM697.9,1158.5h6.8v6.8h-6.8zM695.9,1158.1h6.8v6.8h-6.8zM694,1157.7h6.8v6.8h-6.8zM691.9,1157.3h6.8v6.8h-6.8zM689.6,1156.9h6.8v6.8h-6.8zM687.2,1156.4h6.8v6.8h-6.8zM684.8,1155.9h6.8v6.8h-6.8zM682.4,1155.4h6.8v6.8h-6.8zM680.1,1154.9h6.8v6.8h-6.8zM678,1154.4h6.8v6.8h-6.8zM676.2,1154h6.8v6.8h-6.8zM674.6,1153.5h6.8v6.8h-6.8zM672.3,1152.9h6.8v6.8h-6.8zM670.1,1152.2h6.8v6.8h-6.8zM668,1151.5h6.8v6.8h-6.8zM665.9,1150.9h6.8v6.8h-6.8zM663.7,1150.3h6.8v6.8h-6.8zM661.4,1149.8h6.8v6.8h-6.8zM659.7,1149.5h6.8v6.8h-6.8zM658,1149.1h6.8v6.8h-6.8zM656.3,1148.8h6.8v6.8h-6.8zM654.6,1148.4h6.8v6.8h-6.8zM652.8,1148.2h6.8v6.8h-6.8zM651.1,1147.9h6.8v6.8h-6.8zM649.4,1147.8h6.8v6.8h-6.8zM647.7,1147.7h6.8v6.8h-6.8zM646,1147.8h6.8v6.8h-6.8zM644.4,1148h6.8v6.8h-6.8zM642,1148.6h6.8v6.8h-6.8zM639.7,1149.3h6.8v6.8h-6.8zM637.4,1150.2h6.8v6.8h-6.8zM635.1,1151.3h6.8v6.8h-6.8zM633,1152.5h6.8v6.8h-6.8zM630.9,1153.8h6.8v6.8h-6.8zM629.1,1155.1h6.8v6.8h-6.8zM627.4,1156.7h6.8v6.8h-6.8zM625.4,1159h6.8v6.8h-6.8zM623.4,1161.3h6.8v6.8h-6.8zM621.4,1163.5h6.8v6.8h-6.8zM619.7,1164.9h6.8v6.8h-6.8zM617.9,1166.1h6.8v6.8h-6.8zM615.9,1167.1h6.8v6.8h-6.8zM613.9,1168h6.8v6.8h-6.8zM611.8,1168.9h6.8v6.8h-6.8zM609.8,1169.7h6.8v6.8h-6.8zM608,1170.6h6.8v6.8h-6.8zM606.4,1171.5h6.8v6.8h-6.8zM604.4,1172.6h6.8v6.8h-6.8zM602.5,1173.7h6.8v6.8h-6.8zM600.9,1174.9h6.8v6.8h-6.8zM599.1,1176.7h6.8v6.8h-6.8zM597.3,1179.7h6.8v6.8h-6.8zM595.9,1184h6.8v6.8h-6.8zM594.6,1188.9h6.8v6.8h-6.8zM593.3,1193.5h6.8v6.8h-6.8zM592,1198.5h6.8v6.8h-6.8zM591,1202.9h6.8v6.8h-6.8zM589.9,1207.4h6.8v6.8h-6.8zM588.8,1212h6.8v6.8h-6.8zM587.8,1216.9h6.8v6.8h-6.8zM586.8,1221.8h6.8v6.8h-6.8zM585.7,1226.6h6.8v6.8h-6.8zM584.6,1231.4h6.8v6.8h-6.8zM583.5,1236.1h6.8v6.8h-6.8zM582.5,1240.8h6.8v6.8h-6.8zM581.4,1245.6h6.8v6.8h-6.8zM580.3,1250.4h6.8v6.8h-6.8zM579.3,1255.2h6.8v6.8h-6.8zM578.3,1260h6.8v6.8h-6.8zM577.2,1264.8h6.8v6.8h-6.8zM576.1,1269.6h6.8v6.8h-6.8zM575,1274.5h6.8v6.8h-6.8zM574,1279.3h6.8v6.8h-6.8zM572.9,1283.9h6.8v6.8h-6.8zM571.8,1288.3h6.8v6.8h-6.8zM570.6,1293.4h6.8v6.8h-6.8zM569.3,1298.4h6.8v6.8h-6.8zM568.1,1303.4h6.8v6.8h-6.8zM566.9,1308.2h6.8v6.8h-6.8zM565.6,1313.2h6.8v6.8h-6.8zM564.4,1317.9h6.8v6.8h-6.8zM563.1,1323.2h6.8v6.8h-6.8zM562,1327.8h6.8v6.8h-6.8zM560.8,1332.6h6.8v6.8h-6.8zM559.5,1337.6h6.8v6.8h-6.8zM558.3,1343h6.8v6.8h-6.8zM556.9,1348.7h6.8v6.8h-6.8zM555.9,1353.1h6.8v6.8h-6.8zM554.8,1357.7h6.8v6.8h-6.8zM553.7,1362.4h6.8v6.8h-6.8zM552.7,1367h6.8v6.8h-6.8zM551.6,1371.6h6.8v6.8h-6.8zM550.5,1376.2h6.8v6.8h-6.8zM549.5,1381.1h6.8v6.8h-6.8zM548.4,1385.9h6.8v6.8h-6.8zM547.3,1390.7h6.8v6.8h-6.8zM546.3,1395.2h6.8v6.8h-6.8zM544.9,1400.4h6.8v6.8h-6.8zM543.6,1404.8h6.8v6.8h-6.8zM541.8,1409.4h6.8v6.8h-6.8zM540.2,1413.1h6.8v6.8h-6.8zM538.6,1416.6h6.8v6.8h-6.8zM697.9,1198.9h6.8v6.8h-6.8zM695.9,1198.6h6.8v6.8h-6.8zM694,1198.3h6.8v6.8h-6.8zM691.9,1198h6.8v6.8h-6.8zM689.6,1197.6h6.8v6.8h-6.8zM687.2,1197.3h6.8v6.8h-6.8zM684.8,1197h6.8v6.8h-6.8zM682.4,1196.8h6.8v6.8h-6.8zM680.1,1196.7h6.8v6.8h-6.8zM678,1196.7h6.8v6.8h-6.8zM676.2,1196.9h6.8v6.8h-6.8zM674.6,1197.2h6.8v6.8h-6.8zM672.3,1197.9h6.8v6.8h-6.8zM670.1,1198.7h6.8v6.8h-6.8zM668,1199.7h6.8v6.8h-6.8zM665.9,1200.9h6.8v6.8h-6.8zM663.7,1202.2h6.8v6.8h-6.8zM661.4,1203.6h6.8v6.8h-6.8zM659.8,1204.7h6.8v6.8h-6.8zM658.1,1205.9h6.8v6.8h-6.8zM656.4,1207.3h6.8v6.8h-6.8zM654.7,1208.7h6.8v6.8h-6.8zM653,1210.1h6.8v6.8h-6.8zM651.2,1211.5h6.8v6.8h-6.8zM649.5,1212.8h6.8v6.8h-6.8zM647.8,1214.2h6.8v6.8h-6.8zM646.1,1215.3h6.8v6.8h-6.8zM644.3,1216.4h6.8v6.8h-6.8zM642.6,1217.4h6.8v6.8h-6.8zM640.9,1218.4h6.8v6.8h-6.8zM639.2,1219.4h6.8v6.8h-6.8zM637.4,1220.3h6.8v6.8h-6.8zM635.7,1221.1h6.8v6.8h-6.8zM634,1221.9h6.8v6.8h-6.8zM632.3,1222.7h6.8v6.8h-6.8zM630.6,1223.4h6.8v6.8h-6.8zM629,1224.1h6.8v6.8h-6.8zM626.6,1225h6.8v6.8h-6.8zM624.3,1225.7h6.8v6.8h-6.8zM622.1,1226.4h6.8v6.8h-6.8zM619.9,1226.9h6.8v6.8h-6.8zM617.7,1227.5h6.8v6.8h-6.8zM615.5,1228h6.8v6.8h-6.8zM613.3,1228.6h6.8v6.8h-6.8zM611,1229.2h6.8v6.8h-6.8zM608.6,1229.8h6.8v6.8h-6.8zM606.2,1230.4h6.8v6.8h-6.8zM603.9,1231h6.8v6.8h-6.8zM601.7,1231.7h6.8v6.8h-6.8zM599.6,1232.4h6.8v6.8h-6.8zM597.8,1233.2h6.8v6.8h-6.8zM596.2,1234h6.8v6.8h-6.8zM594.3,1235.3h6.8v6.8h-6.8zM592.6,1236.6h6.8v6.8h-6.8zM590.8,1238.3h6.8v6.8h-6.8zM589.1,1240.4h6.8v6.8h-6.8zM587.4,1244.2h6.8v6.8h-6.8zM623.9,1276.6h6.8v6.8h-6.8zM622.9,1280.8h6.8v6.8h-6.8zM621.6,1284.9h6.8v6.8h-6.8zM620,1287.8h6.8v6.8h-6.8zM618.2,1289.2h6.8v6.8h-6.8zM616.4,1289.9h6.8v6.8h-6.8zM614.5,1290.4h6.8v6.8h-6.8zM612.4,1290.8h6.8v6.8h-6.8zM610.3,1291.2h6.8v6.8h-6.8zM608.2,1291.8h6.8v6.8h-6.8zM606.3,1292.7h6.8v6.8h-6.8zM604.3,1293.8h6.8v6.8h-6.8zM602.3,1294.9h6.8v6.8h-6.8zM600.3,1296.1h6.8v6.8h-6.8zM598.3,1297.4h6.8v6.8h-6.8zM596.5,1298.9h6.8v6.8h-6.8zM594.7,1300.4h6.8v6.8h-6.8zM592.7,1302.6h6.8v6.8h-6.8zM590.7,1305h6.8v6.8h-6.8zM589,1307.6h6.8v6.8h-6.8zM587.1,1311h6.8v6.8h-6.8zM585.4,1314.2h6.8v6.8h-6.8zM583.9,1318h6.8v6.8h-6.8zM582.8,1321.9h6.8v6.8h-6.8zM581.6,1325.9h6.8v6.8h-6.8zM580.3,1330.2h6.8v6.8h-6.8zM578.9,1334.7h6.8v6.8h-6.8zM577.6,1338.6h6.8v6.8h-6.8zM576.1,1343.1h6.8v6.8h-6.8zM574.7,1346.8h6.8v6.8h-6.8zM573.2,1350.6h6.8v6.8h-6.8zM571.7,1354.3h6.8v6.8h-6.8zM570.2,1358.1h6.8v6.8h-6.8zM568.7,1361.8h6.8v6.8h-6.8zM567.1,1365.6h6.8v6.8h-6.8zM565.5,1369.3h6.8v6.8h-6.8zM563.6,1373.1h6.8v6.8h-6.8zM561.7,1377h6.8v6.8h-6.8zM560,1380.1h6.8v6.8h-6.8zM558.2,1383.1h6.8v6.8h-6.8zM556.4,1385.9h6.8v6.8h-6.8zM554.4,1388.6h6.8v6.8h-6.8zM552.3,1391h6.8v6.8h-6.8zM550.7,1392.8h6.8v6.8h-6.8zM549.1,1394.6h6.8v6.8h-6.8zM547.5,1396.3h6.8v6.8h-6.8zM545.8,1398h6.8v6.8h-6.8zM544.2,1399.8h6.8v6.8h-6.8zM542.6,1401.7h6.8v6.8h-6.8zM541,1403.6h6.8v6.8h-6.8zM539.4,1405.4h6.8v6.8h-6.8zM537.8,1407.2h6.8v6.8h-6.8zM536.2,1408.8h6.8v6.8h-6.8zM534.6,1410.1h6.8v6.8h-6.8zM533,1411.2h6.8v6.8h-6.8zM531.3,1412.3h6.8v6.8h-6.8zM529.6,1413.1h6.8v6.8h-6.8zM527.9,1413.8h6.8v6.8h-6.8zM525.8,1414.3h6.8v6.8h-6.8zM524,1414.4h6.8v6.8h-6.8zM522.2,1413.9h6.8v6.8h-6.8zM520.5,1412.5h6.8v6.8h-6.8zM518.7,1409.9h6.8v6.8h-6.8zM516.7,1406.5h6.8v6.8h-6.8zM514.7,1402.9h6.8v6.8h-6.8zM513.1,1399.8h6.8v6.8h-6.8zM511.4,1396.5h6.8v6.8h-6.8zM509.7,1392.9h6.8v6.8h-6.8zM508.1,1389.2h6.8v6.8h-6.8zM506.5,1385.6h6.8v6.8h-6.8zM504.9,1381.7h6.8v6.8h-6.8zM503.3,1377.8h6.8v6.8h-6.8zM501.7,1373.6h6.8v6.8h-6.8zM500.1,1369.4h6.8v6.8h-6.8zM498.5,1365h6.8v6.8h-6.8zM496.9,1360.6h6.8v6.8h-6.8zM495.3,1356.1h6.8v6.8h-6.8zM493.6,1351.4h6.8v6.8h-6.8zM491.8,1346.6h6.8v6.8h-6.8zM490.1,1341.7h6.8v6.8h-6.8zM488.4,1336.8h6.8v6.8h-6.8zM487,1332h6.8v6.8h-6.8zM485.7,1327.2h6.8v6.8h-6.8zM484.7,1322.7h6.8v6.8h-6.8zM484,1318.3h6.8v6.8h-6.8zM483.4,1314h6.8v6.8h-6.8zM482.9,1309.6h6.8v6.8h-6.8zM482.4,1305h6.8v6.8h-6.8zM481.9,1300.1h6.8v6.8h-6.8zM481.3,1294.7h6.8v6.8h-6.8zM480.9,1290.6h6.8v6.8h-6.8zM480.4,1286.2h6.8v6.8h-6.8zM480,1281.5h6.8v6.8h-6.8zM479.6,1276.8h6.8v6.8h-6.8zM479.1,1272.1h6.8v6.8h-6.8zM478.7,1267.5h6.8v6.8h-6.8zM478.3,1263.1h6.8v6.8h-6.8zM477.6,1257.4h6.8v6.8h-6.8zM477,1252.8h6.8v6.8h-6.8zM476.2,1248.6h6.8v6.8h-6.8zM475,1244.6h6.8v6.8h-6.8zM473.5,1240.8h6.8v6.8h-6.8zM472.2,1236.8h6.8v6.8h-6.8zM470.6,1232.3h6.8v6.8h-6.8zM468.9,1227.9h6.8v6.8h-6.8zM467.2,1223.8h6.8v6.8h-6.8zM465.4,1219.7h6.8v6.8h-6.8zM463.7,1216.4h6.8v6.8h-6.8zM461.7,1213.5h6.8v6.8h-6.8zM459.8,1211.1h6.8v6.8h-6.8zM457.9,1209.2h6.8v6.8h-6.8zM455.8,1207.3h6.8v6.8h-6.8zM454.1,1205.9h6.8v6.8h-6.8zM452.4,1204.7h6.8v6.8h-6.8zM450.7,1203.7h6.8v6.8h-6.8zM449,1202.8h6.8v6.8h-6.8zM447.1,1202.2h6.8v6.8h-6.8zM445,1201.8h6.8v6.8h-6.8zM442.9,1201.5h6.8v6.8h-6.8zM441,1201.3h6.8v6.8h-6.8zM439.3,1201.2h6.8v6.8h-6.8zM437.6,1201h6.8v6.8h-6.8zM475.1,1205.3h6.8v6.8h-6.8zM476.5,1210.5h6.8v6.8h-6.8zM477.9,1215.3h6.8v6.8h-6.8zM479.4,1220.7h6.8v6.8h-6.8zM480.8,1226.1h6.8v6.8h-6.8zM482.1,1231.1h6.8v6.8h-6.8zM483.4,1236.1h6.8v6.8h-6.8zM484.7,1241.3h6.8v6.8h-6.8zM486,1246.5h6.8v6.8h-6.8zM487.3,1251.6h6.8v6.8h-6.8zM488.5,1256.8h6.8v6.8h-6.8zM489.9,1262h6.8v6.8h-6.8zM491.2,1267.2h6.8v6.8h-6.8zM492.5,1272.3h6.8v6.8h-6.8zM493.7,1277.2h6.8v6.8h-6.8zM495,1283h6.8v6.8h-6.8zM496.1,1288.3h6.8v6.8h-6.8zM497.1,1293.5h6.8v6.8h-6.8zM498.1,1298.7h6.8v6.8h-6.8zM499.1,1304.3h6.8v6.8h-6.8zM500.2,1310.2h6.8v6.8h-6.8zM501.3,1316.1h6.8v6.8h-6.8zM502.4,1322h6.8v6.8h-6.8zM503.4,1327.7h6.8v6.8h-6.8zM504.3,1333.4h6.8v6.8h-6.8zM505.2,1339h6.8v6.8h-6.8zM506.2,1344.5h6.8v6.8h-6.8zM507.3,1349.9h6.8v6.8h-6.8zM508.8,1355.7h6.8v6.8h-6.8zM510.2,1361.2h6.8v6.8h-6.8zM511.5,1366.1h6.8v6.8h-6.8zM437.6,1266.6h6.8v6.8h-6.8zM439.2,1271.2h6.8v6.8h-6.8zM440.8,1274.9h6.8v6.8h-6.8zM442.5,1277.6h6.8v6.8h-6.8zM444.2,1279.9h6.8v6.8h-6.8zM446.1,1282.4h6.8v6.8h-6.8zM448,1285.2h6.8v6.8h-6.8zM449.6,1288.2h6.8v6.8h-6.8zM451.3,1292.5h6.8v6.8h-6.8zM452.9,1297.4h6.8v6.8h-6.8zM454.4,1302.4h6.8v6.8h-6.8zM456,1307.3h6.8v6.8h-6.8zM457.7,1312h6.8v6.8h-6.8zM459.5,1316.7h6.8v6.8h-6.8zM461.1,1321.4h6.8v6.8h-6.8zM462.4,1326.4h6.8v6.8h-6.8zM463,1331.2h6.8v6.8h-6.8zM463.2,1336h6.8v6.8h-6.8zM463.5,1341.5h6.8v6.8h-6.8zM464.2,1346.9h6.8v6.8h-6.8zM465.2,1351.9h6.8v6.8h-6.8zM466.6,1357.7h6.8v6.8h-6.8zM468.1,1364h6.8v6.8h-6.8zM469.3,1368.5h6.8v6.8h-6.8zM470.5,1373h6.8v6.8h-6.8zM471.7,1377.6h6.8v6.8h-6.8zM472.8,1382.2h6.8v6.8h-6.8zM474,1386.7h6.8v6.8h-6.8zM475.6,1393.1h6.8v6.8h-6.8zM477.2,1399.5h6.8v6.8h-6.8zM478.8,1405.9h6.8v6.8h-6.8zM480.4,1412.2h6.8v6.8h-6.8zM482,1418.6h6.8v6.8h-6.8zM483.6,1425h6.8v6.8h-6.8zM485.2,1431.4h6.8v6.8h-6.8zM486.8,1437.8h6.8v6.8h-6.8zM487.8,1442.2h6.8v6.8h-6.8zM488.9,1446.7h6.8v6.8h-6.8zM490,1451.2h6.8v6.8h-6.8zM491.1,1455.7h6.8v6.8h-6.8zM492.1,1460.1h6.8v6.8h-6.8zM493.7,1466.4h6.8v6.8h-6.8zM495.3,1472.3h6.8v6.8h-6.8zM496.9,1477.7h6.8v6.8h-6.8zM498.5,1482.7h6.8v6.8h-6.8zM500.1,1487.4h6.8v6.8h-6.8zM501.7,1491.7h6.8v6.8h-6.8zM503.8,1497h6.8v6.8h-6.8zM505.9,1501.6h6.8v6.8h-6.8zM508.1,1505.6h6.8v6.8h-6.8zM510.2,1508.9h6.8v6.8h-6.8zM512.3,1511.6h6.8v6.8h-6.8zM514.4,1513.8h6.8v6.8h-6.8zM516.5,1515.6h6.8v6.8h-6.8zM518.7,1517.1h6.8v6.8h-6.8zM520.3,1518h6.8v6.8h-6.8zM521.9,1518.7h6.8v6.8h-6.8zM523.5,1519.1h6.8v6.8h-6.8zM525.1,1519.4h6.8v6.8h-6.8zM526.7,1519.6h6.8v6.8h-6.8zM528.3,1519.6h6.8v6.8h-6.8zM530.4,1519.6h6.8v6.8h-6.8zM532.5,1519.3h6.8v6.8h-6.8zM534.7,1518.8h6.8v6.8h-6.8zM536.8,1517.9h6.8v6.8h-6.8zM538.9,1516.4h6.8v6.8h-6.8zM541,1514.3h6.8v6.8h-6.8zM543.1,1511.7h6.8v6.8h-6.8zM545.3,1508.7h6.8v6.8h-6.8zM547.4,1505.3h6.8v6.8h-6.8zM549.5,1501.6h6.8v6.8h-6.8zM551.6,1497.6h6.8v6.8h-6.8zM553.7,1493.4h6.8v6.8h-6.8zM555.9,1488.7h6.8v6.8h-6.8zM558,1483.7h6.8v6.8h-6.8zM560.1,1478.2h6.8v6.8h-6.8zM561.7,1473.7h6.8v6.8h-6.8zM563.3,1468.7h6.8v6.8h-6.8zM564.9,1463.5h6.8v6.8h-6.8zM566.5,1458.2h6.8v6.8h-6.8zM568.1,1452.8h6.8v6.8h-6.8zM569.7,1447.6h6.8v6.8h-6.8zM571.3,1442.6h6.8v6.8h-6.8zM572.9,1437.6h6.8v6.8h-6.8zM574.5,1432.6h6.8v6.8h-6.8zM576.1,1427.7h6.8v6.8h-6.8zM577.7,1422.9h6.8v6.8h-6.8zM579.3,1418.2h6.8v6.8h-6.8zM580.9,1413.7h6.8v6.8h-6.8zM582.5,1409.5h6.8v6.8h-6.8zM584.6,1403.9h6.8v6.8h-6.8zM586.7,1398.6h6.8v6.8h-6.8zM588.8,1393.6h6.8v6.8h-6.8zM590.9,1389h6.8v6.8h-6.8zM593.1,1384.7h6.8v6.8h-6.8zM594.7,1381.6h6.8v6.8h-6.8zM596.3,1378.7h6.8v6.8h-6.8zM597.9,1376h6.8v6.8h-6.8zM599.5,1373.6h6.8v6.8h-6.8zM601.1,1371.5h6.8v6.8h-6.8zM602.7,1369.7h6.8v6.8h-6.8zM604.8,1368h6.8v6.8h-6.8zM606.9,1367.1h6.8v6.8h-6.8zM609.1,1366.6h6.8v6.8h-6.8zM611.2,1366.1h6.8v6.8h-6.8zM613.3,1365.5h6.8v6.8h-6.8zM615.4,1364.7h6.8v6.8h-6.8zM617.5,1364h6.8v6.8h-6.8zM619.7,1363.2h6.8v6.8h-6.8zM621.8,1362.3h6.8v6.8h-6.8zM623.9,1361.2h6.8v6.8h-6.8zM625.5,1360.2h6.8v6.8h-6.8zM627.1,1359.1h6.8v6.8h-6.8zM628.7,1357.9h6.8v6.8h-6.8zM630.3,1356.6h6.8v6.8h-6.8zM631.9,1355.2h6.8v6.8h-6.8zM633.5,1353.7h6.8v6.8h-6.8zM635.7,1351.6h6.8v6.8h-6.8zM637.8,1349.2h6.8v6.8h-6.8zM639.9,1346.6h6.8v6.8h-6.8zM642,1343.9h6.8v6.8h-6.8zM644.1,1341.3h6.8v6.8h-6.8zM646.3,1338.8h6.8v6.8h-6.8zM648.4,1336.4h6.8v6.8h-6.8zM650.5,1334.1h6.8v6.8h-6.8zM652.6,1331.6h6.8v6.8h-6.8zM654.7,1328.8h6.8v6.8h-6.8zM656.3,1326.3h6.8v6.8h-6.8zM658,1323.6h6.8v6.8h-6.8zM659.6,1320.5h6.8v6.8h-6.8zM661.2,1317.3h6.8v6.8h-6.8zM662.9,1314.1h6.8v6.8h-6.8zM664.5,1310.8h6.8v6.8h-6.8zM666.6,1306.6h6.8v6.8h-6.8zM668.7,1302.5h6.8v6.8h-6.8zM670.7,1298.3h6.8v6.8h-6.8zM672.6,1294.2h6.8v6.8h-6.8zM674.6,1290.3h6.8v6.8h-6.8zM676.6,1286.6h6.8v6.8h-6.8zM678.6,1283.2h6.8v6.8h-6.8zM680.5,1280h6.8v6.8h-6.8zM682.5,1277h6.8v6.8h-6.8zM684.5,1274.2h6.8v6.8h-6.8zM686.6,1271.6h6.8v6.8h-6.8zM688.3,1269.7h6.8v6.8h-6.8zM690.3,1267.9h6.8v6.8h-6.8zM692.2,1266.2h6.8v6.8h-6.8zM694.1,1264.6h6.8v6.8h-6.8zM695.8,1263.3h6.8v6.8h-6.8zM697.6,1261.9h6.8v6.8h-6.8zM683.4,1162.7h6.8v6.8h-6.8zM681,1168.1h6.8v6.8h-6.8zM678.8,1173.1h6.8v6.8h-6.8zM676.3,1178.5h6.8v6.8h-6.8zM673.9,1183.7h6.8v6.8h-6.8zM671.7,1188.3h6.8v6.8h-6.8zM669.1,1193.5h6.8v6.8h-6.8zM666.4,1198.7h6.8v6.8h-6.8zM663.8,1204h6.8v6.8h-6.8zM661.7,1208.6h6.8v6.8h-6.8zM659.6,1213.5h6.8v6.8h-6.8zM657.4,1218.6h6.8v6.8h-6.8zM655.3,1223.8h6.8v6.8h-6.8zM653.2,1229h6.8v6.8h-6.8zM651.1,1234.2h6.8v6.8h-6.8zM648.9,1239.5h6.8v6.8h-6.8zM646.7,1244.8h6.8v6.8h-6.8zM644.5,1250.1h6.8v6.8h-6.8zM642.4,1255h6.8v6.8h-6.8zM640,1260.5h6.8v6.8h-6.8zM637.7,1265.1h6.8v6.8h-6.8zM635.1,1270.1h6.8v6.8h-6.8zM632.8,1274.7h6.8v6.8h-6.8zM630.4,1279.3h6.8v6.8h-6.8zM628.1,1283.9h6.8v6.8h-6.8zM625.7,1289.1h6.8v6.8h-6.8zM623.6,1294.1h6.8v6.8h-6.8zM621.4,1299.7h6.8v6.8h-6.8zM619.2,1305.3h6.8v6.8h-6.8zM617.2,1310.3h6.8v6.8h-6.8zM615.3,1315.5h6.8v6.8h-6.8zM613.5,1320.2h6.8v6.8h-6.8zM611.6,1325.4h6.8v6.8h-6.8zM609.6,1330.4h6.8v6.8h-6.8zM607.5,1335.5h6.8v6.8h-6.8zM605.2,1341.1h6.8v6.8h-6.8zM603.5,1346h6.8v6.8h-6.8zM601.8,1351.4h6.8v6.8h-6.8zM600.1,1357.4h6.8v6.8h-6.8zM598.4,1363.9h6.8v6.8h-6.8zM597.1,1368.9h6.8v6.8h-6.8zM595.9,1373.9h6.8v6.8h-6.8zM594.6,1378.8h6.8v6.8h-6.8zM592.9,1385.1h6.8v6.8h-6.8zM591.2,1391.4h6.8v6.8h-6.8zM589.5,1397.7h6.8v6.8h-6.8zM587.8,1404h6.8v6.8h-6.8zM586.6,1408.9h6.8v6.8h-6.8zM585.3,1414h6.8v6.8h-6.8zM584,1419.2h6.8v6.8h-6.8zM582.7,1424.5h6.8v6.8h-6.8zM581.5,1430h6.8v6.8h-6.8zM580.2,1435.4h6.8v6.8h-6.8zM578.9,1441h6.8v6.8h-6.8zM577.6,1446.5h6.8v6.8h-6.8zM576.4,1452.1h6.8v6.8h-6.8zM575.1,1457.7h6.8v6.8h-6.8zM573.8,1463.3h6.8v6.8h-6.8zM572.5,1469h6.8v6.8h-6.8zM571.3,1474.8h6.8v6.8h-6.8zM570,1480.6h6.8v6.8h-6.8zM568.7,1486.6h6.8v6.8h-6.8zM567.4,1492.6h6.8v6.8h-6.8zM566.1,1498.6h6.8v6.8h-6.8zM564.7,1504.7h6.8v6.8h-6.8zM563.4,1511h6.8v6.8h-6.8zM562.1,1517.5h6.8v6.8h-6.8zM560.9,1524.4h6.8v6.8h-6.8zM559.7,1531.8h6.8v6.8h-6.8zM559,1537.5h6.8v6.8h-6.8zM558.2,1543.7h6.8v6.8h-6.8zM557.5,1550.2h6.8v6.8h-6.8zM556.8,1556.8h6.8v6.8h-6.8zM556.1,1563.3h6.8v6.8h-6.8zM555.4,1569.5h6.8v6.8h-6.8zM554.9,1575.1h6.8v6.8h-6.8zM554.2,1582.2h6.8v6.8h-6.8zM687.7,1205.3h6.8v6.8h-6.8zM685.3,1210.1h6.8v6.8h-6.8zM682.5,1215.7h6.8v6.8h-6.8zM680,1220.6h6.8v6.8h-6.8zM677.6,1225.5h6.8v6.8h-6.8zM674.9,1231.1h6.8v6.8h-6.8zM672.7,1235.7h6.8v6.8h-6.8zM670.5,1240.3h6.8v6.8h-6.8zM668.4,1245.1h6.8v6.8h-6.8zM666.4,1249.9h6.8v6.8h-6.8zM664.5,1254.9h6.8v6.8h-6.8zM662.7,1260.1h6.8v6.8h-6.8zM661,1265.4h6.8v6.8h-6.8zM659.4,1270.5h6.8v6.8h-6.8zM657.9,1275.4h6.8v6.8h-6.8zM656.2,1280.9h6.8v6.8h-6.8zM654.6,1286h6.8v6.8h-6.8zM653.1,1291.1h6.8v6.8h-6.8zM651.6,1296.6h6.8v6.8h-6.8zM650.4,1301.5h6.8v6.8h-6.8zM649.2,1306.6h6.8v6.8h-6.8zM647.9,1311.8h6.8v6.8h-6.8zM646.6,1317.1h6.8v6.8h-6.8zM645.2,1322.2h6.8v6.8h-6.8zM643.6,1327.1h6.8v6.8h-6.8zM641.6,1332.9h6.8v6.8h-6.8zM639.8,1337.7h6.8v6.8h-6.8zM638,1342.6h6.8v6.8h-6.8zM636.1,1348h6.8v6.8h-6.8zM634.2,1353.7h6.8v6.8h-6.8zM632.2,1359.7h6.8v6.8h-6.8zM630.2,1365.9h6.8v6.8h-6.8zM628.1,1372h6.8v6.8h-6.8zM626.1,1378.1h6.8v6.8h-6.8zM624.4,1383.1h6.8v6.8h-6.8zM622.7,1388.3h6.8v6.8h-6.8zM621,1393.5h6.8v6.8h-6.8zM619.4,1398.3h6.8v6.8h-6.8zM617.6,1403.7h6.8v6.8h-6.8zM456,1316.6h6.8v6.8h-6.8zM457.1,1322.4h6.8v6.8h-6.8zM458.3,1328.3h6.8v6.8h-6.8zM459.6,1335.2h6.8v6.8h-6.8zM461,1342.5h6.8v6.8h-6.8zM462,1347.5h6.8v6.8h-6.8zM463.5,1354.7h6.8v6.8h-6.8zM465,1361.2h6.8v6.8h-6.8zM466.5,1367.4h6.8v6.8h-6.8zM468.1,1373.5h6.8v6.8h-6.8zM469.7,1379.7h6.8v6.8h-6.8zM471.3,1385.9h6.8v6.8h-6.8zM472.9,1392.4h6.8v6.8h-6.8zM474.6,1399.2h6.8v6.8h-6.8zM476.2,1406.5h6.8v6.8h-6.8zM477.2,1411.6h6.8v6.8h-6.8zM478.3,1416.8h6.8v6.8h-6.8zM479.3,1422.1h6.8v6.8h-6.8zM480.4,1427.5h6.8v6.8h-6.8zM481.5,1433h6.8v6.8h-6.8zM482.5,1438.5h6.8v6.8h-6.8zM483.6,1444h6.8v6.8h-6.8zM484.6,1449.4h6.8v6.8h-6.8zM485.7,1454.8h6.8v6.8h-6.8zM486.8,1460.2h6.8v6.8h-6.8zM487.9,1465.6h6.8v6.8h-6.8zM489,1471.1h6.8v6.8h-6.8zM490.2,1476.6h6.8v6.8h-6.8zM491.3,1482h6.8v6.8h-6.8zM492.4,1487.4h6.8v6.8h-6.8zM493.5,1492.8h6.8v6.8h-6.8zM494.5,1498h6.8v6.8h-6.8zM495.5,1503h6.8v6.8h-6.8zM496.8,1510.3h6.8v6.8h-6.8zM498,1517.2h6.8v6.8h-6.8zM499,1523.8h6.8v6.8h-6.8zM500,1530.3h6.8v6.8h-6.8zM500.9,1536.5h6.8v6.8h-6.8zM501.7,1542.5h6.8v6.8h-6.8zM502.5,1548.5h6.8v6.8h-6.8zM503.3,1554.4h6.8v6.8h-6.8zM504.1,1560.5h6.8v6.8h-6.8zM504.8,1566.7h6.8v6.8h-6.8zM505.5,1572.6h6.8v6.8h-6.8zM506.1,1577.9h6.8v6.8h-6.8zM506.8,1583.5h6.8v6.8h-6.8zM459.6,1296.6h6.8v6.8h-6.8zM462.5,1309.1h6.8v6.8h-6.8zM465.3,1321.3h6.8v6.8h-6.8zM468.4,1334h6.8v6.8h-6.8zM471.4,1346h6.8v6.8h-6.8zM474.6,1358.4h6.8v6.8h-6.8zM477.6,1370.7h6.8v6.8h-6.8zM480.7,1384.1h6.8v6.8h-6.8zM483.8,1397h6.8v6.8h-6.8zM487.5,1408.7h6.8v6.8h-6.8zM492,1412.6h6.8v6.8h-6.8zM496,1423.5h6.8v6.8h-6.8zM497.5,1435.6h6.8v6.8h-6.8zM499,1447.6h6.8v6.8h-6.8zM501,1459.7h6.8v6.8h-6.8zM502.8,1471.8h6.8v6.8h-6.8zM504.7,1484.5h6.8v6.8h-6.8zM505.9,1496.7h6.8v6.8h-6.8zM507,1509.3h6.8v6.8h-6.8zM508.1,1522.9h6.8v6.8h-6.8zM509.1,1535.2h6.8v6.8h-6.8zM510.1,1548h6.8v6.8h-6.8zM511.2,1561.4h6.8v6.8h-6.8zM512,1573.7h6.8v6.8h-6.8zM564.4,1359.1h6.8v6.8h-6.8zM562.6,1371.9h6.8v6.8h-6.8zM560.9,1384.8h6.8v6.8h-6.8zM559.4,1397.1h6.8v6.8h-6.8zM558.3,1409.2h6.8v6.8h-6.8zM557.1,1421.8h6.8v6.8h-6.8zM555.8,1434.6h6.8v6.8h-6.8zM554.6,1447.3h6.8v6.8h-6.8zM553.1,1460.2h6.8v6.8h-6.8zM551.1,1473h6.8v6.8h-6.8zM548.8,1485.2h6.8v6.8h-6.8zM546.8,1497.3h6.8v6.8h-6.8zM545.2,1509.8h6.8v6.8h-6.8zM543.6,1522.5h6.8v6.8h-6.8zM542.2,1535.4h6.8v6.8h-6.8zM541,1548.3h6.8v6.8h-6.8zM539.9,1560.5h6.8v6.8h-6.8zM538.8,1572.6h6.8v6.8h-6.8zM537.7,1584.8h6.8v6.8h-6.8z'/><path id='bd7' d='M441,991 L444.6,989 L449.7,986.3 L455.6,983.1 L461.7,979.8 L467.2,976.9 L471.9,974.3 L476.3,971.9 L480.7,969.5 L485.5,967.2 L490.9,965 L497.4,962.8 L504.8,960.4 L512.4,958.3 L519.8,956.6 L526.3,955.6 L531.8,955.4 L536.6,955.9 L541,956.8 L545.4,958 L549.9,959.1 L554.6,960.4 L559.4,962.1 L564.1,963.9 L568.9,965.3 L573.6,966.2 L578.3,966.3 L583,965.8 L587.8,965.1 L592.5,964.4 L597.2,963.9 L601.9,963.6 L606.6,963.4 L611.4,963.3 L616.1,963.4 L620.8,963.9 L625.5,964.8 L630.2,966.1 L635,967.6 L639.7,969.2 L644.4,971 L649.1,972.9 L653.8,975.1 L658.6,977.4 L663.3,979.6 L668,981.6 L673,983.5 L678.1,985.4 L683.2,987.2 L687.9,988.7 L691.7,989.9 L694.7,990.6 L697,990.9 L698.8,991 L700.2,991 L701.3,991M441,1161.9 L443.3,1163 L446.6,1164.5 L450.4,1166.3 L454.1,1168.3 L457.3,1170.4 L459.8,1172.6 L462.1,1175 L464.1,1177.6 L466,1180.3 L467.9,1183.1 L469.7,1186.3 L471.5,1190M473.1,1193.6 L474.7,1196.8 L476.4,1199 L478.1,1200.2 L479.7,1200.6 L481.3,1200.4 L483.1,1199.9 L484.9,1199 L486.9,1197.8 L489,1196 L491.2,1194 L493.3,1191.8 L495.5,1189.5 L497.6,1187.1 L499.6,1184.6 L501.6,1181.9 L503.8,1179.3 L506.2,1176.8 L509,1174.4 L512,1172 L515.2,1169.7 L518.2,1167.7 L521,1166.1 L523.3,1165 L525.4,1164.3 L527.3,1164 L529.4,1163.9 L531.7,1164 L534.4,1164.3 L537.4,1165 L540.5,1165.8 L543.6,1166.9 L546.5,1168.3 L549.2,1169.9 L551.9,1171.9 L554.4,1174 L556.9,1176.4 L559.3,1178.9 L561.6,1181.6 L563.7,1184.4 L565.8,1187.5 L567.8,1190.6 L569.9,1193.8 L572.1,1197.1 L574.3,1200.4 L576.5,1203.9 L578.6,1207.4 L580.6,1210.8 L582.4,1214.2 L584.2,1217.6 L585.8,1221 L587.4,1224.4 L589.1,1227.8 L590.8,1231.3 L592.5,1234.8 L594.2,1238.3 L595.9,1241.6 L597.6,1244.8 L599.3,1247.8 L600.9,1250.6 L602.5,1253.3 L604.3,1255.8 L606.1,1258 L608.1,1259.9 L610.2,1261.4 L612.4,1262.9 L614.5,1264.3 L616.7,1266 L618.9,1268 L621.2,1270.2 L623.5,1272.5 L625.6,1274.7 L627.3,1276.7 L628.5,1278.5 L629.4,1280.1M630.7,1283.2 L631.6,1285 L632.7,1286.9 L633.8,1288.8 L635,1290.9 L636.4,1293.2 L638,1295.8 L639.9,1298.9 L642.1,1302.4 L644.5,1306 L646.7,1309.6 L648.6,1312.8 L650.1,1315.7M652.4,1320.8 L653.6,1323.2 L655,1325.6 L656.7,1328.1 L658.5,1330.7 L660.5,1333.1 L662.6,1335.3 L665,1337 L667.6,1338.2 L670.3,1338.9 L673.3,1339.4 L676.5,1339.7 L680,1340 L684.2,1340.2 L689.1,1340.2 L694,1340.1 L698.3,1340 L701.3,1340M701.3,1161.9 L698.4,1161.3 L694.2,1160.5 L689.4,1159.5 L684.6,1158.5 L680.5,1157.6 L677.2,1156.7 L674.2,1155.8 L671.4,1154.9 L668.6,1154.1 L665.6,1153.4 L662.3,1152.7 L658.9,1152 L655.3,1151.4 L651.9,1151.1 L648.6,1151.3 L645.4,1152 L642.3,1153 L639.2,1154.4 L636.4,1155.9 L633.7,1157.6 L631.3,1159.5 L629.3,1161.8 L627.3,1164.1 L625.3,1166.4 L623.1,1168.3 L620.6,1169.8 L617.9,1171.1 L615.2,1172.3 L612.6,1173.4 L610.3,1174.6 L608.3,1175.8 L606.4,1176.8 L604.7,1178 L603.2,1179.3 L601.8,1181 L600.7,1183.1M543.9,1415.8 L542.8,1418.2M701.3,1202.3 L698.4,1201.9 L694.2,1201.2 L689.4,1200.5 L684.6,1200.1 L680.5,1200.2 L677.2,1200.8 L674.2,1201.8 L671.4,1203.1 L668.6,1204.7 L665.6,1206.5 L662.3,1208.7 L659,1211.4 L655.5,1214.2 L652,1216.9 L648.6,1219.3 L645.2,1221.3 L641.7,1223.2 L638.2,1224.9 L634.9,1226.4 L631.6,1227.8 L628.5,1228.9 L625.5,1229.8 L622.6,1230.5 L619.6,1231.2 L616.7,1232 L613.6,1232.8 L610.4,1233.6 L607.3,1234.4 L604.4,1235.3 L601.8,1236.3 L599.6,1237.4 L597.7,1238.7 L596,1240 L594.6,1241.3 L593.3,1242.7 L592.3,1244.2 L591.4,1245.9M624.5,1289.6 L623,1291.6 L621,1292.8 L618.5,1293.6 L615.8,1294.2 L613,1294.8 L610.3,1295.8 L607.7,1297.2 L605,1298.7 L602.4,1300.4 L599.9,1302.3 L597.6,1304.3 L595.6,1306.6 L593.7,1309.1 L592,1311.7 L590.5,1314.4 L589.1,1317M569.2,1372 L567.8,1375 L566.3,1378 L564.7,1381.1 L563,1384.2 L561.2,1387.2 L559.3,1390 L557.3,1392.6 L555.2,1395 L553,1397.4 L550.9,1399.7 L548.7,1402 L546.6,1404.4 L544.4,1407 L542.3,1409.4 L540.1,1411.7 L538,1413.5 L535.8,1415 L533.6,1416.3 L531.3,1417.2 L529.2,1417.7 L527.4,1417.8 L525.9,1417.4 L524.7,1416.7 L523.7,1415.5 L522.5,1413.8 L521,1411.4 L519.1,1408.2 L517.1,1404.3 L514.8,1399.9 L512.6,1395.1M470,1225.7 L468.8,1223.1 L467.6,1220.9 L466.5,1218.8 L465.1,1216.9 L463.6,1215 L461.8,1213.1 L459.7,1211.1 L457.5,1209.3 L455.3,1207.8 L453,1206.5 L450.5,1205.6 L447.7,1205.1 L445,1204.8 L442.7,1204.6 L441,1204.4M443.4,1276.6 L444.5,1278.8 L445.9,1281 L447.6,1283.3 L449.5,1285.8 L451.4,1288.6 L453,1291.6M508.3,1502.8 L510.4,1507.1 L512.5,1510.8 L514.6,1513.7 L516.8,1516.1 L518.9,1518.1 L521,1519.8 L523.1,1521.2 L525.3,1522.1 L527.4,1522.6 L529.6,1522.9 L531.7,1523 L533.8,1523 L535.9,1522.7 L538.1,1522.2 L540.2,1521.3 L542.3,1519.8 L544.4,1517.7 L546.5,1515.1 L548.7,1512.1 L550.8,1508.7 L552.9,1505 L555,1501 L557.1,1496.8 L559.3,1492.1M593.3,1394.7 L595.4,1390.2 L597.5,1386 L599.7,1382.1 L601.8,1378.6 L604,1375.6 L606.1,1373.1 L608.2,1371.4 L610.3,1370.5 L612.5,1370 L614.6,1369.5 L616.7,1368.9 L618.8,1368.1 L620.9,1367.4 L623.1,1366.6 L625.2,1365.7 L627.3,1364.6 L629.4,1363.2 L631.6,1361.7 L633.7,1360 L635.9,1358.1 L638,1356.1 L640.1,1353.8 L642.2,1351.3 L644.4,1348.7 L646.5,1346 L648.6,1343.4 L650.7,1341 L652.8,1338.7 L654.9,1336.3 L657.1,1333.7 L659.2,1330.6 L661.4,1327 L663.5,1322.9 L665.7,1318.6 L667.9,1314.2 L670,1310 L672.1,1305.9 L674.1,1301.7 L676,1297.6 L678,1293.7 L680,1290 L682,1286.6 L683.9,1283.4 L685.9,1280.4 L687.9,1277.6 L690,1275 L692.4,1272.5 L695,1270.2 L697.5,1268 L699.7,1266.3 L701.3,1265'/><path id='ln9' d='M438,1281 C439.5,1281.2 444.5,1281.3 447,1282 C449.5,1282.7 452,1284.5 453,1285M438,1340 C439.7,1340 445,1339.7 448,1340 C451,1340.3 454.7,1341.7 456,1342M686,1281 C687.3,1281 691,1281 694,1281 C697,1281 702.3,1281 704,1281M666,1337 C668.3,1337.5 673.7,1339.5 680,1340 C686.3,1340.5 700,1340 704,1340M611,1416 C611.8,1414.8 614.3,1411.2 616,1409 C617.7,1406.8 619.2,1404.8 621,1403 C622.8,1401.2 625.2,1399.5 627,1398 C628.8,1396.5 631.2,1394.7 632,1394'/></defs>
<use href='#bd7' fill='none' stroke-linecap='round' stroke-linejoin='round' stroke='#000000' stroke-width='6.8' stroke-opacity='1.0'/>
<use href='#mk8' fill='none' stroke='#000000' stroke-width='1.4'/>
<use href='#ln9' fill='none' stroke='#000000' stroke-width='6.5'/>
<g clip-path='url(#cb1)'>
<rect x='0' y='0' width='1270' height='1735' fill='#B083D8'/>
<use href='#bd7' fill='none' stroke-linecap='round' stroke-linejoin='round' stroke='#7849ab' stroke-width='6.8' stroke-opacity='1.0'/>
<use href='#mk8' fill='none' stroke='#7246a6' stroke-width='1.4'/>
<use href='#ln9' fill='none' stroke='#7246a6' stroke-width='6.5'/>
</g>
</g>
<line x1='441' y1='995.3' x2='701.3' y2='995.3' stroke='#7a52a6' stroke-width='1.3'/>
<line x1='441' y1='1146' x2='701.3' y2='1146' stroke='#7a52a6' stroke-width='1.3'/>
<line x1='441' y1='1283' x2='701.3' y2='1283' stroke='#7a52a6' stroke-width='1.3'/>
<line x1='441' y1='1337.5' x2='701.3' y2='1337.5' stroke='#7a52a6' stroke-width='1.3'/>
<path d='M441,893 L701.3,893 L701.3,1256 L701.3,1256 L697.7,1266.1 L694.1,1275.9 L690.4,1285.6 L686.8,1294.9 L683.2,1304 L679.6,1312.8 L676,1321.3 L672.4,1329.5 L668.8,1337.3 L665.1,1344.8 L661.5,1351.8 L657.9,1358.5 L654.3,1364.7 L650.7,1370.5 L647,1375.8 L643.4,1380.6 L639.8,1384.9 L636.2,1388.6 L632.6,1391.8 L629,1394.5 L625.4,1396.6 L621.7,1398.1 L618.1,1399 L614.5,1399.3 L567.5,1589 L499.6,1589 L441,1256 Z' fill='none' stroke='#3b2d4f' stroke-width='1.4'/>
<g clip-path='url(#rb2)'>
<defs><path id='mk11' d='M697.9,937.5h6.8v6.8h-6.8zM700.2,936.9h6.8v6.8h-6.8zM703.4,936h6.8v6.8h-6.8zM705.8,935.3h6.8v6.8h-6.8zM708.5,934.6h6.8v6.8h-6.8zM711.2,933.8h6.8v6.8h-6.8zM714,933h6.8v6.8h-6.8zM716.8,932.3h6.8v6.8h-6.8zM719.5,931.6h6.8v6.8h-6.8zM722,930.9h6.8v6.8h-6.8zM724.4,930.3h6.8v6.8h-6.8zM726.8,929.7h6.8v6.8h-6.8zM729.1,929h6.8v6.8h-6.8zM731.5,928.4h6.8v6.8h-6.8zM733.9,927.8h6.8v6.8h-6.8zM736.2,927.2h6.8v6.8h-6.8zM738.6,926.7h6.8v6.8h-6.8zM741,926.1h6.8v6.8h-6.8zM743.3,925.5h6.8v6.8h-6.8zM745.7,925h6.8v6.8h-6.8zM748.1,924.5h6.8v6.8h-6.8zM750.4,923.9h6.8v6.8h-6.8zM752.8,923.4h6.8v6.8h-6.8zM755.1,922.9h6.8v6.8h-6.8zM757.5,922.4h6.8v6.8h-6.8zM759.9,921.9h6.8v6.8h-6.8zM762.2,921.4h6.8v6.8h-6.8zM764.6,921h6.8v6.8h-6.8zM766.9,920.6h6.8v6.8h-6.8zM769.3,920.3h6.8v6.8h-6.8zM771.7,920h6.8v6.8h-6.8zM774,919.8h6.8v6.8h-6.8zM776.4,919.5h6.8v6.8h-6.8zM778.7,919.3h6.8v6.8h-6.8zM781.1,919.2h6.8v6.8h-6.8zM783.5,919.1h6.8v6.8h-6.8zM785.8,919h6.8v6.8h-6.8zM788.2,919h6.8v6.8h-6.8zM790.5,919h6.8v6.8h-6.8zM792.9,919.1h6.8v6.8h-6.8zM795.3,919.3h6.8v6.8h-6.8zM797.6,919.5h6.8v6.8h-6.8zM800,919.9h6.8v6.8h-6.8zM802.3,920.3h6.8v6.8h-6.8zM804.7,920.7h6.8v6.8h-6.8zM807.1,921.1h6.8v6.8h-6.8zM809.4,921.6h6.8v6.8h-6.8zM811.8,922h6.8v6.8h-6.8zM814.1,922.4h6.8v6.8h-6.8zM816.5,922.7h6.8v6.8h-6.8zM818.9,923h6.8v6.8h-6.8zM821.2,923.4h6.8v6.8h-6.8zM823.6,923.7h6.8v6.8h-6.8zM826,924h6.8v6.8h-6.8zM828.4,924.4h6.8v6.8h-6.8zM830.7,924.6h6.8v6.8h-6.8zM833.1,924.9h6.8v6.8h-6.8zM835.5,925h6.8v6.8h-6.8zM837.8,925.1h6.8v6.8h-6.8zM840.2,925h6.8v6.8h-6.8zM842.6,924.8h6.8v6.8h-6.8zM844.9,924.4h6.8v6.8h-6.8zM847.3,923.9h6.8v6.8h-6.8zM849.6,923.3h6.8v6.8h-6.8zM852,922.7h6.8v6.8h-6.8zM854.4,922.1h6.8v6.8h-6.8zM856.7,921.5h6.8v6.8h-6.8zM859.1,921h6.8v6.8h-6.8zM861.4,920.6h6.8v6.8h-6.8zM863.8,920.3h6.8v6.8h-6.8zM866.2,920.2h6.8v6.8h-6.8zM868.5,920.1h6.8v6.8h-6.8zM870.9,920.1h6.8v6.8h-6.8zM873.2,920.1h6.8v6.8h-6.8zM875.6,920.2h6.8v6.8h-6.8zM878,920.4h6.8v6.8h-6.8zM880.3,920.6h6.8v6.8h-6.8zM882.7,920.9h6.8v6.8h-6.8zM885,921.2h6.8v6.8h-6.8zM887.4,921.5h6.8v6.8h-6.8zM889.8,921.9h6.8v6.8h-6.8zM892.1,922.4h6.8v6.8h-6.8zM894.5,922.9h6.8v6.8h-6.8zM896.8,923.5h6.8v6.8h-6.8zM899.2,924.1h6.8v6.8h-6.8zM901.6,924.7h6.8v6.8h-6.8zM903.9,925.4h6.8v6.8h-6.8zM906.3,926.1h6.8v6.8h-6.8zM908.6,926.7h6.8v6.8h-6.8zM911,927.4h6.8v6.8h-6.8zM913.3,928.1h6.8v6.8h-6.8zM915.7,928.8h6.8v6.8h-6.8zM918,929.6h6.8v6.8h-6.8zM920.3,930.3h6.8v6.8h-6.8zM922.6,931.1h6.8v6.8h-6.8zM925,931.9h6.8v6.8h-6.8zM927.3,932.6h6.8v6.8h-6.8zM929.7,933.3h6.8v6.8h-6.8zM932.1,933.9h6.8v6.8h-6.8zM934.6,934.5h6.8v6.8h-6.8zM937.3,935h6.8v6.8h-6.8zM940.1,935.5h6.8v6.8h-6.8zM943.2,935.9h6.8v6.8h-6.8zM946.3,936.3h6.8v6.8h-6.8zM949.3,936.7h6.8v6.8h-6.8zM952.3,937h6.8v6.8h-6.8zM955,937.3h6.8v6.8h-6.8zM957.4,937.6h6.8v6.8h-6.8zM960.4,937.9h6.8v6.8h-6.8zM697.9,987.6h6.8v6.8h-6.8zM700.2,987.2h6.8v6.8h-6.8zM703.4,986.7h6.8v6.8h-6.8zM705.8,986.3h6.8v6.8h-6.8zM708.5,985.8h6.8v6.8h-6.8zM711.2,985.3h6.8v6.8h-6.8zM714,984.8h6.8v6.8h-6.8zM716.8,984.2h6.8v6.8h-6.8zM719.5,983.6h6.8v6.8h-6.8zM722,982.9h6.8v6.8h-6.8zM724.4,982.1h6.8v6.8h-6.8zM726.8,981.3h6.8v6.8h-6.8zM729.1,980.4h6.8v6.8h-6.8zM731.5,979.4h6.8v6.8h-6.8zM733.9,978.4h6.8v6.8h-6.8zM736.2,977.4h6.8v6.8h-6.8zM738.6,976.4h6.8v6.8h-6.8zM741,975.4h6.8v6.8h-6.8zM743.3,974.4h6.8v6.8h-6.8zM745.7,973.5h6.8v6.8h-6.8zM748.1,972.6h6.8v6.8h-6.8zM750.4,971.7h6.8v6.8h-6.8zM752.8,970.7h6.8v6.8h-6.8zM755.1,969.8h6.8v6.8h-6.8zM757.5,968.8h6.8v6.8h-6.8zM759.9,968h6.8v6.8h-6.8zM762.2,967.1h6.8v6.8h-6.8zM764.6,966.4h6.8v6.8h-6.8zM766.9,965.7h6.8v6.8h-6.8zM769.3,965.2h6.8v6.8h-6.8zM771.7,964.8h6.8v6.8h-6.8zM774,964.4h6.8v6.8h-6.8zM776.4,964.1h6.8v6.8h-6.8zM778.7,963.9h6.8v6.8h-6.8zM781.1,963.8h6.8v6.8h-6.8zM783.5,963.7h6.8v6.8h-6.8zM785.8,963.7h6.8v6.8h-6.8zM788.2,963.7h6.8v6.8h-6.8zM790.5,963.8h6.8v6.8h-6.8zM792.9,964h6.8v6.8h-6.8zM795.3,964.2h6.8v6.8h-6.8zM797.6,964.5h6.8v6.8h-6.8zM800,964.9h6.8v6.8h-6.8zM802.3,965.3h6.8v6.8h-6.8zM804.7,965.8h6.8v6.8h-6.8zM807.1,966.4h6.8v6.8h-6.8zM809.4,966.9h6.8v6.8h-6.8zM811.8,967.5h6.8v6.8h-6.8zM814.1,968.1h6.8v6.8h-6.8zM816.5,968.7h6.8v6.8h-6.8zM818.9,969.3h6.8v6.8h-6.8zM821.2,970h6.8v6.8h-6.8zM823.6,970.8h6.8v6.8h-6.8zM826,971.5h6.8v6.8h-6.8zM828.4,972.3h6.8v6.8h-6.8zM830.7,973.1h6.8v6.8h-6.8zM833.1,973.9h6.8v6.8h-6.8zM835.5,974.6h6.8v6.8h-6.8zM837.8,975.2h6.8v6.8h-6.8zM840.2,975.8h6.8v6.8h-6.8zM842.6,976.3h6.8v6.8h-6.8zM844.9,976.8h6.8v6.8h-6.8zM847.3,977.2h6.8v6.8h-6.8zM849.6,977.6h6.8v6.8h-6.8zM852,978h6.8v6.8h-6.8zM854.4,978.3h6.8v6.8h-6.8zM856.7,978.6h6.8v6.8h-6.8zM859.1,978.9h6.8v6.8h-6.8zM861.4,979.2h6.8v6.8h-6.8zM863.8,979.4h6.8v6.8h-6.8zM866.2,979.6h6.8v6.8h-6.8zM868.5,979.7h6.8v6.8h-6.8zM870.9,979.8h6.8v6.8h-6.8zM873.2,979.9h6.8v6.8h-6.8zM875.6,979.9h6.8v6.8h-6.8zM878,980h6.8v6.8h-6.8zM880.3,980.1h6.8v6.8h-6.8zM882.7,980.2h6.8v6.8h-6.8zM885,980.3h6.8v6.8h-6.8zM887.4,980.5h6.8v6.8h-6.8zM889.8,980.8h6.8v6.8h-6.8zM892.1,981.1h6.8v6.8h-6.8zM894.5,981.4h6.8v6.8h-6.8zM896.8,981.8h6.8v6.8h-6.8zM899.2,982.1h6.8v6.8h-6.8zM901.6,982.5h6.8v6.8h-6.8zM903.9,982.9h6.8v6.8h-6.8zM906.3,983.3h6.8v6.8h-6.8zM908.6,983.7h6.8v6.8h-6.8zM911,984.1h6.8v6.8h-6.8zM913.3,984.5h6.8v6.8h-6.8zM915.7,984.8h6.8v6.8h-6.8zM918,985.2h6.8v6.8h-6.8zM920.3,985.6h6.8v6.8h-6.8zM922.6,986h6.8v6.8h-6.8zM925,986.4h6.8v6.8h-6.8zM927.3,986.7h6.8v6.8h-6.8zM929.7,987h6.8v6.8h-6.8zM932.1,987.3h6.8v6.8h-6.8zM934.6,987.6h6.8v6.8h-6.8zM937.3,987.8h6.8v6.8h-6.8zM940.1,988h6.8v6.8h-6.8zM943.2,988.2h6.8v6.8h-6.8zM946.3,988.3h6.8v6.8h-6.8zM949.3,988.4h6.8v6.8h-6.8zM952.3,988.5h6.8v6.8h-6.8zM955,988.6h6.8v6.8h-6.8zM957.4,988.7h6.8v6.8h-6.8zM960.4,988.8h6.8v6.8h-6.8zM697.9,1163.8h6.8v6.8h-6.8zM700.1,1165.8h6.8v6.8h-6.8zM702.6,1168h6.8v6.8h-6.8zM705.4,1170.5h6.8v6.8h-6.8zM708.3,1173.4h6.8v6.8h-6.8zM710.8,1176.5h6.8v6.8h-6.8zM713.2,1180.1h6.8v6.8h-6.8zM715.5,1184.2h6.8v6.8h-6.8zM717.9,1188.4h6.8v6.8h-6.8zM720.2,1192.2h6.8v6.8h-6.8zM722.6,1195.3h6.8v6.8h-6.8zM724.9,1198.2h6.8v6.8h-6.8zM727.3,1200.8h6.8v6.8h-6.8zM729.7,1202.9h6.8v6.8h-6.8zM732,1204.3h6.8v6.8h-6.8zM734.4,1204.6h6.8v6.8h-6.8zM736.7,1203.7h6.8v6.8h-6.8zM738.9,1202h6.8v6.8h-6.8zM741.2,1199.6h6.8v6.8h-6.8zM743.7,1196.8h6.8v6.8h-6.8zM746.4,1193.8h6.8v6.8h-6.8zM748.7,1191.3h6.8v6.8h-6.8zM751,1188.4h6.8v6.8h-6.8zM753.5,1185.3h6.8v6.8h-6.8zM756.1,1182.2h6.8v6.8h-6.8zM758.7,1179.2h6.8v6.8h-6.8zM761.3,1176.5h6.8v6.8h-6.8zM764,1174.2h6.8v6.8h-6.8zM766.9,1172h6.8v6.8h-6.8zM769.9,1169.9h6.8v6.8h-6.8zM772.9,1168h6.8v6.8h-6.8zM775.9,1166.3h6.8v6.8h-6.8zM778.6,1164.9h6.8v6.8h-6.8zM781.1,1163.8h6.8v6.8h-6.8zM783.8,1162.9h6.8v6.8h-6.8zM786.1,1162.6h6.8v6.8h-6.8zM788.7,1162.8h6.8v6.8h-6.8zM790.9,1163.3h6.8v6.8h-6.8zM793.6,1164h6.8v6.8h-6.8zM795.9,1164.5h6.8v6.8h-6.8zM798.2,1165.1h6.8v6.8h-6.8zM800.7,1165.9h6.8v6.8h-6.8zM803.3,1166.9h6.8v6.8h-6.8zM805.9,1168.3h6.8v6.8h-6.8zM808.5,1170.2h6.8v6.8h-6.8zM811.2,1172.6h6.8v6.8h-6.8zM814.1,1175.7h6.8v6.8h-6.8zM817.1,1179.2h6.8v6.8h-6.8zM820.1,1183h6.8v6.8h-6.8zM823.1,1187h6.8v6.8h-6.8zM825.8,1190.9h6.8v6.8h-6.8zM828.3,1194.6h6.8v6.8h-6.8zM831.1,1199.3h6.8v6.8h-6.8zM833.6,1204h6.8v6.8h-6.8zM835.8,1208.8h6.8v6.8h-6.8zM837.9,1213.5h6.8v6.8h-6.8zM840.2,1218.2h6.8v6.8h-6.8zM842.6,1223h6.8v6.8h-6.8zM844.9,1228h6.8v6.8h-6.8zM847.3,1232.9h6.8v6.8h-6.8zM849.6,1237.5h6.8v6.8h-6.8zM852,1241.8h6.8v6.8h-6.8zM854.4,1245.7h6.8v6.8h-6.8zM856.7,1249.2h6.8v6.8h-6.8zM859.1,1252.5h6.8v6.8h-6.8zM861.4,1255.6h6.8v6.8h-6.8zM863.8,1258.3h6.8v6.8h-6.8zM866.2,1260.6h6.8v6.8h-6.8zM868.5,1262.4h6.8v6.8h-6.8zM870.9,1264h6.8v6.8h-6.8zM873.2,1265.7h6.8v6.8h-6.8zM875.6,1267.8h6.8v6.8h-6.8zM878,1270.3h6.8v6.8h-6.8zM880.5,1272.9h6.8v6.8h-6.8zM883,1275.8h6.8v6.8h-6.8zM885.3,1278.8h6.8v6.8h-6.8zM887.9,1282.8h6.8v6.8h-6.8zM890.2,1287.4h6.8v6.8h-6.8zM892.4,1292.3h6.8v6.8h-6.8zM893.9,1297.2h6.8v6.8h-6.8zM894.6,1302.6h6.8v6.8h-6.8zM893.9,1307.7h6.8v6.8h-6.8zM892.3,1312.5h6.8v6.8h-6.8zM889.8,1317.4h6.8v6.8h-6.8zM887.5,1320.8h6.8v6.8h-6.8zM884.7,1324.2h6.8v6.8h-6.8zM882.4,1326.8h6.8v6.8h-6.8zM880,1329.3h6.8v6.8h-6.8zM877.7,1331.7h6.8v6.8h-6.8zM875,1334.6h6.8v6.8h-6.8zM872.4,1337h6.8v6.8h-6.8zM869.9,1339.2h6.8v6.8h-6.8zM867.5,1341.3h6.8v6.8h-6.8zM864.8,1344.4h6.8v6.8h-6.8zM862.5,1348.2h6.8v6.8h-6.8zM860.5,1353.3h6.8v6.8h-6.8zM858.9,1358.1h6.8v6.8h-6.8zM857.1,1363.5h6.8v6.8h-6.8zM854.9,1369.3h6.8v6.8h-6.8zM852.9,1374.4h6.8v6.8h-6.8zM850.8,1379.8h6.8v6.8h-6.8zM848.7,1385.6h6.8v6.8h-6.8zM846.6,1391.6h6.8v6.8h-6.8zM845.1,1396.5h6.8v6.8h-6.8zM843.6,1401.7h6.8v6.8h-6.8zM842.1,1407.1h6.8v6.8h-6.8zM840.6,1412.6h6.8v6.8h-6.8zM839.1,1418h6.8v6.8h-6.8zM837.6,1423.3h6.8v6.8h-6.8zM836.1,1428.2h6.8v6.8h-6.8zM834.4,1433.4h6.8v6.8h-6.8zM832.7,1438.7h6.8v6.8h-6.8zM831,1443.8h6.8v6.8h-6.8zM828.9,1450h6.8v6.8h-6.8zM827.2,1454.8h6.8v6.8h-6.8zM961.1,1161.5h6.8v6.8h-6.8zM958.7,1160.8h6.8v6.8h-6.8zM956,1160h6.8v6.8h-6.8zM953.7,1159.3h6.8v6.8h-6.8zM951.1,1158.4h6.8v6.8h-6.8zM948.4,1157.5h6.8v6.8h-6.8zM945.5,1156.4h6.8v6.8h-6.8zM942.3,1155h6.8v6.8h-6.8zM940.1,1153.9h6.8v6.8h-6.8zM937.7,1152.8h6.8v6.8h-6.8zM935.2,1151.6h6.8v6.8h-6.8zM932.7,1150.5h6.8v6.8h-6.8zM930.2,1149.4h6.8v6.8h-6.8zM927.7,1148.5h6.8v6.8h-6.8zM925.2,1147.8h6.8v6.8h-6.8zM922.8,1147.3h6.8v6.8h-6.8zM920.4,1147h6.8v6.8h-6.8zM918,1146.9h6.8v6.8h-6.8zM915.5,1146.8h6.8v6.8h-6.8zM913,1147h6.8v6.8h-6.8zM910.6,1147.2h6.8v6.8h-6.8zM908.1,1147.5h6.8v6.8h-6.8zM905.8,1147.9h6.8v6.8h-6.8zM903.5,1148.4h6.8v6.8h-6.8zM900.2,1149.4h6.8v6.8h-6.8zM897.3,1150.5h6.8v6.8h-6.8zM894.6,1152.1h6.8v6.8h-6.8zM892.1,1154h6.8v6.8h-6.8zM889.7,1156h6.8v6.8h-6.8zM887.4,1158h6.8v6.8h-6.8zM885.1,1159.9h6.8v6.8h-6.8zM882.7,1161.5h6.8v6.8h-6.8zM880.1,1162.8h6.8v6.8h-6.8zM877.5,1163.8h6.8v6.8h-6.8zM874.8,1164.6h6.8v6.8h-6.8zM872.2,1165.5h6.8v6.8h-6.8zM869.7,1166.4h6.8v6.8h-6.8zM867.5,1167.6h6.8v6.8h-6.8zM864.8,1169.7h6.8v6.8h-6.8zM862.6,1172h6.8v6.8h-6.8zM860.2,1175.3h6.8v6.8h-6.8zM857.8,1180h6.8v6.8h-6.8zM856,1184.7h6.8v6.8h-6.8zM854.7,1190.3h6.8v6.8h-6.8zM853.7,1196.5h6.8v6.8h-6.8zM852.9,1201.5h6.8v6.8h-6.8zM851.8,1207.6h6.8v6.8h-6.8zM850.6,1213.4h6.8v6.8h-6.8zM849.4,1219.2h6.8v6.8h-6.8zM848.2,1225.1h6.8v6.8h-6.8zM847.2,1230h6.8v6.8h-6.8zM846.1,1235.1h6.8v6.8h-6.8zM845,1240.3h6.8v6.8h-6.8zM843.8,1245.6h6.8v6.8h-6.8zM842.7,1251h6.8v6.8h-6.8zM841.6,1256.6h6.8v6.8h-6.8zM840.6,1262.4h6.8v6.8h-6.8zM839.6,1268.4h6.8v6.8h-6.8zM838.6,1274.4h6.8v6.8h-6.8zM837.6,1280.5h6.8v6.8h-6.8zM836.6,1286.6h6.8v6.8h-6.8zM835.6,1292.4h6.8v6.8h-6.8zM834.6,1298h6.8v6.8h-6.8zM833.5,1303.7h6.8v6.8h-6.8zM832.3,1309.8h6.8v6.8h-6.8zM831.2,1314.8h6.8v6.8h-6.8zM829.9,1320.3h6.8v6.8h-6.8zM828.4,1326.3h6.8v6.8h-6.8zM826.8,1332.7h6.8v6.8h-6.8zM825.1,1339.3h6.8v6.8h-6.8zM823.4,1346h6.8v6.8h-6.8zM821.7,1352.6h6.8v6.8h-6.8zM820.2,1359.1h6.8v6.8h-6.8zM818.8,1365.5h6.8v6.8h-6.8zM817.5,1371.8h6.8v6.8h-6.8zM816.2,1378.2h6.8v6.8h-6.8zM814.9,1384.6h6.8v6.8h-6.8zM813.7,1391h6.8v6.8h-6.8zM812.4,1397.3h6.8v6.8h-6.8zM811.2,1403.7h6.8v6.8h-6.8zM809.8,1410.1h6.8v6.8h-6.8zM808.4,1416.5h6.8v6.8h-6.8zM807.1,1422.9h6.8v6.8h-6.8zM805.8,1429.3h6.8v6.8h-6.8zM804.5,1435.7h6.8v6.8h-6.8zM803.4,1442.1h6.8v6.8h-6.8zM802.5,1448.4h6.8v6.8h-6.8zM801.7,1454.8h6.8v6.8h-6.8zM801,1461.2h6.8v6.8h-6.8zM800.4,1467.5h6.8v6.8h-6.8zM799.9,1473.9h6.8v6.8h-6.8zM799.4,1480.2h6.8v6.8h-6.8zM798.9,1486.6h6.8v6.8h-6.8zM798.5,1492.8h6.8v6.8h-6.8zM798.1,1498.9h6.8v6.8h-6.8zM797.8,1505h6.8v6.8h-6.8zM797.5,1511.2h6.8v6.8h-6.8zM797.3,1517.6h6.8v6.8h-6.8zM797,1524.4h6.8v6.8h-6.8zM796.7,1531.8h6.8v6.8h-6.8zM796.5,1537.5h6.8v6.8h-6.8zM796.2,1543.7h6.8v6.8h-6.8zM795.9,1550.2h6.8v6.8h-6.8zM795.7,1556.8h6.8v6.8h-6.8zM795.4,1563.3h6.8v6.8h-6.8zM795.2,1569.5h6.8v6.8h-6.8zM795,1575.1h6.8v6.8h-6.8zM794.7,1582.2h6.8v6.8h-6.8zM961.1,1196.9h6.8v6.8h-6.8zM958.5,1195.8h6.8v6.8h-6.8zM956.3,1194.8h6.8v6.8h-6.8zM953.7,1193.6h6.8v6.8h-6.8zM950.8,1192.4h6.8v6.8h-6.8zM947.8,1191.1h6.8v6.8h-6.8zM944.7,1189.9h6.8v6.8h-6.8zM941.6,1188.9h6.8v6.8h-6.8zM938.7,1188.1h6.8v6.8h-6.8zM935.9,1187.6h6.8v6.8h-6.8zM933.4,1187.5h6.8v6.8h-6.8zM930.9,1187.7h6.8v6.8h-6.8zM928.5,1188.1h6.8v6.8h-6.8zM926.1,1188.8h6.8v6.8h-6.8zM923.8,1189.6h6.8v6.8h-6.8zM921.5,1190.5h6.8v6.8h-6.8zM919.1,1191.5h6.8v6.8h-6.8zM916.8,1192.4h6.8v6.8h-6.8zM914.5,1193.4h6.8v6.8h-6.8zM912.2,1194.2h6.8v6.8h-6.8zM909.8,1195h6.8v6.8h-6.8zM907.4,1195.7h6.8v6.8h-6.8zM905,1196.4h6.8v6.8h-6.8zM902.6,1197.1h6.8v6.8h-6.8zM900.3,1197.9h6.8v6.8h-6.8zM897.9,1198.6h6.8v6.8h-6.8zM895.5,1199.3h6.8v6.8h-6.8zM893.1,1200h6.8v6.8h-6.8zM890.8,1200.7h6.8v6.8h-6.8zM888.5,1201.3h6.8v6.8h-6.8zM886.3,1201.9h6.8v6.8h-6.8zM884,1202.3h6.8v6.8h-6.8zM881.6,1202.7h6.8v6.8h-6.8zM879.3,1203h6.8v6.8h-6.8zM877,1203.3h6.8v6.8h-6.8zM874.7,1203.6h6.8v6.8h-6.8zM871.5,1204.2h6.8v6.8h-6.8zM868.6,1205.1h6.8v6.8h-6.8zM866.1,1206.4h6.8v6.8h-6.8zM863.4,1209h6.8v6.8h-6.8zM860.8,1213.2h6.8v6.8h-6.8zM858.8,1217.8h6.8v6.8h-6.8zM856.7,1222.9h6.8v6.8h-6.8zM854.7,1227.6h6.8v6.8h-6.8zM852.8,1232.9h6.8v6.8h-6.8zM946.5,1168.6h6.8v6.8h-6.8zM943.8,1173.8h6.8v6.8h-6.8zM941.3,1178.6h6.8v6.8h-6.8zM938.5,1183.9h6.8v6.8h-6.8zM935.8,1189.1h6.8v6.8h-6.8zM933.4,1193.9h6.8v6.8h-6.8zM931.1,1198.5h6.8v6.8h-6.8zM928.7,1203.1h6.8v6.8h-6.8zM926.3,1207.8h6.8v6.8h-6.8zM924,1213h6.8v6.8h-6.8zM921.6,1218.7h6.8v6.8h-6.8zM919.3,1224.9h6.8v6.8h-6.8zM917.5,1229.8h6.8v6.8h-6.8zM915.7,1234.9h6.8v6.8h-6.8zM913.9,1240.1h6.8v6.8h-6.8zM912.2,1245.4h6.8v6.8h-6.8zM910.4,1250.7h6.8v6.8h-6.8zM908.6,1256.3h6.8v6.8h-6.8zM906.7,1262.1h6.8v6.8h-6.8zM904.8,1267.9h6.8v6.8h-6.8zM903,1273.8h6.8v6.8h-6.8zM901.3,1279.5h6.8v6.8h-6.8zM899.7,1285h6.8v6.8h-6.8zM898.3,1290.1h6.8v6.8h-6.8zM897.2,1295.3h6.8v6.8h-6.8zM896.3,1300.3h6.8v6.8h-6.8zM895.1,1306.7h6.8v6.8h-6.8zM893.8,1312.4h6.8v6.8h-6.8zM892.1,1317.4h6.8v6.8h-6.8zM889.4,1322.3h6.8v6.8h-6.8zM886.9,1325.3h6.8v6.8h-6.8zM884.3,1327.8h6.8v6.8h-6.8zM881.6,1330h6.8v6.8h-6.8zM879.1,1332h6.8v6.8h-6.8zM876.5,1333.7h6.8v6.8h-6.8zM874,1335.1h6.8v6.8h-6.8zM871.4,1336.3h6.8v6.8h-6.8zM868.8,1337.2h6.8v6.8h-6.8zM866.3,1338.1h6.8v6.8h-6.8zM863.7,1338.5h6.8v6.8h-6.8zM861.2,1338.5h6.8v6.8h-6.8zM858.6,1338.7h6.8v6.8h-6.8zM856.1,1339.2h6.8v6.8h-6.8zM853.6,1340.4h6.8v6.8h-6.8zM851,1342.2h6.8v6.8h-6.8zM848.3,1344.4h6.8v6.8h-6.8zM845.7,1347h6.8v6.8h-6.8zM843.2,1350.1h6.8v6.8h-6.8zM840.8,1353.6h6.8v6.8h-6.8zM838.5,1357.6h6.8v6.8h-6.8zM835.8,1363.3h6.8v6.8h-6.8zM833.8,1368.3h6.8v6.8h-6.8zM831.8,1373.5h6.8v6.8h-6.8zM829.9,1378.8h6.8v6.8h-6.8zM828.1,1384.6h6.8v6.8h-6.8zM826.4,1390.6h6.8v6.8h-6.8zM824.8,1396.8h6.8v6.8h-6.8zM823.1,1402.9h6.8v6.8h-6.8zM821.5,1408.9h6.8v6.8h-6.8zM819.7,1414.9h6.8v6.8h-6.8zM818.1,1421h6.8v6.8h-6.8zM816.4,1427h6.8v6.8h-6.8zM814.7,1432.8h6.8v6.8h-6.8zM813,1438.4h6.8v6.8h-6.8zM811.2,1443.9h6.8v6.8h-6.8zM809.6,1449.2h6.8v6.8h-6.8zM807.9,1454.3h6.8v6.8h-6.8zM806.2,1459h6.8v6.8h-6.8zM804,1464.3h6.8v6.8h-6.8zM802,1469.1h6.8v6.8h-6.8zM799.5,1474.1h6.8v6.8h-6.8zM797.3,1477.6h6.8v6.8h-6.8zM794.8,1480.4h6.8v6.8h-6.8zM792,1482.6h6.8v6.8h-6.8zM789.8,1483.9h6.8v6.8h-6.8zM787.1,1484.6h6.8v6.8h-6.8zM784.7,1484.3h6.8v6.8h-6.8zM782.2,1483h6.8v6.8h-6.8zM779.8,1480.1h6.8v6.8h-6.8zM777.6,1476h6.8v6.8h-6.8zM775.6,1471.3h6.8v6.8h-6.8zM773.5,1465.5h6.8v6.8h-6.8zM771.9,1460.5h6.8v6.8h-6.8zM770.2,1455.3h6.8v6.8h-6.8zM768.6,1449.8h6.8v6.8h-6.8zM767,1444.2h6.8v6.8h-6.8zM765.4,1438.4h6.8v6.8h-6.8zM763.8,1432.2h6.8v6.8h-6.8zM762.1,1425.8h6.8v6.8h-6.8zM760.5,1419.2h6.8v6.8h-6.8zM758.9,1412.5h6.8v6.8h-6.8zM757.4,1405.9h6.8v6.8h-6.8zM755.9,1399.5h6.8v6.8h-6.8zM754.5,1393.1h6.8v6.8h-6.8zM753.2,1386.7h6.8v6.8h-6.8zM751.9,1380.3h6.8v6.8h-6.8zM750.6,1374h6.8v6.8h-6.8zM749.4,1367.6h6.8v6.8h-6.8zM748.3,1361.2h6.8v6.8h-6.8zM747.2,1354.8h6.8v6.8h-6.8zM746.2,1348.3h6.8v6.8h-6.8zM745.3,1341.7h6.8v6.8h-6.8zM744.4,1335.2h6.8v6.8h-6.8zM743.4,1328.8h6.8v6.8h-6.8zM742.5,1322.5h6.8v6.8h-6.8zM741.5,1316.6h6.8v6.8h-6.8zM740.4,1311h6.8v6.8h-6.8zM739.3,1305.7h6.8v6.8h-6.8zM738.2,1300.5h6.8v6.8h-6.8zM737.1,1295.5h6.8v6.8h-6.8zM735.9,1290.5h6.8v6.8h-6.8zM734.6,1285.5h6.8v6.8h-6.8zM733.4,1280.2h6.8v6.8h-6.8zM732,1274.8h6.8v6.8h-6.8zM730.5,1269.2h6.8v6.8h-6.8zM729.1,1263.6h6.8v6.8h-6.8zM727.6,1258.1h6.8v6.8h-6.8zM726.2,1252.9h6.8v6.8h-6.8zM724.8,1248h6.8v6.8h-6.8zM723.2,1242.2h6.8v6.8h-6.8zM721.7,1237.1h6.8v6.8h-6.8zM720,1231.3h6.8v6.8h-6.8zM718.3,1225.9h6.8v6.8h-6.8zM716.6,1220.9h6.8v6.8h-6.8zM714.6,1215.3h6.8v6.8h-6.8zM712.5,1210.4h6.8v6.8h-6.8zM710.2,1206.4h6.8v6.8h-6.8zM707.9,1203.8h6.8v6.8h-6.8zM705.2,1201.9h6.8v6.8h-6.8zM702.7,1200.4h6.8v6.8h-6.8zM700.5,1199.1h6.8v6.8h-6.8zM698.3,1198.6h6.8v6.8h-6.8zM951.2,1204h6.8v6.8h-6.8zM948.5,1210.8h6.8v6.8h-6.8zM946,1217.1h6.8v6.8h-6.8zM943.3,1224.2h6.8v6.8h-6.8zM940.6,1231.3h6.8v6.8h-6.8zM938.2,1238.1h6.8v6.8h-6.8zM935.8,1245h6.8v6.8h-6.8zM933.4,1252.2h6.8v6.8h-6.8zM931,1259.4h6.8v6.8h-6.8zM928.7,1266.6h6.8v6.8h-6.8zM926.6,1273.7h6.8v6.8h-6.8zM924.6,1280.8h6.8v6.8h-6.8zM922.7,1287.9h6.8v6.8h-6.8zM920.9,1295h6.8v6.8h-6.8zM919,1302.1h6.8v6.8h-6.8zM917.2,1309.2h6.8v6.8h-6.8zM915.4,1316.5h6.8v6.8h-6.8zM913.6,1323.9h6.8v6.8h-6.8zM911.7,1331.1h6.8v6.8h-6.8zM909.7,1337.9h6.8v6.8h-6.8zM907.6,1344h6.8v6.8h-6.8zM904.8,1350.8h6.8v6.8h-6.8zM901.8,1357.1h6.8v6.8h-6.8zM898.6,1363h6.8v6.8h-6.8zM895.2,1369h6.8v6.8h-6.8zM892.3,1374h6.8v6.8h-6.8zM889.3,1378.8h6.8v6.8h-6.8zM886.2,1383.3h6.8v6.8h-6.8zM883.1,1387.1h6.8v6.8h-6.8zM880.1,1389.8h6.8v6.8h-6.8zM876.9,1391.5h6.8v6.8h-6.8zM873.7,1392.5h6.8v6.8h-6.8zM870.6,1393.2h6.8v6.8h-6.8zM867.2,1394.3h6.8v6.8h-6.8zM864.1,1396.2h6.8v6.8h-6.8zM861,1398.8h6.8v6.8h-6.8zM858,1402h6.8v6.8h-6.8zM855,1404.1h6.8v6.8h-6.8zM852,1407.3h6.8v6.8h-6.8zM849.5,1413.7h6.8v6.8h-6.8zM847.8,1420.7h6.8v6.8h-6.8zM846.6,1427h6.8v6.8h-6.8zM845.4,1433.9h6.8v6.8h-6.8zM844.1,1441h6.8v6.8h-6.8zM842.8,1448.1h6.8v6.8h-6.8zM841.4,1454.8h6.8v6.8h-6.8zM839.9,1461.2h6.8v6.8h-6.8zM838.4,1467.5h6.8v6.8h-6.8zM836.8,1473.9h6.8v6.8h-6.8zM835.1,1480.3h6.8v6.8h-6.8zM833.5,1486.7h6.8v6.8h-6.8zM831.9,1493h6.8v6.8h-6.8zM830.3,1499.4h6.8v6.8h-6.8zM828.6,1505.7h6.8v6.8h-6.8zM826.9,1512h6.8v6.8h-6.8zM825.2,1518.3h6.8v6.8h-6.8zM823.6,1524.7h6.8v6.8h-6.8zM822.1,1531.1h6.8v6.8h-6.8zM820.6,1537.6h6.8v6.8h-6.8zM819.4,1544.5h6.8v6.8h-6.8zM818.2,1552.1h6.8v6.8h-6.8zM817,1560.1h6.8v6.8h-6.8zM816,1567.9h6.8v6.8h-6.8zM815.1,1575.1h6.8v6.8h-6.8zM814.4,1581.2h6.8v6.8h-6.8zM722,1211.1h6.8v6.8h-6.8zM725.3,1217.1h6.8v6.8h-6.8zM728.5,1223.3h6.8v6.8h-6.8zM731.2,1228.8h6.8v6.8h-6.8zM733.8,1234.7h6.8v6.8h-6.8zM736.2,1241h6.8v6.8h-6.8zM738.6,1248h6.8v6.8h-6.8zM740.9,1255.4h6.8v6.8h-6.8zM743.3,1262.9h6.8v6.8h-6.8zM745.7,1270.2h6.8v6.8h-6.8zM748.2,1277.4h6.8v6.8h-6.8zM750.7,1284.6h6.8v6.8h-6.8zM753.3,1291.8h6.8v6.8h-6.8zM755.6,1298.8h6.8v6.8h-6.8zM757.5,1305.6h6.8v6.8h-6.8zM759,1311.9h6.8v6.8h-6.8zM760,1317.9h6.8v6.8h-6.8zM761.1,1325.3h6.8v6.8h-6.8zM762,1331.5h6.8v6.8h-6.8zM763.1,1338.4h6.8v6.8h-6.8zM764.3,1346h6.8v6.8h-6.8zM765.3,1352h6.8v6.8h-6.8zM766.3,1358.1h6.8v6.8h-6.8zM767.2,1364.3h6.8v6.8h-6.8zM768.2,1370.5h6.8v6.8h-6.8zM769.1,1376.6h6.8v6.8h-6.8zM770,1382.6h6.8v6.8h-6.8zM770.9,1388.6h6.8v6.8h-6.8zM771.8,1394.6h6.8v6.8h-6.8zM772.6,1400.6h6.8v6.8h-6.8zM773.4,1406.6h6.8v6.8h-6.8zM774.2,1412.6h6.8v6.8h-6.8zM774.8,1418.6h6.8v6.8h-6.8zM775.4,1424.6h6.8v6.8h-6.8zM775.9,1430.6h6.8v6.8h-6.8zM776.3,1436.6h6.8v6.8h-6.8zM776.7,1442.6h6.8v6.8h-6.8zM777.1,1448.6h6.8v6.8h-6.8zM777.5,1454.6h6.8v6.8h-6.8zM777.8,1460.8h6.8v6.8h-6.8zM778.2,1467.5h6.8v6.8h-6.8zM778.6,1474.5h6.8v6.8h-6.8zM778.9,1481.3h6.8v6.8h-6.8zM779.2,1487.5h6.8v6.8h-6.8zM779.5,1494.2h6.8v6.8h-6.8zM713.9,1316.6h6.8v6.8h-6.8zM715.8,1324.2h6.8v6.8h-6.8zM717.4,1330.5h6.8v6.8h-6.8zM719.1,1337.6h6.8v6.8h-6.8zM721,1345h6.8v6.8h-6.8zM722.8,1352.3h6.8v6.8h-6.8zM724.5,1359.1h6.8v6.8h-6.8zM726.1,1365.5h6.8v6.8h-6.8zM727.7,1371.8h6.8v6.8h-6.8zM729.3,1378.2h6.8v6.8h-6.8zM730.9,1384.6h6.8v6.8h-6.8zM732.5,1391h6.8v6.8h-6.8zM734,1397.3h6.8v6.8h-6.8zM735.6,1403.7h6.8v6.8h-6.8zM737.3,1410.1h6.8v6.8h-6.8zM738.9,1416.5h6.8v6.8h-6.8zM740.5,1422.9h6.8v6.8h-6.8zM742.1,1429.3h6.8v6.8h-6.8zM743.7,1435.7h6.8v6.8h-6.8zM745.2,1442.1h6.8v6.8h-6.8zM746.6,1448.4h6.8v6.8h-6.8zM748,1454.8h6.8v6.8h-6.8zM749.4,1461.2h6.8v6.8h-6.8zM750.6,1467.5h6.8v6.8h-6.8zM751.9,1473.9h6.8v6.8h-6.8zM753.1,1480.2h6.8v6.8h-6.8zM754.2,1486.6h6.8v6.8h-6.8zM755.3,1492.8h6.8v6.8h-6.8zM756.3,1498.9h6.8v6.8h-6.8zM757.2,1505h6.8v6.8h-6.8zM758.1,1511.2h6.8v6.8h-6.8zM759,1517.6h6.8v6.8h-6.8zM760,1524.4h6.8v6.8h-6.8zM760.9,1531.8h6.8v6.8h-6.8zM762,1540.5h6.8v6.8h-6.8zM762.7,1546.9h6.8v6.8h-6.8zM763.5,1553.5h6.8v6.8h-6.8zM764.2,1560.1h6.8v6.8h-6.8zM764.9,1566.4h6.8v6.8h-6.8zM765.9,1575.1h6.8v6.8h-6.8zM766.6,1582.2h6.8v6.8h-6.8zM704.6,1286.6h6.8v6.8h-6.8zM706,1292.2h6.8v6.8h-6.8zM707.4,1297.3h6.8v6.8h-6.8zM708.6,1302.3h6.8v6.8h-6.8zM710,1308.1h6.8v6.8h-6.8zM711.1,1313.2h6.8v6.8h-6.8zM712.4,1318.9h6.8v6.8h-6.8zM713.8,1325h6.8v6.8h-6.8zM715.2,1331.4h6.8v6.8h-6.8zM716.7,1338h6.8v6.8h-6.8zM718.1,1344.5h6.8v6.8h-6.8zM719.6,1350.9h6.8v6.8h-6.8zM721,1357.5h6.8v6.8h-6.8zM722.5,1364.2h6.8v6.8h-6.8zM724,1371.1h6.8v6.8h-6.8zM725.6,1377.9h6.8v6.8h-6.8zM727.1,1384.8h6.8v6.8h-6.8zM728.6,1391.6h6.8v6.8h-6.8zM730.1,1398.4h6.8v6.8h-6.8zM731.6,1405.3h6.8v6.8h-6.8zM733.1,1412.1h6.8v6.8h-6.8zM734.6,1419h6.8v6.8h-6.8zM736.1,1425.7h6.8v6.8h-6.8zM737.6,1432.3h6.8v6.8h-6.8zM739.1,1438.7h6.8v6.8h-6.8zM740.6,1444.9h6.8v6.8h-6.8zM742.2,1451h6.8v6.8h-6.8zM743.7,1456.9h6.8v6.8h-6.8zM745.2,1462.8h6.8v6.8h-6.8zM746.7,1468.7h6.8v6.8h-6.8zM748.1,1474.6h6.8v6.8h-6.8zM749.5,1480.7h6.8v6.8h-6.8zM750.8,1487h6.8v6.8h-6.8zM752,1493.4h6.8v6.8h-6.8zM753.2,1499.7h6.8v6.8h-6.8zM754.4,1505.8h6.8v6.8h-6.8zM755.5,1511.5h6.8v6.8h-6.8zM756.6,1516.6h6.8v6.8h-6.8zM757.9,1522.5h6.8v6.8h-6.8zM759.1,1527.7h6.8v6.8h-6.8zM760.5,1533.3h6.8v6.8h-6.8zM762.1,1538.1h6.8v6.8h-6.8zM764.3,1542.7h6.8v6.8h-6.8zM766.5,1545.8h6.8v6.8h-6.8zM769.2,1548.4h6.8v6.8h-6.8zM771.9,1551h6.8v6.8h-6.8zM774.7,1553.6h6.8v6.8h-6.8zM777,1555.7h6.8v6.8h-6.8zM779.4,1557.8h6.8v6.8h-6.8zM781.8,1559.6h6.8v6.8h-6.8zM784,1560.9h6.8v6.8h-6.8zM786.7,1561.7h6.8v6.8h-6.8zM789.2,1561.3h6.8v6.8h-6.8zM791.4,1560.2h6.8v6.8h-6.8zM794,1557.9h6.8v6.8h-6.8zM796.4,1555.2h6.8v6.8h-6.8zM798.6,1551.7h6.8v6.8h-6.8zM800.6,1546.6h6.8v6.8h-6.8zM802.4,1541.6h6.8v6.8h-6.8zM804.7,1536h6.8v6.8h-6.8zM806.9,1530.7h6.8v6.8h-6.8zM809.1,1525.2h6.8v6.8h-6.8zM811.2,1519.7h6.8v6.8h-6.8zM813.1,1514.4h6.8v6.8h-6.8zM814.8,1509.2h6.8v6.8h-6.8zM816.5,1503.8h6.8v6.8h-6.8zM818.2,1497.9h6.8v6.8h-6.8zM819.7,1492.5h6.8v6.8h-6.8zM821.2,1486.7h6.8v6.8h-6.8zM822.8,1480.5h6.8v6.8h-6.8zM824.4,1474.3h6.8v6.8h-6.8zM826.2,1468.1h6.8v6.8h-6.8zM828.1,1461.8h6.8v6.8h-6.8zM829.8,1456.7h6.8v6.8h-6.8zM831.5,1451.4h6.8v6.8h-6.8zM833.2,1446.4h6.8v6.8h-6.8zM835.2,1440.7h6.8v6.8h-6.8z'/><path id='bd10' d='M701.3,940.9 L704.6,940 L709.2,938.7 L714.6,937.2 L720.2,935.7 L725.4,934.3 L730.2,933.1 L734.9,931.8 L739.6,930.6 L744.4,929.5 L749.1,928.4 L753.8,927.3 L758.5,926.3 L763.3,925.3 L768,924.4 L772.7,923.7 L777.4,923.2 L782.1,922.7 L786.9,922.5 L791.6,922.4 L796.3,922.5 L801,922.9 L805.7,923.7 L810.5,924.5 L815.2,925.4 L819.9,926.1 L824.6,926.8 L829.4,927.4 L834.1,928 L838.9,928.4 L843.6,928.4 L848.3,927.8 L853,926.7 L857.8,925.5 L862.5,924.4 L867.2,923.7 L871.9,923.5 L876.6,923.5 L881.4,923.8 L886.1,924.3 L890.8,924.9 L895.5,925.8 L900.2,926.9 L905,928.1 L909.7,929.5 L914.4,930.8 L919.1,932.2 L923.7,933.7 L928.4,935.3 L933.1,936.7 L938,937.9 L943.5,938.9 L949.7,939.7 L955.7,940.4 L960.8,941 L964.5,941.4M701.3,991 L704.6,990.4 L709.2,989.7 L714.6,988.7 L720.2,987.6 L725.4,986.3 L730.2,984.7 L734.9,982.8 L739.6,980.8 L744.4,978.8 L749.1,976.9 L753.8,975.1 L758.5,973.2 L763.3,971.4 L768,969.8 L772.7,968.6 L777.4,967.8 L782.1,967.3 L786.9,967.1 L791.6,967.1 L796.3,967.4 L801,967.9 L805.7,968.7 L810.5,969.8 L815.2,970.9 L819.9,972.1 L824.6,973.4 L829.4,974.9 L834.1,976.5 L838.9,978 L843.6,979.2 L848.3,980.2 L853,981 L857.8,981.7 L862.5,982.3 L867.2,982.8 L871.9,983.1 L876.6,983.3 L881.4,983.4 L886.1,983.6 L890.8,983.9 L895.5,984.5 L900.2,985.2 L905,985.9 L909.7,986.7 L914.4,987.5 L919.1,988.2 L923.7,989 L928.4,989.8 L933.1,990.4 L938,991 L943.5,991.4 L949.7,991.7 L955.7,991.9 L960.8,992.1 L964.5,992.2M701.3,1167.2 L703,1168.7 L705.4,1170.8 L708.1,1173.3 L711,1176.1 L713.6,1179.1 L716,1182.6 L718.4,1186.6 L720.7,1190.7 L723,1194.7 L725.4,1198 L727.8,1200.9 L730.1,1203.6 L732.5,1205.9 L734.8,1207.4 L737.2,1208 L739.5,1207.4 L741.7,1205.9 L744,1203.6 L746.4,1200.9 L749.1,1198 L752.1,1194.7 L755.3,1190.7 L758.6,1186.6 L762.1,1182.6 L765.6,1179.1 L769.3,1176.1 L773.3,1173.3 L777.3,1170.8 L781.1,1168.7 L784.5,1167.2 L787.2,1166.3 L789.5,1166 L791.6,1166.1 L793.8,1166.6 L796.3,1167.2 L799.3,1167.9 L802.4,1168.7 L805.8,1169.9 L809.3,1171.7 L812.8,1174.3 L816.5,1178 L820.5,1182.6 L824.5,1187.7 L828.3,1193 L831.7,1198 L834.5,1202.7 L837,1207.4 L839.2,1212.2 L841.3,1216.9 L843.6,1221.6 L846,1226.4 L848.3,1231.4 L850.7,1236.3 L853,1240.9 L855.4,1245.2 L857.8,1249.1 L860.1,1252.6 L862.5,1255.9 L864.8,1259 L867.2,1261.7 L869.6,1264 L871.9,1265.8 L874.3,1267.4 L876.6,1269.1 L879,1271.2 L881.4,1273.7 L883.9,1276.3 L886.4,1279.2 L888.7,1282.2 L890.8,1285.4 L892.7,1288.9 L894.5,1292.7M894.9,1317.5 L893.2,1320.8 L890.9,1324.2 L888.1,1327.6 L885,1331 L881.8,1334.3 L879,1337.3 L876.4,1339.9 L873.9,1342.1 L871.5,1344.2 L869.2,1346.5 L867.2,1349.2 L865.5,1352.4M964.5,1164.9 L962.7,1164.3 L960.1,1163.6 L957.1,1162.7 L953.6,1161.5 L949.9,1160.2 L945.7,1158.4 L941.1,1156.2 L936.1,1153.9 L931.1,1151.9 L926.2,1150.7 L921.4,1150.3 L916.4,1150.4 L911.5,1150.9 L906.9,1151.8 L902.6,1153.1 L898.8,1154.9 L895.5,1157.4 L892.4,1160.1 L889.3,1162.7 L886.1,1164.9 L882.7,1166.5 L879.1,1167.7 L875.6,1168.9 L872.4,1170.2 L869.5,1172 L867.1,1174.2 L865,1176.7 L863.2,1179.4 L861.6,1182.6M964.5,1200.3 L960.8,1198.8 L955.7,1196.4 L949.7,1193.9 L943.5,1191.9 L938,1190.9 L933.1,1191.3 L928.4,1192.6 L923.7,1194.4 L919.1,1196.3 L914.4,1198 L909.6,1199.4 L904.8,1200.9 L900.1,1202.4 L895.4,1203.7 L890.8,1205 L886.2,1205.9 L881.5,1206.5 L877.1,1207.1 L873,1208.1 L869.5,1209.8 L866.8,1212.4 L864.7,1215.7 L863,1219.3M949.9,1172 L948.3,1175.1 L946,1179.5 L943.3,1184.6 L940.6,1190 L938,1195 L935.6,1199.6 L933.3,1204.2 L930.9,1208.8 L928.6,1213.8M895.5,1320.8 L893.4,1324.8 L890.9,1328 L888.3,1330.6 L885.7,1332.8 L883.1,1334.9 L880.6,1336.7 L878,1338.2 L875.4,1339.4 L872.9,1340.4 L870.3,1341.3 L867.8,1341.8 L865.2,1341.9 L862.7,1342 L860.1,1342.4 L857.6,1343.4 L855,1345.1 L852.4,1347.2 L849.8,1349.7 L847.2,1352.7 L844.8,1356.1 L842.5,1360 L840.3,1364.4M805.4,1472.5 L803.8,1476 L802,1479 L800.2,1481.6 L798.2,1483.8 L796,1485.6 L793.7,1487 L791.5,1487.8 L789.5,1488 L787.7,1487.6 L786,1486.8 L784.4,1485.2 L782.8,1482.8 L781,1479.4M716.6,1215.4 L715.2,1212.4 L713.6,1209.8 L711.8,1207.7 L709.7,1206 L707.6,1204.6 L705.7,1203.6 L704.2,1202.7 L703.2,1202.1 L702.4,1201.9 L701.9,1201.9 L701.6,1202 L701.3,1202'/><path id='ln12' d='M698,1292.5 C699.5,1292.6 704.5,1292.6 707,1293 C709.5,1293.4 712,1294.7 713,1295M698,1346.8 C699.7,1346.8 705.2,1346.6 708,1347 C710.8,1347.4 713.8,1348.7 715,1349M940,1294.8 C941.7,1294.8 945.5,1294.8 950,1294.8 C954.5,1294.8 964.2,1294.8 967,1294.8M920,1346 C922.5,1346.3 930,1347.7 935,1348 C940,1348.3 944.7,1348 950,1348 C955.3,1348 964.2,1348 967,1348M872,1421 C872.8,1419.5 875.2,1414.8 877,1412 C878.8,1409.2 880.8,1406.3 883,1404 C885.2,1401.7 887.7,1399.5 890,1398 C892.3,1396.5 895.8,1395.5 897,1395'/></defs>
<use href='#bd10' fill='none' stroke-linecap='round' stroke-linejoin='round' stroke='#ff0a0a' stroke-width='6.8' stroke-opacity='1.0'/>
<use href='#mk11' fill='none' stroke='#ff0a0a' stroke-width='1.4'/>
<use href='#ln12' fill='none' stroke='#ff0a0a' stroke-width='6.5'/>
<g clip-path='url(#cb2)'>
<rect x='0' y='0' width='1270' height='1735' fill='#B083D8'/>
<use href='#bd10' fill='none' stroke-linecap='round' stroke-linejoin='round' stroke='#c646a8' stroke-width='6.8' stroke-opacity='1.0'/>
<use href='#mk11' fill='none' stroke='#c43ea6' stroke-width='1.4'/>
<use href='#ln12' fill='none' stroke='#c43ea6' stroke-width='6.5'/>
</g>
</g>
<line x1='701.3' y1='995.8' x2='964.5' y2='995.8' stroke='#7a52a6' stroke-width='1.3'/>
<line x1='701.3' y1='1148.3' x2='964.5' y2='1148.3' stroke='#7a52a6' stroke-width='1.3'/>
<line x1='701.3' y1='1300.7' x2='964.5' y2='1300.7' stroke='#7a52a6' stroke-width='1.3'/>
<line x1='701.3' y1='1343.5' x2='964.5' y2='1343.5' stroke='#7a52a6' stroke-width='1.3'/>
<path d='M701.3,893 L964.5,893 L964.5,1256 L964.5,1256 L960.8,1266.1 L957.2,1275.9 L953.5,1285.6 L949.9,1294.9 L946.2,1304 L942.5,1312.8 L938.9,1321.3 L935.2,1329.5 L931.6,1337.3 L927.9,1344.8 L924.3,1351.8 L920.6,1358.5 L916.9,1364.7 L913.3,1370.5 L909.6,1375.8 L906,1380.6 L902.3,1384.9 L898.7,1388.6 L895,1391.8 L891.3,1394.5 L887.7,1396.6 L884,1398.1 L880.4,1399 L876.7,1399.3 L829.2,1589 L760.5,1589 L701.3,1256 Z' fill='none' stroke='#3b2d4f' stroke-width='1.4'/>
<line x1='865.3' y1='894' x2='865.3' y2='1588' stroke='#ffffff' stroke-opacity='0.35' stroke-width='1'/>
<rect x='180.3' y='893' width='784.2' height='696' fill='none' stroke='#505050' stroke-width='1.5'/>
<line x1='441' y1='893' x2='441' y2='1256' stroke='#231a2e' stroke-width='1.6'/>
<line x1='701.3' y1='893' x2='701.3' y2='1256' stroke='#231a2e' stroke-width='1.6'/>
<text x='313' y='29.5' font-size='30' text-anchor='middle' font-weight='normal' fill='#1a1a1a' textLength='90.6' lengthAdjust='spacingAndGlyphs' >H/a = 1</text>
<text x='577.2' y='29.5' font-size='30' text-anchor='middle' font-weight='normal' fill='#1a1a1a' textLength='93.5' lengthAdjust='spacingAndGlyphs' >H/a = 2</text>
<text x='823.3' y='29.5' font-size='30' text-anchor='middle' font-weight='normal' fill='#1a1a1a' textLength='93' lengthAdjust='spacingAndGlyphs' >H/a = 3</text>
<text x='165.2' y='58.2' font-size='31' text-anchor='end' font-weight='normal' fill='#1a1a1a' >5</text>
<text x='165.2' y='136.7' font-size='31' text-anchor='end' font-weight='normal' fill='#1a1a1a' >4.5</text>
<text x='165.2' y='215.2' font-size='31' text-anchor='end' font-weight='normal' fill='#1a1a1a' >4</text>
<text x='165.2' y='293.8' font-size='31' text-anchor='end' font-weight='normal' fill='#1a1a1a' >3.5</text>
<text x='165.2' y='372.3' font-size='31' text-anchor='end' font-weight='normal' fill='#1a1a1a' >3</text>
<text x='165.2' y='450.8' font-size='31' text-anchor='end' font-weight='normal' fill='#1a1a1a' >2.5</text>
<text x='165.2' y='529.3' font-size='31' text-anchor='end' font-weight='normal' fill='#1a1a1a' >2</text>
<text x='165.2' y='607.9' font-size='31' text-anchor='end' font-weight='normal' fill='#1a1a1a' >1.5</text>
<text x='165.2' y='686.4' font-size='31' text-anchor='end' font-weight='normal' fill='#1a1a1a' >1</text>
<text x='172.5' y='710' font-size='31' text-anchor='middle' font-weight='normal' fill='#1a1a1a' >M</text>
<text x='263.5' y='714' font-size='35' text-anchor='middle' font-weight='normal' fill='#1a1a1a' >&#915;</text>
<text x='348.2' y='710' font-size='31' text-anchor='middle' font-weight='normal' fill='#1a1a1a' >X</text>
<text x='436.2' y='710' font-size='31' text-anchor='middle' font-weight='normal' fill='#1a1a1a' >M</text>
<text x='529.7' y='714' font-size='35' text-anchor='middle' font-weight='normal' fill='#1a1a1a' >&#915;</text>
<text x='611.8' y='710' font-size='31' text-anchor='middle' font-weight='normal' fill='#1a1a1a' >X</text>
<text x='700' y='710' font-size='31' text-anchor='middle' font-weight='normal' fill='#1a1a1a' >M</text>
<text x='789.3' y='714' font-size='35' text-anchor='middle' font-weight='normal' fill='#1a1a1a' >&#915;</text>
<text x='875.2' y='710' font-size='31' text-anchor='middle' font-weight='normal' fill='#1a1a1a' >X</text>
<text x='961.7' y='710' font-size='31' text-anchor='middle' font-weight='normal' fill='#1a1a1a' >M</text>
<text x='570' y='743' font-size='28.5' text-anchor='middle' font-weight='normal' fill='#1a1a1a' textLength='309' lengthAdjust='spacingAndGlyphs' >Reduced wavevector k*</text>
<text x='573.2' y='797.5' font-size='31' text-anchor='middle' font-weight='normal' fill='#1a1a1a' >(a)</text>
<text transform='translate(41.3,620.5) rotate(-90)' font-size='48' font-weight='bold' fill='#000' textLength='454' lengthAdjust='spacingAndGlyphs'>Cross-like cavities</text>
<text transform='translate(107,459) rotate(-90)' font-size='27' font-weight='normal' fill='#333' textLength='195' lengthAdjust='spacingAndGlyphs'>Frequency [Hz]</text>
<text x='329' y='863' font-size='29' text-anchor='middle' font-weight='normal' fill='#1a1a1a' textLength='90' lengthAdjust='spacingAndGlyphs' >H/a = 1</text>
<text x='593' y='863' font-size='29' text-anchor='middle' font-weight='normal' fill='#1a1a1a' textLength='93' lengthAdjust='spacingAndGlyphs' >H/a = 2</text>
<text x='838' y='863' font-size='29' text-anchor='middle' font-weight='normal' fill='#1a1a1a' textLength='93' lengthAdjust='spacingAndGlyphs' >H/a = 3</text>
<text x='173.5' y='905' font-size='31' text-anchor='end' font-weight='normal' fill='#1a1a1a' >8</text>
<text x='173.5' y='1012.1' font-size='31' text-anchor='end' font-weight='normal' fill='#1a1a1a' >7</text>
<text x='173.5' y='1119.1' font-size='31' text-anchor='end' font-weight='normal' fill='#1a1a1a' >6</text>
<text x='173.5' y='1226.2' font-size='31' text-anchor='end' font-weight='normal' fill='#1a1a1a' >5</text>
<text x='173.5' y='1333.3' font-size='31' text-anchor='end' font-weight='normal' fill='#1a1a1a' >4</text>
<text x='173.5' y='1440.4' font-size='31' text-anchor='end' font-weight='normal' fill='#1a1a1a' >3</text>
<text x='173.5' y='1547.5' font-size='31' text-anchor='end' font-weight='normal' fill='#1a1a1a' >2</text>
<text x='189.2' y='1620' font-size='30' text-anchor='middle' font-weight='normal' fill='#1a1a1a' >M</text>
<text x='274' y='1620' font-size='30' text-anchor='middle' font-weight='normal' fill='#1a1a1a' >&#915;</text>
<text x='359.3' y='1620' font-size='30' text-anchor='middle' font-weight='normal' fill='#1a1a1a' >X</text>
<text x='444.7' y='1620' font-size='30' text-anchor='middle' font-weight='normal' fill='#1a1a1a' >M</text>
<text x='530.2' y='1620' font-size='30' text-anchor='middle' font-weight='normal' fill='#1a1a1a' >&#915;</text>
<text x='615.2' y='1620' font-size='30' text-anchor='middle' font-weight='normal' fill='#1a1a1a' >X</text>
<text x='700.5' y='1620' font-size='30' text-anchor='middle' font-weight='normal' fill='#1a1a1a' >M</text>
<text x='786.4' y='1620' font-size='30' text-anchor='middle' font-weight='normal' fill='#1a1a1a' >&#915;</text>
<text x='871' y='1620' font-size='30' text-anchor='middle' font-weight='normal' fill='#1a1a1a' >X</text>
<text x='956.4' y='1620' font-size='30' text-anchor='middle' font-weight='normal' fill='#1a1a1a' >M</text>
<text x='590.5' y='1656' font-size='30' text-anchor='middle' font-weight='normal' fill='#1a1a1a' textLength='331' lengthAdjust='spacingAndGlyphs' >Reduced wavevector k*</text>
<text x='581.5' y='1726' font-size='31' text-anchor='middle' font-weight='normal' fill='#1a1a1a' >(b)</text>
<text transform='translate(40.3,1463) rotate(-90)' font-size='46' font-weight='bold' fill='#000' textLength='408' lengthAdjust='spacingAndGlyphs'>Hollow cylinders</text>
<text transform='translate(137.5,1341) rotate(-90)' font-size='27' font-weight='normal' fill='#333' textLength='201' lengthAdjust='spacingAndGlyphs'>Frequency [Hz]</text>
<text x='381.2' y='338.6' font-size='30' text-anchor='middle' font-weight='normal' fill='#1a1a1a' textLength='57.5' lengthAdjust='spacingAndGlyphs' >MS2</text>
<line x1='349.3' y1='337' x2='349.3' y2='385' stroke='#111' stroke-width='1.6'/>
<polyline points='338.7,367 349.2,385 361.5,366' fill='none' stroke='#111' stroke-width='1.6'/>
<text x='392' y='646.3' font-size='30' text-anchor='middle' font-weight='normal' fill='#1a1a1a' textLength='54.5' lengthAdjust='spacingAndGlyphs' >MS1</text>
<line x1='383.8' y1='613' x2='345.5' y2='542.8' stroke='#111' stroke-width='1.5'/>
<polyline points='345.2,564.6 345.5,542.8 365,553.6' fill='none' stroke='#111' stroke-width='1.5'/>

<defs>
  <filter id='blur2' x='-50%' y='-50%' width='200%' height='200%'><feGaussianBlur stdDeviation='2'/></filter>
  <filter id='blur3' x='-50%' y='-50%' width='200%' height='200%'><feGaussianBlur stdDeviation='3'/></filter>
  <filter id='blur5' x='-50%' y='-50%' width='200%' height='200%'><feGaussianBlur stdDeviation='5'/></filter>
  <filter id='blur7' x='-50%' y='-50%' width='200%' height='200%'><feGaussianBlur stdDeviation='7'/></filter>
  <linearGradient id='cLh' x1='1123' y1='0' x2='1179' y2='0' gradientUnits='userSpaceOnUse'>
    <stop offset='0' stop-color='#0010a0'/>
    <stop offset='0.09' stop-color='#0040ff'/>
    <stop offset='0.23' stop-color='#20e8ff'/>
    <stop offset='0.41' stop-color='#70ffa0'/>
    <stop offset='0.5' stop-color='#d8ff30'/>
    <stop offset='0.6' stop-color='#e8f830'/>
    <stop offset='0.7' stop-color='#60ffc0'/>
    <stop offset='0.8' stop-color='#20c8ff'/>
    <stop offset='0.9' stop-color='#0050ff'/>
    <stop offset='1' stop-color='#0000c0'/>
  </linearGradient>
  <linearGradient id='cRh' x1='1179' y1='0' x2='1254' y2='0' gradientUnits='userSpaceOnUse'>
    <stop offset='0' stop-color='#0000a0'/>
    <stop offset='0.08' stop-color='#0040ff'/>
    <stop offset='0.18' stop-color='#30f0e0'/>
    <stop offset='0.27' stop-color='#e0ff20'/>
    <stop offset='0.35' stop-color='#ff9800'/>
    <stop offset='0.43' stop-color='#e83800'/>
    <stop offset='0.51' stop-color='#ff9800'/>
    <stop offset='0.58' stop-color='#f0f020'/>
    <stop offset='0.67' stop-color='#40ffc0'/>
    <stop offset='0.76' stop-color='#10a0ff'/>
    <stop offset='0.87' stop-color='#0030ff'/>
    <stop offset='1' stop-color='#0000a0'/>
  </linearGradient>
  <linearGradient id='cFade1' x1='0' y1='125' x2='0' y2='215' gradientUnits='userSpaceOnUse'>
    <stop offset='0' stop-color='#0020ff' stop-opacity='0'/>
    <stop offset='0.3' stop-color='#0020ff' stop-opacity='0.05'/>
    <stop offset='0.65' stop-color='#0020ff' stop-opacity='0.7'/>
    <stop offset='0.85' stop-color='#0010e0' stop-opacity='1'/>
    <stop offset='1' stop-color='#0010e0' stop-opacity='1'/>
  </linearGradient>
  <linearGradient id='cFade2' x1='0' y1='190' x2='0' y2='232' gradientUnits='userSpaceOnUse'>
    <stop offset='0' stop-color='#00008c' stop-opacity='0'/>
    <stop offset='0.6' stop-color='#00008c' stop-opacity='0.85'/>
    <stop offset='1' stop-color='#00008c' stop-opacity='1'/>
  </linearGradient>
  <linearGradient id='dLv' x1='0' y1='540' x2='0' y2='660' gradientUnits='userSpaceOnUse'>
    <stop offset='0' stop-color='#0018c0'/>
    <stop offset='0.1' stop-color='#0010b0'/>
    <stop offset='0.25' stop-color='#20d8ff'/>
    <stop offset='0.4' stop-color='#b0f040'/>
    <stop offset='0.6' stop-color='#e8f030'/>
    <stop offset='0.75' stop-color='#50f0d0'/>
    <stop offset='0.85' stop-color='#20c0ff'/>
    <stop offset='0.95' stop-color='#0838ff'/>
    <stop offset='1' stop-color='#0a30f0'/>
  </linearGradient>
  <linearGradient id='dLlow' x1='1133' y1='0' x2='1186' y2='0' gradientUnits='userSpaceOnUse'>
    <stop offset='0' stop-color='#0830e8'/>
    <stop offset='0.5' stop-color='#0a36ff'/>
    <stop offset='1' stop-color='#0828e0'/>
  </linearGradient>
  <linearGradient id='dRlow' x1='1186' y1='0' x2='1265' y2='0' gradientUnits='userSpaceOnUse'>
    <stop offset='0' stop-color='#0a38f0'/>
    <stop offset='0.3' stop-color='#0420d8'/>
    <stop offset='0.5' stop-color='#00008c'/>
    <stop offset='0.65' stop-color='#0010b8'/>
    <stop offset='1' stop-color='#0a30e8'/>
  </linearGradient>
  <linearGradient id='cBase' x1='0' y1='100' x2='0' y2='230' gradientUnits='userSpaceOnUse'>
    <stop offset='0' stop-color='#30c8ff'/>
    <stop offset='0.3' stop-color='#1070ff'/>
    <stop offset='0.62' stop-color='#0010e0'/>
    <stop offset='0.85' stop-color='#000098'/>
    <stop offset='1' stop-color='#00008e'/>
  </linearGradient>
  <clipPath id='cTop'><path d='M1123,102 L1197.2,76.8 L1253.7,110 L1178.9,135 Z'/></clipPath>
  <clipPath id='cLeft'><path d='M1123,102 L1178.9,135 L1178.9,373.4 L1123.4,373.4 Z'/></clipPath>
  <clipPath id='cRight'><path d='M1178.9,135 L1253.7,110 L1253.7,373.4 L1178.9,373.4 Z'/></clipPath>
  <clipPath id='dTop'><path d='M1129.4,532.8 Q1160,512 1212.1,504.4 Q1240,520 1265.3,542.2 L1185,568.2 Z'/></clipPath>
  <clipPath id='dLeft'><path d='M1129.4,532.8 L1185,568.2 L1185,795.7 L1134.8,795.7 L1133,650 Q1130,600 1132,545 Z'/></clipPath>
  <clipPath id='dRight'><path d='M1185,568.2 L1265.3,542.2 Q1260,600 1264.5,650 L1263,795.7 L1185,795.7 Z'/></clipPath>
</defs>

<!-- (c) MS1 -->
<text x='1181' y='68' font-size='29.5' text-anchor='middle' fill='#222' textLength='60' lengthAdjust='spacingAndGlyphs'>MS1</text>
<g clip-path='url(#cLeft)'>
  <rect x='1120' y='95' width='62' height='282' fill='url(#cBase)'/>
  <g filter='url(#blur3)'>
    <ellipse cx='1140' cy='135' rx='9' ry='48' fill='#30f0ff'/>
    <ellipse cx='1167' cy='135' rx='8' ry='42' fill='#40e8ff'/>
    <ellipse cx='1154' cy='128' rx='6' ry='36' fill='#d8f848'/>
    <ellipse cx='1126' cy='150' rx='4' ry='60' fill='#0010b0'/>
    <ellipse cx='1177' cy='150' rx='3' ry='50' fill='#0020d0'/>
  </g>
</g>
<g clip-path='url(#cRight)'>
  <rect x='1176' y='100' width='80' height='277' fill='url(#cBase)'/>
  <g filter='url(#blur3)'>
    <ellipse cx='1196' cy='135' rx='12' ry='46' fill='#40f0e0'/>
    <ellipse cx='1233' cy='130' rx='10' ry='40' fill='#30d8ff'/>
    <ellipse cx='1209' cy='138' rx='11' ry='44' fill='#f0e828'/>
    <ellipse cx='1211' cy='135' rx='7' ry='36' fill='#ff8000'/>
    <ellipse cx='1210' cy='124' rx='4' ry='22' fill='#e02800'/>
    <ellipse cx='1181' cy='150' rx='3' ry='50' fill='#0020d0'/>
    <ellipse cx='1252' cy='150' rx='4' ry='50' fill='#0020d0'/>
  </g>
</g>
<g clip-path='url(#cTop)'>
  <rect x='1120' y='75' width='136' height='63' fill='#c8f060'/>
  <g filter='url(#blur3)'>
    <ellipse cx='1140' cy='104' rx='12' ry='6' fill='#50e8f0'/>
    <ellipse cx='1205' cy='84' rx='14' ry='5' fill='#50e0ff'/>
    <ellipse cx='1240' cy='110' rx='9' ry='5' fill='#60e8e0'/>
    <ellipse cx='1172' cy='128' rx='9' ry='5' fill='#60e0f0'/>
    <ellipse cx='1192' cy='106' rx='26' ry='11' fill='#ffa010'/>
  </g>
  <path d='M1160,96 L1176,90 L1186,94 L1196,90 L1212,98 L1206,104 L1220,110 L1204,118 L1196,114 L1188,122 L1172,114 L1178,110 L1160,104 Z' fill='#e83000'/>
  <path d='M1176,92 L1186,94 L1188,118 L1178,114 Z' fill='#ff1800'/>
  <path d='M1206,104 L1216,110 L1214,122 L1204,118 Z' fill='#d02000'/>
  <path d='M1146,111 L1200,92 L1232,108 L1180,127 Z' fill='none' stroke='#202020' stroke-width='0.9'/>
  <path d='M1123,102 L1197.2,76.8 L1253.7,110 L1178.9,135 Z' fill='none' stroke='#202020' stroke-width='1'/>
</g>
<path d='M1178.9,135 L1178.9,373.4' stroke='#000040' stroke-width='1.3'/>
<path d='M1123,191 L1178.9,219 L1253.7,198' stroke='#000060' stroke-width='0.8' fill='none'/>
<path d='M1146.4,112 L1146.4,165 M1205.5,122 L1205.5,183 M1223.5,118 L1223.5,175' stroke='#1a1a1a' stroke-width='0.9' opacity='0.8'/>
<text x='1187' y='413.5' font-size='30' text-anchor='middle' fill='#333'>(c)</text>

<!-- (d) MS2 -->
<text x='1205' y='484.8' font-size='29.5' text-anchor='middle' fill='#222' textLength='60.5' lengthAdjust='spacingAndGlyphs'>MS2</text>
<g clip-path='url(#dLeft)'>
  <rect x='1126' y='530' width='62' height='270' fill='url(#dLlow)'/>
  <path d='M1126,540 L1188,570 L1188,652 L1126,618 Z' fill='url(#dLv)'/>
  <g filter='url(#blur5)'>
    <ellipse cx='1160' cy='597' rx='16' ry='18' fill='#f8e820'/>
    <ellipse cx='1165' cy='597' rx='7' ry='13' fill='#ff2800'/>
  </g>
  <path d='M1128,544 L1186,578 L1186,588 L1128,554 Z' fill='#0010b8' filter='url(#blur2)'/>
  <path d='M1128,615 L1186,648 L1186,655 L1128,622 Z' fill='#20c8ff' filter='url(#blur2)' opacity='0.7'/>
</g>
<g clip-path='url(#dRight)'>
  <rect x='1183' y='540' width='85' height='260' fill='url(#dRlow)'/>
  <path d='M1183,568 L1268,540 L1268,628 L1183,652 Z' fill='#98e050' filter='url(#blur3)'/>
  <g filter='url(#blur5)'>
    <ellipse cx='1222' cy='572' rx='21' ry='26' fill='#f8b010'/>
    <ellipse cx='1223' cy='566' rx='13' ry='19' fill='#e82000'/>
    <ellipse cx='1222' cy='562' rx='8' ry='12' fill='#c01000'/>
    <ellipse cx='1190' cy='587' rx='6' ry='10' fill='#0018c0'/>
    <ellipse cx='1260' cy='566' rx='5' ry='12' fill='#0830e0'/>
    <ellipse cx='1225' cy='638' rx='9' ry='20' fill='#0008b0'/>
    <ellipse cx='1247' cy='608' rx='12' ry='9' fill='#a8e840'/>
    <ellipse cx='1200' cy='612' rx='10' ry='10' fill='#a0e050'/>
  </g>
</g>
<g clip-path='url(#dTop)'>
  <rect x='1126' y='500' width='142' height='72' fill='#50d8a0'/>
  <g filter='url(#blur5)'>
    <ellipse cx='1202' cy='530' rx='48' ry='20' fill='#f05000'/>
    <ellipse cx='1196' cy='523' rx='36' ry='13' fill='#d01000'/>
    <ellipse cx='1234' cy='541' rx='18' ry='10' fill='#d81800'/>
    <ellipse cx='1142' cy='536' rx='14' ry='7' fill='#50e0b0'/>
    <ellipse cx='1178' cy='557' rx='16' ry='6' fill='#a8e040'/>
  </g>
  <path d='M1182,522 L1190,519 L1196,528 L1202,520 L1206,536 L1192,544 L1184,536 Z' fill='#ff7000'/>
  <path d='M1206,530 L1214,526 L1214,546 L1208,548 Z' fill='#60d8a0'/>
  <path d='M1156,546 L1180,538 L1182,527 L1224,518 L1236,528 L1170,553 Z' fill='none' stroke='#1a1a1a' stroke-width='0.9'/>
</g>
<path d='M1129.4,532.8 Q1160,512 1212.1,504.4 Q1240,520 1265.3,542.2 L1185,568.2 Z' fill='none' stroke='#333' stroke-width='0.7'/>
<path d='M1185,568.2 L1185,795.7' stroke='#111' stroke-width='1'/>
<path d='M1133,613 L1185,648.5 L1264,625' stroke='#111' stroke-width='0.9' fill='none'/>
<path d='M1132,545 Q1130,600 1133,650 L1134.8,795.7 M1265.3,542.2 Q1260,600 1264.5,650 L1263,795.7' stroke='#555' stroke-width='0.8' fill='none'/>
<path d='M1155.4,573 L1155.4,614.3 M1169.6,581 L1169.6,625' stroke='#1a1a1a' stroke-width='1'/>
<text x='1197.7' y='840.5' font-size='30' text-anchor='middle' fill='#333'>(d)</text>

</svg>
</body></html>
